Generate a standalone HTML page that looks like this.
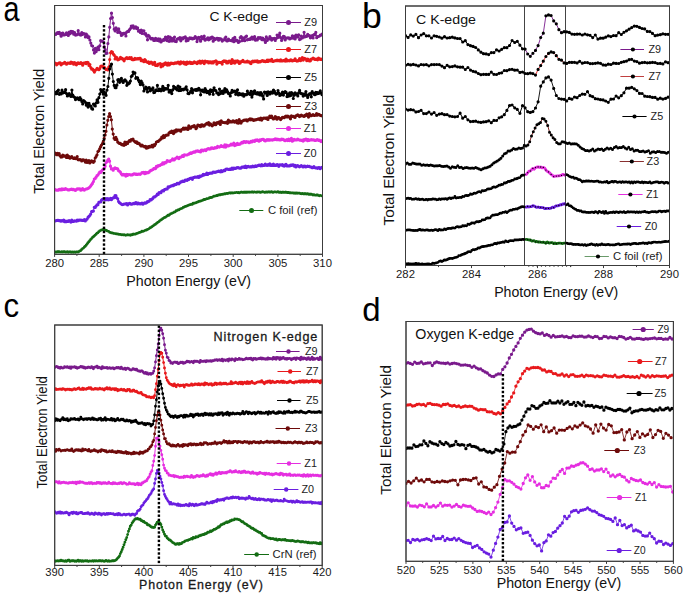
<!DOCTYPE html><html><head><meta charset="utf-8"><style>html,body{margin:0;padding:0;background:#fff;}svg{display:block;font-family:"Liberation Sans",sans-serif;}</style></head><body><svg width="685" height="594" viewBox="0 0 685 594" font-family="Liberation Sans, sans-serif"><rect width="685" height="594" fill="#fff"/><defs><clipPath id="ca"><rect x="54.6" y="5.5" width="267.9" height="248.8"/></clipPath><clipPath id="cb"><rect x="405.5" y="6" width="264" height="259.5"/></clipPath><clipPath id="cc"><rect x="54.7" y="325" width="267.5" height="240.4"/></clipPath><clipPath id="cd"><rect x="406" y="321.5" width="267.4" height="239.8"/></clipPath></defs><rect x="54.6" y="5.5" width="267.9" height="248.8" fill="none" stroke="#3c3c3c" stroke-width="1"/><text x="54.6" y="266.8" font-size="11.3" text-anchor="middle" fill="#1a1a1a">280</text><text x="99.2" y="266.8" font-size="11.3" text-anchor="middle" fill="#1a1a1a">285</text><text x="143.9" y="266.8" font-size="11.3" text-anchor="middle" fill="#1a1a1a">290</text><text x="188.5" y="266.8" font-size="11.3" text-anchor="middle" fill="#1a1a1a">295</text><text x="233.2" y="266.8" font-size="11.3" text-anchor="middle" fill="#1a1a1a">300</text><text x="277.9" y="266.8" font-size="11.3" text-anchor="middle" fill="#1a1a1a">305</text><text x="322.5" y="266.8" font-size="11.3" text-anchor="middle" fill="#1a1a1a">310</text><path d="M54.6 254.3v2.6M99.2 254.3v2.6M143.9 254.3v2.6M188.5 254.3v2.6M233.2 254.3v2.6M277.9 254.3v2.6M322.5 254.3v2.6M76.9 254.3v1.6M121.6 254.3v1.6M166.2 254.3v1.6M210.9 254.3v1.6M255.5 254.3v1.6M300.2 254.3v1.6" stroke="#3c3c3c" stroke-width="1" fill="none"/><g clip-path="url(#ca)"><path d="M54.8 33.9L55.7 34.4L56.6 33.5L57.5 32.5L58.4 33.3L59.3 32.4L60.2 34.1L61.1 36.2L62 33.3L62.9 33.1L63.8 34.9L64.7 34.8L65.6 34.4L66.5 32.8L67.4 34.3L68.3 35.5L69.2 32.2L70.1 33.7L71 31.4L71.9 32.4L72.8 31.6L73.7 34.2L74.6 32.6L75.5 35.1L76.4 34.9L77.3 34.4L78.2 30.7L79.1 33.9L80 34.8L80.9 35.1L81.8 32.5L82.7 34.3L83.6 33.5L84.5 33.9L85.4 37L86.3 34.1L87.2 35.4L88.1 37.6L89 36.9L89.9 40L90.8 43L91.7 45.6L92.6 46L93.5 49.9L94.4 53.1L95.3 48.4L96.2 51.6L97.1 49.3L98 47L98.9 49.7L99.8 45.8L100.7 40.7L101.6 41.2L102.5 41.4L103.4 41.8L104.3 46.9L105.2 49.7L106.1 53.4L107 53.2L107.9 43.5L108.8 36.9L109.7 27.3L110.6 18.5L111.5 13.2L112.4 17.5L113.3 23.3L114.2 29.2L115.1 30.9L116 27.8L116.9 29.5L117.8 32.5L118.7 28.9L119.6 31.9L120.5 32.9L121.4 35.4L122.3 34.8L123.2 33.3L124.1 33.3L125 33.4L125.9 35.9L126.8 32.1L127.7 31.4L128.6 31.5L129.5 29.7L130.4 28.5L131.3 26.1L132.2 27.1L133.1 25.9L134 28.2L134.9 27.5L135.8 26.8L136.7 28.6L137.6 27.9L138.5 31.2L139.4 30.5L140.3 32.4L141.2 30.2L142.1 33.5L143 30.8L143.9 30.8L144.8 34.1L145.7 33.7L146.6 35.9L147.5 39.8L148.4 35.4L149.3 36.3L150.2 38.1L151.1 39L152 38.3L152.9 38.7L153.8 40.5L154.7 40.5L155.6 38.3L156.5 40.1L157.4 40.4L158.3 38.8L159.2 40.9L160.1 39.1L161 42L161.9 40.8L162.8 40.6L163.7 39.4L164.6 40.1L165.5 37.1L166.4 38.4L167.3 40.7L168.2 36.7L169.1 41.3L170 37.1L170.9 41L171.8 38.4L172.7 40.9L173.6 39.8L174.5 37L175.4 41.4L176.3 41.6L177.2 39.1L178.1 38.7L179 38.9L179.9 37.5L180.8 40.8L181.7 38.1L182.6 38.9L183.5 37.6L184.4 37.9L185.3 36.9L186.2 40.9L187.1 38.7L188 40.4L188.9 38.9L189.8 37.8L190.7 38.4L191.6 38L192.5 38.9L193.4 38.3L194.3 38.4L195.2 36.7L196.1 37.6L197 41.6L197.9 37.9L198.8 37.3L199.7 39.5L200.6 41.2L201.5 36.7L202.4 38.7L203.3 38L204.2 36.2L205.1 40.2L206 39L206.9 39.1L207.8 37.8L208.7 39.8L209.6 38.2L210.5 38.8L211.4 37.3L212.3 37.1L213.2 41.2L214.1 38.3L215 39.6L215.9 39.1L216.8 38.4L217.7 38.3L218.6 40.2L219.5 38.7L220.4 38.9L221.3 39.2L222.2 41.1L223.1 40.3L224 39.8L224.9 38.3L225.8 37L226.7 40.8L227.6 40.8L228.5 39L229.4 40.1L230.3 40.5L231.2 40.6L232.1 40.8L233 38.6L233.9 41.7L234.8 37.3L235.7 40.7L236.6 40.1L237.5 40.7L238.4 42.4L239.3 41.7L240.2 37.5L241.1 36.7L242 40.7L242.9 37.8L243.8 39.4L244.7 40.7L245.6 36.8L246.5 36L247.4 39.8L248.3 39.5L249.2 39L250.1 39.5L251 38L251.9 37L252.8 39.1L253.7 37.8L254.6 36.7L255.5 40.2L256.4 39.3L257.3 40L258.2 37.7L259.1 38.3L260 37.7L260.9 37.8L261.8 39.6L262.7 38L263.6 39.8L264.5 39.7L265.4 42.4L266.3 36.9L267.2 40.5L268.1 38.9L269 39L269.9 36.6L270.8 38.2L271.7 40.1L272.6 38.7L273.5 38.9L274.4 38.3L275.3 40.5L276.2 38.6L277.1 35.1L278 37.4L278.9 35.3L279.8 33.2L280.7 37.5L281.6 40.4L282.5 38.3L283.4 36.3L284.3 36.6L285.2 39.9L286.1 38.2L287 38L287.9 37.8L288.8 37.8L289.7 39L290.6 38.5L291.5 37.9L292.4 35.8L293.3 38.2L294.2 36.3L295.1 39L296 35.2L296.9 36.9L297.8 37L298.7 34.8L299.6 39.6L300.5 39.1L301.4 36L302.3 37.9L303.2 37.2L304.1 32.3L305 36.8L305.9 36.2L306.8 36.3L307.7 34.4L308.6 35.6L309.5 35.7L310.4 37.8L311.3 36.3L312.2 35.7L313.1 38L314 34.6L314.9 34.8L315.8 32.4L316.7 37.7L317.6 36.7L318.5 36.5L319.4 36L320.3 35L321.2 35.1L322.1 34.2" fill="none" stroke="#7a1a8c" stroke-width="1.0" stroke-linejoin="round"/><path d="M54.8 33.9h0M55.7 34.4h0M56.6 33.5h0M57.5 32.5h0M58.4 33.3h0M59.3 32.4h0M60.2 34.1h0M61.1 36.2h0M62 33.3h0M62.9 33.1h0M63.8 34.9h0M64.7 34.8h0M65.6 34.4h0M66.5 32.8h0M67.4 34.3h0M68.3 35.5h0M69.2 32.2h0M70.1 33.7h0M71 31.4h0M71.9 32.4h0M72.8 31.6h0M73.7 34.2h0M74.6 32.6h0M75.5 35.1h0M76.4 34.9h0M77.3 34.4h0M78.2 30.7h0M79.1 33.9h0M80 34.8h0M80.9 35.1h0M81.8 32.5h0M82.7 34.3h0M83.6 33.5h0M84.5 33.9h0M85.4 37h0M86.3 34.1h0M87.2 35.4h0M88.1 37.6h0M89 36.9h0M89.9 40h0M90.8 43h0M91.7 45.6h0M92.6 46h0M93.5 49.9h0M94.4 53.1h0M95.3 48.4h0M96.2 51.6h0M97.1 49.3h0M98 47h0M98.9 49.7h0M99.8 45.8h0M100.7 40.7h0M101.6 41.2h0M102.5 41.4h0M103.4 41.8h0M104.3 46.9h0M105.2 49.7h0M106.1 53.4h0M107 53.2h0M107.9 43.5h0M108.8 36.9h0M109.7 27.3h0M110.6 18.5h0M111.5 13.2h0M112.4 17.5h0M113.3 23.3h0M114.2 29.2h0M115.1 30.9h0M116 27.8h0M116.9 29.5h0M117.8 32.5h0M118.7 28.9h0M119.6 31.9h0M120.5 32.9h0M121.4 35.4h0M122.3 34.8h0M123.2 33.3h0M124.1 33.3h0M125 33.4h0M125.9 35.9h0M126.8 32.1h0M127.7 31.4h0M128.6 31.5h0M129.5 29.7h0M130.4 28.5h0M131.3 26.1h0M132.2 27.1h0M133.1 25.9h0M134 28.2h0M134.9 27.5h0M135.8 26.8h0M136.7 28.6h0M137.6 27.9h0M138.5 31.2h0M139.4 30.5h0M140.3 32.4h0M141.2 30.2h0M142.1 33.5h0M143 30.8h0M143.9 30.8h0M144.8 34.1h0M145.7 33.7h0M146.6 35.9h0M147.5 39.8h0M148.4 35.4h0M149.3 36.3h0M150.2 38.1h0M151.1 39h0M152 38.3h0M152.9 38.7h0M153.8 40.5h0M154.7 40.5h0M155.6 38.3h0M156.5 40.1h0M157.4 40.4h0M158.3 38.8h0M159.2 40.9h0M160.1 39.1h0M161 42h0M161.9 40.8h0M162.8 40.6h0M163.7 39.4h0M164.6 40.1h0M165.5 37.1h0M166.4 38.4h0M167.3 40.7h0M168.2 36.7h0M169.1 41.3h0M170 37.1h0M170.9 41h0M171.8 38.4h0M172.7 40.9h0M173.6 39.8h0M174.5 37h0M175.4 41.4h0M176.3 41.6h0M177.2 39.1h0M178.1 38.7h0M179 38.9h0M179.9 37.5h0M180.8 40.8h0M181.7 38.1h0M182.6 38.9h0M183.5 37.6h0M184.4 37.9h0M185.3 36.9h0M186.2 40.9h0M187.1 38.7h0M188 40.4h0M188.9 38.9h0M189.8 37.8h0M190.7 38.4h0M191.6 38h0M192.5 38.9h0M193.4 38.3h0M194.3 38.4h0M195.2 36.7h0M196.1 37.6h0M197 41.6h0M197.9 37.9h0M198.8 37.3h0M199.7 39.5h0M200.6 41.2h0M201.5 36.7h0M202.4 38.7h0M203.3 38h0M204.2 36.2h0M205.1 40.2h0M206 39h0M206.9 39.1h0M207.8 37.8h0M208.7 39.8h0M209.6 38.2h0M210.5 38.8h0M211.4 37.3h0M212.3 37.1h0M213.2 41.2h0M214.1 38.3h0M215 39.6h0M215.9 39.1h0M216.8 38.4h0M217.7 38.3h0M218.6 40.2h0M219.5 38.7h0M220.4 38.9h0M221.3 39.2h0M222.2 41.1h0M223.1 40.3h0M224 39.8h0M224.9 38.3h0M225.8 37h0M226.7 40.8h0M227.6 40.8h0M228.5 39h0M229.4 40.1h0M230.3 40.5h0M231.2 40.6h0M232.1 40.8h0M233 38.6h0M233.9 41.7h0M234.8 37.3h0M235.7 40.7h0M236.6 40.1h0M237.5 40.7h0M238.4 42.4h0M239.3 41.7h0M240.2 37.5h0M241.1 36.7h0M242 40.7h0M242.9 37.8h0M243.8 39.4h0M244.7 40.7h0M245.6 36.8h0M246.5 36h0M247.4 39.8h0M248.3 39.5h0M249.2 39h0M250.1 39.5h0M251 38h0M251.9 37h0M252.8 39.1h0M253.7 37.8h0M254.6 36.7h0M255.5 40.2h0M256.4 39.3h0M257.3 40h0M258.2 37.7h0M259.1 38.3h0M260 37.7h0M260.9 37.8h0M261.8 39.6h0M262.7 38h0M263.6 39.8h0M264.5 39.7h0M265.4 42.4h0M266.3 36.9h0M267.2 40.5h0M268.1 38.9h0M269 39h0M269.9 36.6h0M270.8 38.2h0M271.7 40.1h0M272.6 38.7h0M273.5 38.9h0M274.4 38.3h0M275.3 40.5h0M276.2 38.6h0M277.1 35.1h0M278 37.4h0M278.9 35.3h0M279.8 33.2h0M280.7 37.5h0M281.6 40.4h0M282.5 38.3h0M283.4 36.3h0M284.3 36.6h0M285.2 39.9h0M286.1 38.2h0M287 38h0M287.9 37.8h0M288.8 37.8h0M289.7 39h0M290.6 38.5h0M291.5 37.9h0M292.4 35.8h0M293.3 38.2h0M294.2 36.3h0M295.1 39h0M296 35.2h0M296.9 36.9h0M297.8 37h0M298.7 34.8h0M299.6 39.6h0M300.5 39.1h0M301.4 36h0M302.3 37.9h0M303.2 37.2h0M304.1 32.3h0M305 36.8h0M305.9 36.2h0M306.8 36.3h0M307.7 34.4h0M308.6 35.6h0M309.5 35.7h0M310.4 37.8h0M311.3 36.3h0M312.2 35.7h0M313.1 38h0M314 34.6h0M314.9 34.8h0M315.8 32.4h0M316.7 37.7h0M317.6 36.7h0M318.5 36.5h0M319.4 36h0M320.3 35h0M321.2 35.1h0M322.1 34.2h0" fill="none" stroke="#7a1a8c" stroke-width="3.2" stroke-linecap="round"/><path d="M54.8 63.2L55.7 63.4L56.6 64.8L57.5 63.9L58.4 63.3L59.3 62.9L60.2 62.8L61.1 64.8L62 63.9L62.9 63.5L63.8 63.1L64.7 62.4L65.6 63.3L66.5 64.2L67.4 63L68.3 63.2L69.2 63.2L70.1 63.5L71 62L71.9 63.2L72.8 62.6L73.7 64.2L74.6 62.7L75.5 63.9L76.4 64.8L77.3 63.1L78.2 62.9L79.1 63.6L80 63.4L80.9 62.5L81.8 63.8L82.7 65.2L83.6 63.2L84.5 63.2L85.4 62.5L86.3 63.7L87.2 62.3L88.1 62.7L89 65.5L89.9 64.6L90.8 67.6L91.7 69.2L92.6 69.2L93.5 70.4L94.4 72.1L95.3 70.2L96.2 69.5L97.1 68.4L98 69.1L98.9 69.7L99.8 68.6L100.7 66.4L101.6 66.1L102.5 66.2L103.4 67.2L104.3 67.3L105.2 68.5L106.1 69.4L107 69.4L107.9 70L108.8 67.2L109.7 59.5L110.6 52.8L111.5 51.7L112.4 52L113.3 54.1L114.2 55.2L115.1 59L116 57.2L116.9 57.7L117.8 59.8L118.7 59.6L119.6 58.8L120.5 57.4L121.4 58.6L122.3 58.3L123.2 59.4L124.1 60.8L125 59L125.9 58L126.8 57.7L127.7 58.6L128.6 58.5L129.5 57.6L130.4 58.7L131.3 57.6L132.2 59.6L133.1 59.6L134 59.6L134.9 58.3L135.8 59.2L136.7 58.8L137.6 58.7L138.5 59L139.4 58.3L140.3 58.4L141.2 60.7L142.1 60L143 60.7L143.9 61.7L144.8 59.5L145.7 60.7L146.6 61.8L147.5 62.3L148.4 61.9L149.3 63.5L150.2 63L151.1 62L152 62.5L152.9 64.3L153.8 64.2L154.7 62.3L155.6 65.4L156.5 64.8L157.4 65.6L158.3 64.1L159.2 64.2L160.1 63.5L161 66.8L161.9 64.3L162.8 65.9L163.7 63.8L164.6 64.5L165.5 62.8L166.4 63.9L167.3 65.1L168.2 63L169.1 65L170 64.3L170.9 63L171.8 63.4L172.7 63.4L173.6 63.7L174.5 63.2L175.4 62.8L176.3 63.2L177.2 62.5L178.1 62.2L179 63.3L179.9 64L180.8 61.8L181.7 63.1L182.6 62.5L183.5 62.2L184.4 63.8L185.3 62.5L186.2 64.3L187.1 62.2L188 63.3L188.9 62.7L189.8 62.2L190.7 63.4L191.6 62.7L192.5 63.4L193.4 62.7L194.3 61.8L195.2 62.7L196.1 62.8L197 63.6L197.9 61.9L198.8 62.7L199.7 61.1L200.6 63.2L201.5 61.7L202.4 61L203.3 62.6L204.2 63.6L205.1 61.2L206 61.6L206.9 61.9L207.8 61.5L208.7 62.9L209.6 61.8L210.5 61.9L211.4 63L212.3 61.8L213.2 62.9L214.1 61.6L215 61.4L215.9 60.8L216.8 64.1L217.7 62.1L218.6 62.6L219.5 62.4L220.4 62.5L221.3 62.4L222.2 64.1L223.1 61.4L224 60.9L224.9 61.4L225.8 61.1L226.7 63L227.6 63L228.5 61.4L229.4 61L230.3 61.9L231.2 63.5L232.1 59.7L233 62.7L233.9 61.2L234.8 63.1L235.7 61.2L236.6 61.9L237.5 60.8L238.4 61.3L239.3 63.4L240.2 62.9L241.1 61.7L242 61.3L242.9 60.4L243.8 61.7L244.7 62L245.6 61.9L246.5 61.9L247.4 61L248.3 61.9L249.2 61.9L250.1 63.1L251 63.6L251.9 61.7L252.8 61.2L253.7 61.8L254.6 61.2L255.5 61.1L256.4 61.7L257.3 60.8L258.2 62.2L259.1 61.6L260 61.9L260.9 61.4L261.8 60.9L262.7 60.7L263.6 61.3L264.5 61L265.4 61.7L266.3 61.4L267.2 60.2L268.1 61.4L269 60.1L269.9 60.7L270.8 61L271.7 59.4L272.6 61.3L273.5 61.3L274.4 61L275.3 60.7L276.2 60.7L277.1 60.1L278 60.7L278.9 60.4L279.8 61L280.7 59.8L281.6 61L282.5 60.9L283.4 60.6L284.3 60.3L285.2 61.1L286.1 59.1L287 61L287.9 60.7L288.8 60.7L289.7 60.8L290.6 59.8L291.5 60.1L292.4 60.9L293.3 60.6L294.2 60.4L295.1 58.8L296 60.6L296.9 61.1L297.8 60.9L298.7 60.2L299.6 58.5L300.5 60.7L301.4 59.7L302.3 57.5L303.2 60.1L304.1 58.3L305 58.5L305.9 59L306.8 60.7L307.7 59.1L308.6 59.7L309.5 60.9L310.4 60.8L311.3 59.2L312.2 59L313.1 58L314 58.5L314.9 59.4L315.8 59.4L316.7 59.1L317.6 59.8L318.5 58.2L319.4 58.7L320.3 59.4L321.2 59.2L322.1 59.6" fill="none" stroke="#e8191c" stroke-width="1.0" stroke-linejoin="round"/><path d="M54.8 63.2h0M55.7 63.4h0M56.6 64.8h0M57.5 63.9h0M58.4 63.3h0M59.3 62.9h0M60.2 62.8h0M61.1 64.8h0M62 63.9h0M62.9 63.5h0M63.8 63.1h0M64.7 62.4h0M65.6 63.3h0M66.5 64.2h0M67.4 63h0M68.3 63.2h0M69.2 63.2h0M70.1 63.5h0M71 62h0M71.9 63.2h0M72.8 62.6h0M73.7 64.2h0M74.6 62.7h0M75.5 63.9h0M76.4 64.8h0M77.3 63.1h0M78.2 62.9h0M79.1 63.6h0M80 63.4h0M80.9 62.5h0M81.8 63.8h0M82.7 65.2h0M83.6 63.2h0M84.5 63.2h0M85.4 62.5h0M86.3 63.7h0M87.2 62.3h0M88.1 62.7h0M89 65.5h0M89.9 64.6h0M90.8 67.6h0M91.7 69.2h0M92.6 69.2h0M93.5 70.4h0M94.4 72.1h0M95.3 70.2h0M96.2 69.5h0M97.1 68.4h0M98 69.1h0M98.9 69.7h0M99.8 68.6h0M100.7 66.4h0M101.6 66.1h0M102.5 66.2h0M103.4 67.2h0M104.3 67.3h0M105.2 68.5h0M106.1 69.4h0M107 69.4h0M107.9 70h0M108.8 67.2h0M109.7 59.5h0M110.6 52.8h0M111.5 51.7h0M112.4 52h0M113.3 54.1h0M114.2 55.2h0M115.1 59h0M116 57.2h0M116.9 57.7h0M117.8 59.8h0M118.7 59.6h0M119.6 58.8h0M120.5 57.4h0M121.4 58.6h0M122.3 58.3h0M123.2 59.4h0M124.1 60.8h0M125 59h0M125.9 58h0M126.8 57.7h0M127.7 58.6h0M128.6 58.5h0M129.5 57.6h0M130.4 58.7h0M131.3 57.6h0M132.2 59.6h0M133.1 59.6h0M134 59.6h0M134.9 58.3h0M135.8 59.2h0M136.7 58.8h0M137.6 58.7h0M138.5 59h0M139.4 58.3h0M140.3 58.4h0M141.2 60.7h0M142.1 60h0M143 60.7h0M143.9 61.7h0M144.8 59.5h0M145.7 60.7h0M146.6 61.8h0M147.5 62.3h0M148.4 61.9h0M149.3 63.5h0M150.2 63h0M151.1 62h0M152 62.5h0M152.9 64.3h0M153.8 64.2h0M154.7 62.3h0M155.6 65.4h0M156.5 64.8h0M157.4 65.6h0M158.3 64.1h0M159.2 64.2h0M160.1 63.5h0M161 66.8h0M161.9 64.3h0M162.8 65.9h0M163.7 63.8h0M164.6 64.5h0M165.5 62.8h0M166.4 63.9h0M167.3 65.1h0M168.2 63h0M169.1 65h0M170 64.3h0M170.9 63h0M171.8 63.4h0M172.7 63.4h0M173.6 63.7h0M174.5 63.2h0M175.4 62.8h0M176.3 63.2h0M177.2 62.5h0M178.1 62.2h0M179 63.3h0M179.9 64h0M180.8 61.8h0M181.7 63.1h0M182.6 62.5h0M183.5 62.2h0M184.4 63.8h0M185.3 62.5h0M186.2 64.3h0M187.1 62.2h0M188 63.3h0M188.9 62.7h0M189.8 62.2h0M190.7 63.4h0M191.6 62.7h0M192.5 63.4h0M193.4 62.7h0M194.3 61.8h0M195.2 62.7h0M196.1 62.8h0M197 63.6h0M197.9 61.9h0M198.8 62.7h0M199.7 61.1h0M200.6 63.2h0M201.5 61.7h0M202.4 61h0M203.3 62.6h0M204.2 63.6h0M205.1 61.2h0M206 61.6h0M206.9 61.9h0M207.8 61.5h0M208.7 62.9h0M209.6 61.8h0M210.5 61.9h0M211.4 63h0M212.3 61.8h0M213.2 62.9h0M214.1 61.6h0M215 61.4h0M215.9 60.8h0M216.8 64.1h0M217.7 62.1h0M218.6 62.6h0M219.5 62.4h0M220.4 62.5h0M221.3 62.4h0M222.2 64.1h0M223.1 61.4h0M224 60.9h0M224.9 61.4h0M225.8 61.1h0M226.7 63h0M227.6 63h0M228.5 61.4h0M229.4 61h0M230.3 61.9h0M231.2 63.5h0M232.1 59.7h0M233 62.7h0M233.9 61.2h0M234.8 63.1h0M235.7 61.2h0M236.6 61.9h0M237.5 60.8h0M238.4 61.3h0M239.3 63.4h0M240.2 62.9h0M241.1 61.7h0M242 61.3h0M242.9 60.4h0M243.8 61.7h0M244.7 62h0M245.6 61.9h0M246.5 61.9h0M247.4 61h0M248.3 61.9h0M249.2 61.9h0M250.1 63.1h0M251 63.6h0M251.9 61.7h0M252.8 61.2h0M253.7 61.8h0M254.6 61.2h0M255.5 61.1h0M256.4 61.7h0M257.3 60.8h0M258.2 62.2h0M259.1 61.6h0M260 61.9h0M260.9 61.4h0M261.8 60.9h0M262.7 60.7h0M263.6 61.3h0M264.5 61h0M265.4 61.7h0M266.3 61.4h0M267.2 60.2h0M268.1 61.4h0M269 60.1h0M269.9 60.7h0M270.8 61h0M271.7 59.4h0M272.6 61.3h0M273.5 61.3h0M274.4 61h0M275.3 60.7h0M276.2 60.7h0M277.1 60.1h0M278 60.7h0M278.9 60.4h0M279.8 61h0M280.7 59.8h0M281.6 61h0M282.5 60.9h0M283.4 60.6h0M284.3 60.3h0M285.2 61.1h0M286.1 59.1h0M287 61h0M287.9 60.7h0M288.8 60.7h0M289.7 60.8h0M290.6 59.8h0M291.5 60.1h0M292.4 60.9h0M293.3 60.6h0M294.2 60.4h0M295.1 58.8h0M296 60.6h0M296.9 61.1h0M297.8 60.9h0M298.7 60.2h0M299.6 58.5h0M300.5 60.7h0M301.4 59.7h0M302.3 57.5h0M303.2 60.1h0M304.1 58.3h0M305 58.5h0M305.9 59h0M306.8 60.7h0M307.7 59.1h0M308.6 59.7h0M309.5 60.9h0M310.4 60.8h0M311.3 59.2h0M312.2 59h0M313.1 58h0M314 58.5h0M314.9 59.4h0M315.8 59.4h0M316.7 59.1h0M317.6 59.8h0M318.5 58.2h0M319.4 58.7h0M320.3 59.4h0M321.2 59.2h0M322.1 59.6h0" fill="none" stroke="#e8191c" stroke-width="3.2" stroke-linecap="round"/><path d="M54.8 93.8L55.7 92.4L56.6 93.7L57.5 91.2L58.4 90L59.3 94.3L60.2 93.2L61.1 94L62 90.2L62.9 92.9L63.8 92.6L64.7 92.2L65.6 89.7L66.5 93.5L67.4 96L68.3 95.2L69.2 93.5L70.1 94.8L71 96.5L71.9 90L72.8 95.2L73.7 96.7L74.6 97.3L75.5 99.6L76.4 98.9L77.3 97.8L78.2 98.3L79.1 99.7L80 97.7L80.9 99.1L81.8 101.5L82.7 104L83.6 100.6L84.5 101.3L85.4 102.3L86.3 105.2L87.2 103.4L88.1 107.1L89 103.3L89.9 105.6L90.8 106.2L91.7 108.5L92.6 109.2L93.5 104.1L94.4 104.6L95.3 106L96.2 102.9L97.1 99.9L98 102.3L98.9 97.7L99.8 94.1L100.7 89.6L101.6 91.7L102.5 90.1L103.4 94.2L104.3 92L105.2 93.3L106.1 95.3L107 90.1L107.9 86.5L108.8 78.3L109.7 69L110.6 66L111.5 64.2L112.4 74.1L113.3 81.5L114.2 85.4L115.1 87.6L116 87.7L116.9 85.2L117.8 79.9L118.7 79.6L119.6 82.3L120.5 79.5L121.4 78.4L122.3 81.1L123.2 82.4L124.1 80.7L125 79.8L125.9 80.8L126.8 85.3L127.7 82.8L128.6 83.8L129.5 82.9L130.4 81.1L131.3 76.5L132.2 75.7L133.1 72L134 73.3L134.9 72.9L135.8 78.3L136.7 77.6L137.6 77.9L138.5 80.2L139.4 81.9L140.3 84.6L141.2 81L142.1 82.8L143 84.8L143.9 91L144.8 88.6L145.7 87.1L146.6 89.1L147.5 92L148.4 87.9L149.3 87.7L150.2 90.8L151.1 89.6L152 90L152.9 87.9L153.8 92.6L154.7 92.3L155.6 90.2L156.5 90.5L157.4 85.4L158.3 90.6L159.2 89L160.1 90.3L161 90.8L161.9 88.9L162.8 86.4L163.7 90.3L164.6 88.3L165.5 89.1L166.4 88.6L167.3 89.1L168.2 85.4L169.1 92.1L170 90.3L170.9 91.9L171.8 93.6L172.7 89.9L173.6 86.4L174.5 88.2L175.4 87.6L176.3 88.9L177.2 90L178.1 86.1L179 90.6L179.9 87L180.8 90.5L181.7 89.7L182.6 89.3L183.5 89.8L184.4 88.9L185.3 88.8L186.2 86.8L187.1 89.9L188 93.5L188.9 93.7L189.8 92.5L190.7 91.4L191.6 88.7L192.5 92.8L193.4 90L194.3 90L195.2 89.6L196.1 90.4L197 89.4L197.9 90.1L198.8 88.3L199.7 89.7L200.6 94.8L201.5 90.4L202.4 90.1L203.3 91.6L204.2 92L205.1 88.6L206 90.4L206.9 92.6L207.8 91.5L208.7 91.3L209.6 94.1L210.5 89.9L211.4 91.4L212.3 90.4L213.2 94.3L214.1 87.8L215 90.3L215.9 90.7L216.8 93L217.7 93L218.6 94.6L219.5 89L220.4 93.6L221.3 91.7L222.2 91L223.1 93.4L224 90.7L224.9 88.6L225.8 91.9L226.7 89.9L227.6 91.6L228.5 93.6L229.4 93.5L230.3 96L231.2 92.7L232.1 90.3L233 91.8L233.9 91.6L234.8 91.1L235.7 94.3L236.6 92.3L237.5 89.8L238.4 94.9L239.3 93.4L240.2 94.4L241.1 94L242 95L242.9 93.9L243.8 96.2L244.7 94.7L245.6 94.7L246.5 94.7L247.4 91.2L248.3 93.7L249.2 93.5L250.1 94.4L251 91.4L251.9 97.1L252.8 94.2L253.7 91.7L254.6 90.8L255.5 93.5L256.4 93.8L257.3 92.6L258.2 94.2L259.1 92.8L260 95L260.9 92.6L261.8 93.9L262.7 95.9L263.6 98.9L264.5 92.1L265.4 93.1L266.3 92.4L267.2 95.5L268.1 91.8L269 93.1L269.9 93.9L270.8 92.1L271.7 92.2L272.6 93.1L273.5 90L274.4 91.2L275.3 93.2L276.2 94.2L277.1 93.6L278 90.6L278.9 93.1L279.8 95.5L280.7 95L281.6 93.8L282.5 92.2L283.4 95.1L284.3 92.8L285.2 91.7L286.1 92.4L287 96.6L287.9 94.3L288.8 96.1L289.7 92.9L290.6 95.6L291.5 92.7L292.4 93.5L293.3 98.5L294.2 95.2L295.1 92.8L296 93.6L296.9 94.4L297.8 96L298.7 92.8L299.6 90.4L300.5 93.1L301.4 93.7L302.3 93.8L303.2 96.1L304.1 94.2L305 95.1L305.9 91.5L306.8 95.2L307.7 97.5L308.6 94.9L309.5 93.9L310.4 93.7L311.3 96.8L312.2 91.6L313.1 93.1L314 94.2L314.9 94.7L315.8 92.4L316.7 93.8L317.6 92.7L318.5 93.4L319.4 92.9L320.3 90.9L321.2 93L322.1 94.7" fill="none" stroke="#000000" stroke-width="1.0" stroke-linejoin="round"/><path d="M54.8 93.8h0M55.7 92.4h0M56.6 93.7h0M57.5 91.2h0M58.4 90h0M59.3 94.3h0M60.2 93.2h0M61.1 94h0M62 90.2h0M62.9 92.9h0M63.8 92.6h0M64.7 92.2h0M65.6 89.7h0M66.5 93.5h0M67.4 96h0M68.3 95.2h0M69.2 93.5h0M70.1 94.8h0M71 96.5h0M71.9 90h0M72.8 95.2h0M73.7 96.7h0M74.6 97.3h0M75.5 99.6h0M76.4 98.9h0M77.3 97.8h0M78.2 98.3h0M79.1 99.7h0M80 97.7h0M80.9 99.1h0M81.8 101.5h0M82.7 104h0M83.6 100.6h0M84.5 101.3h0M85.4 102.3h0M86.3 105.2h0M87.2 103.4h0M88.1 107.1h0M89 103.3h0M89.9 105.6h0M90.8 106.2h0M91.7 108.5h0M92.6 109.2h0M93.5 104.1h0M94.4 104.6h0M95.3 106h0M96.2 102.9h0M97.1 99.9h0M98 102.3h0M98.9 97.7h0M99.8 94.1h0M100.7 89.6h0M101.6 91.7h0M102.5 90.1h0M103.4 94.2h0M104.3 92h0M105.2 93.3h0M106.1 95.3h0M107 90.1h0M107.9 86.5h0M108.8 78.3h0M109.7 69h0M110.6 66h0M111.5 64.2h0M112.4 74.1h0M113.3 81.5h0M114.2 85.4h0M115.1 87.6h0M116 87.7h0M116.9 85.2h0M117.8 79.9h0M118.7 79.6h0M119.6 82.3h0M120.5 79.5h0M121.4 78.4h0M122.3 81.1h0M123.2 82.4h0M124.1 80.7h0M125 79.8h0M125.9 80.8h0M126.8 85.3h0M127.7 82.8h0M128.6 83.8h0M129.5 82.9h0M130.4 81.1h0M131.3 76.5h0M132.2 75.7h0M133.1 72h0M134 73.3h0M134.9 72.9h0M135.8 78.3h0M136.7 77.6h0M137.6 77.9h0M138.5 80.2h0M139.4 81.9h0M140.3 84.6h0M141.2 81h0M142.1 82.8h0M143 84.8h0M143.9 91h0M144.8 88.6h0M145.7 87.1h0M146.6 89.1h0M147.5 92h0M148.4 87.9h0M149.3 87.7h0M150.2 90.8h0M151.1 89.6h0M152 90h0M152.9 87.9h0M153.8 92.6h0M154.7 92.3h0M155.6 90.2h0M156.5 90.5h0M157.4 85.4h0M158.3 90.6h0M159.2 89h0M160.1 90.3h0M161 90.8h0M161.9 88.9h0M162.8 86.4h0M163.7 90.3h0M164.6 88.3h0M165.5 89.1h0M166.4 88.6h0M167.3 89.1h0M168.2 85.4h0M169.1 92.1h0M170 90.3h0M170.9 91.9h0M171.8 93.6h0M172.7 89.9h0M173.6 86.4h0M174.5 88.2h0M175.4 87.6h0M176.3 88.9h0M177.2 90h0M178.1 86.1h0M179 90.6h0M179.9 87h0M180.8 90.5h0M181.7 89.7h0M182.6 89.3h0M183.5 89.8h0M184.4 88.9h0M185.3 88.8h0M186.2 86.8h0M187.1 89.9h0M188 93.5h0M188.9 93.7h0M189.8 92.5h0M190.7 91.4h0M191.6 88.7h0M192.5 92.8h0M193.4 90h0M194.3 90h0M195.2 89.6h0M196.1 90.4h0M197 89.4h0M197.9 90.1h0M198.8 88.3h0M199.7 89.7h0M200.6 94.8h0M201.5 90.4h0M202.4 90.1h0M203.3 91.6h0M204.2 92h0M205.1 88.6h0M206 90.4h0M206.9 92.6h0M207.8 91.5h0M208.7 91.3h0M209.6 94.1h0M210.5 89.9h0M211.4 91.4h0M212.3 90.4h0M213.2 94.3h0M214.1 87.8h0M215 90.3h0M215.9 90.7h0M216.8 93h0M217.7 93h0M218.6 94.6h0M219.5 89h0M220.4 93.6h0M221.3 91.7h0M222.2 91h0M223.1 93.4h0M224 90.7h0M224.9 88.6h0M225.8 91.9h0M226.7 89.9h0M227.6 91.6h0M228.5 93.6h0M229.4 93.5h0M230.3 96h0M231.2 92.7h0M232.1 90.3h0M233 91.8h0M233.9 91.6h0M234.8 91.1h0M235.7 94.3h0M236.6 92.3h0M237.5 89.8h0M238.4 94.9h0M239.3 93.4h0M240.2 94.4h0M241.1 94h0M242 95h0M242.9 93.9h0M243.8 96.2h0M244.7 94.7h0M245.6 94.7h0M246.5 94.7h0M247.4 91.2h0M248.3 93.7h0M249.2 93.5h0M250.1 94.4h0M251 91.4h0M251.9 97.1h0M252.8 94.2h0M253.7 91.7h0M254.6 90.8h0M255.5 93.5h0M256.4 93.8h0M257.3 92.6h0M258.2 94.2h0M259.1 92.8h0M260 95h0M260.9 92.6h0M261.8 93.9h0M262.7 95.9h0M263.6 98.9h0M264.5 92.1h0M265.4 93.1h0M266.3 92.4h0M267.2 95.5h0M268.1 91.8h0M269 93.1h0M269.9 93.9h0M270.8 92.1h0M271.7 92.2h0M272.6 93.1h0M273.5 90h0M274.4 91.2h0M275.3 93.2h0M276.2 94.2h0M277.1 93.6h0M278 90.6h0M278.9 93.1h0M279.8 95.5h0M280.7 95h0M281.6 93.8h0M282.5 92.2h0M283.4 95.1h0M284.3 92.8h0M285.2 91.7h0M286.1 92.4h0M287 96.6h0M287.9 94.3h0M288.8 96.1h0M289.7 92.9h0M290.6 95.6h0M291.5 92.7h0M292.4 93.5h0M293.3 98.5h0M294.2 95.2h0M295.1 92.8h0M296 93.6h0M296.9 94.4h0M297.8 96h0M298.7 92.8h0M299.6 90.4h0M300.5 93.1h0M301.4 93.7h0M302.3 93.8h0M303.2 96.1h0M304.1 94.2h0M305 95.1h0M305.9 91.5h0M306.8 95.2h0M307.7 97.5h0M308.6 94.9h0M309.5 93.9h0M310.4 93.7h0M311.3 96.8h0M312.2 91.6h0M313.1 93.1h0M314 94.2h0M314.9 94.7h0M315.8 92.4h0M316.7 93.8h0M317.6 92.7h0M318.5 93.4h0M319.4 92.9h0M320.3 90.9h0M321.2 93h0M322.1 94.7h0" fill="none" stroke="#000000" stroke-width="3.2" stroke-linecap="round"/><path d="M54.7 152.8L55.6 153.7L56.5 154.7L57.4 153.3L58.3 154.6L59.2 153.7L60.1 155.8L61 157.1L61.9 157L62.8 155.2L63.7 156.2L64.6 155.9L65.5 156L66.4 157.5L67.3 155.1L68.2 157.5L69.1 156.7L70 158.2L70.9 157.3L71.8 156.7L72.7 157.8L73.6 158.4L74.5 157.9L75.4 158.6L76.3 157.9L77.2 156.7L78.1 159.7L79 159.8L79.9 159.6L80.8 159.8L81.7 160.9L82.6 159.8L83.5 159.9L84.4 160.6L85.3 162.1L86.2 160L87.1 162.5L88 161L88.9 160.7L89.8 163L90.7 161.8L91.6 160.8L92.5 161.7L93.4 162.3L94.3 161.2L95.2 158L96.1 156.6L97 154.8L97.9 151.6L98.8 150.8L99.7 148.8L100.6 146.7L101.5 145L102.4 143.5L103.3 141.4L104.2 138.4L105.1 134.9L106 131.3L106.9 125L107.8 120.3L108.7 116.5L109.6 113.7L110.5 116.5L111.4 119.8L112.3 129.1L113.2 134.1L114.1 138.2L115 139.4L115.9 137.4L116.8 139.4L117.7 141.9L118.6 142.8L119.5 143.5L120.4 143.4L121.3 144.3L122.2 144.8L123.1 144.3L124 145.3L124.9 142.2L125.8 144.4L126.7 142.3L127.6 143.5L128.5 141.7L129.4 140.5L130.3 141.2L131.2 139.7L132.1 139.7L133 139.2L133.9 140.8L134.8 141.6L135.7 142.5L136.6 141.9L137.5 143.5L138.4 143.2L139.3 143.7L140.2 144.9L141.1 145.9L142 145.2L142.9 145.8L143.8 146.3L144.7 146.9L145.6 146.3L146.5 148.2L147.4 146.9L148.3 147.6L149.2 146.3L150.1 147L151 146.6L151.9 145.4L152.8 147L153.7 144.9L154.6 145.6L155.5 144.1L156.4 142L157.3 141.5L158.2 141.5L159.1 140.5L160 139.8L160.9 138.9L161.8 137L162.7 137.9L163.6 135.5L164.5 137.3L165.4 135.7L166.3 135.2L167.2 135.1L168.1 135L169 133L169.9 132.2L170.8 132.4L171.7 131.1L172.6 131.7L173.5 133.6L174.4 130.8L175.3 132L176.2 129.8L177.1 131L178 130.1L178.9 130.1L179.8 130.4L180.7 131.2L181.6 129.5L182.5 129.2L183.4 128L184.3 129.2L185.2 128.2L186.1 129L187 128L187.9 129.5L188.8 125.9L189.7 127.3L190.6 128.2L191.5 126.9L192.4 126.4L193.3 126.7L194.2 125.5L195.1 126.7L196 128.7L196.9 127.4L197.8 125.2L198.7 125.3L199.6 125.5L200.5 126.7L201.4 124.9L202.3 124.9L203.2 126.1L204.1 126L205 124.8L205.9 124L206.8 123.4L207.7 124.1L208.6 122.6L209.5 125.1L210.4 123.8L211.3 124.7L212.2 125.8L213.1 125L214 122.8L214.9 124.5L215.8 124.7L216.7 122.9L217.6 122.6L218.5 123.2L219.4 121.8L220.3 124.4L221.2 120.8L222.1 121.9L223 122.5L223.9 122.5L224.8 122.7L225.7 122.7L226.6 122.2L227.5 123.3L228.4 120.2L229.3 122.1L230.2 121.3L231.1 122L232 122L232.9 120.9L233.8 121L234.7 122.2L235.6 121.7L236.5 120.7L237.4 123L238.3 123.2L239.2 119.7L240.1 121.2L241 123.1L241.9 121.4L242.8 120.8L243.7 120.4L244.6 120L245.5 120.2L246.4 119.8L247.3 120.9L248.2 119.8L249.1 119.6L250 118.9L250.9 119.8L251.8 119L252.7 119.5L253.6 120.5L254.5 119.8L255.4 119.9L256.3 119.7L257.2 119.3L258.1 119.1L259 118.8L259.9 119.7L260.8 118L261.7 120.1L262.6 118.8L263.5 118L264.4 118.2L265.3 118L266.2 118.6L267.1 117.8L268 119.4L268.9 117.6L269.8 116.1L270.7 117.5L271.6 116.2L272.5 117.9L273.4 118.9L274.3 118.4L275.2 116.6L276.1 117L277 119.2L277.9 117.9L278.8 117.5L279.7 118.4L280.6 119.6L281.5 118.5L282.4 117.4L283.3 117.5L284.2 117.7L285.1 116.5L286 116L286.9 117L287.8 116L288.7 116.8L289.6 116.9L290.5 118.8L291.4 115.9L292.3 116.5L293.2 116.4L294.1 116.9L295 117.4L295.9 115.9L296.8 115.6L297.7 114.8L298.6 115.4L299.5 116.6L300.4 116.1L301.3 115.1L302.2 115.7L303.1 116L304 116.4L304.9 115.3L305.8 115.6L306.7 114.1L307.6 114.7L308.5 117.1L309.4 113.6L310.3 115.3L311.2 115.7L312.1 115.1L313 114.7L313.9 115.3L314.8 115.3L315.7 115.2L316.6 113.6L317.5 115.1L318.4 114.4L319.3 114.6L320.2 115.3L321.1 115.6L322 115.8" fill="none" stroke="#6e0a0a" stroke-width="1.0" stroke-linejoin="round"/><path d="M54.7 152.8h0M55.6 153.7h0M56.5 154.7h0M57.4 153.3h0M58.3 154.6h0M59.2 153.7h0M60.1 155.8h0M61 157.1h0M61.9 157h0M62.8 155.2h0M63.7 156.2h0M64.6 155.9h0M65.5 156h0M66.4 157.5h0M67.3 155.1h0M68.2 157.5h0M69.1 156.7h0M70 158.2h0M70.9 157.3h0M71.8 156.7h0M72.7 157.8h0M73.6 158.4h0M74.5 157.9h0M75.4 158.6h0M76.3 157.9h0M77.2 156.7h0M78.1 159.7h0M79 159.8h0M79.9 159.6h0M80.8 159.8h0M81.7 160.9h0M82.6 159.8h0M83.5 159.9h0M84.4 160.6h0M85.3 162.1h0M86.2 160h0M87.1 162.5h0M88 161h0M88.9 160.7h0M89.8 163h0M90.7 161.8h0M91.6 160.8h0M92.5 161.7h0M93.4 162.3h0M94.3 161.2h0M95.2 158h0M96.1 156.6h0M97 154.8h0M97.9 151.6h0M98.8 150.8h0M99.7 148.8h0M100.6 146.7h0M101.5 145h0M102.4 143.5h0M103.3 141.4h0M104.2 138.4h0M105.1 134.9h0M106 131.3h0M106.9 125h0M107.8 120.3h0M108.7 116.5h0M109.6 113.7h0M110.5 116.5h0M111.4 119.8h0M112.3 129.1h0M113.2 134.1h0M114.1 138.2h0M115 139.4h0M115.9 137.4h0M116.8 139.4h0M117.7 141.9h0M118.6 142.8h0M119.5 143.5h0M120.4 143.4h0M121.3 144.3h0M122.2 144.8h0M123.1 144.3h0M124 145.3h0M124.9 142.2h0M125.8 144.4h0M126.7 142.3h0M127.6 143.5h0M128.5 141.7h0M129.4 140.5h0M130.3 141.2h0M131.2 139.7h0M132.1 139.7h0M133 139.2h0M133.9 140.8h0M134.8 141.6h0M135.7 142.5h0M136.6 141.9h0M137.5 143.5h0M138.4 143.2h0M139.3 143.7h0M140.2 144.9h0M141.1 145.9h0M142 145.2h0M142.9 145.8h0M143.8 146.3h0M144.7 146.9h0M145.6 146.3h0M146.5 148.2h0M147.4 146.9h0M148.3 147.6h0M149.2 146.3h0M150.1 147h0M151 146.6h0M151.9 145.4h0M152.8 147h0M153.7 144.9h0M154.6 145.6h0M155.5 144.1h0M156.4 142h0M157.3 141.5h0M158.2 141.5h0M159.1 140.5h0M160 139.8h0M160.9 138.9h0M161.8 137h0M162.7 137.9h0M163.6 135.5h0M164.5 137.3h0M165.4 135.7h0M166.3 135.2h0M167.2 135.1h0M168.1 135h0M169 133h0M169.9 132.2h0M170.8 132.4h0M171.7 131.1h0M172.6 131.7h0M173.5 133.6h0M174.4 130.8h0M175.3 132h0M176.2 129.8h0M177.1 131h0M178 130.1h0M178.9 130.1h0M179.8 130.4h0M180.7 131.2h0M181.6 129.5h0M182.5 129.2h0M183.4 128h0M184.3 129.2h0M185.2 128.2h0M186.1 129h0M187 128h0M187.9 129.5h0M188.8 125.9h0M189.7 127.3h0M190.6 128.2h0M191.5 126.9h0M192.4 126.4h0M193.3 126.7h0M194.2 125.5h0M195.1 126.7h0M196 128.7h0M196.9 127.4h0M197.8 125.2h0M198.7 125.3h0M199.6 125.5h0M200.5 126.7h0M201.4 124.9h0M202.3 124.9h0M203.2 126.1h0M204.1 126h0M205 124.8h0M205.9 124h0M206.8 123.4h0M207.7 124.1h0M208.6 122.6h0M209.5 125.1h0M210.4 123.8h0M211.3 124.7h0M212.2 125.8h0M213.1 125h0M214 122.8h0M214.9 124.5h0M215.8 124.7h0M216.7 122.9h0M217.6 122.6h0M218.5 123.2h0M219.4 121.8h0M220.3 124.4h0M221.2 120.8h0M222.1 121.9h0M223 122.5h0M223.9 122.5h0M224.8 122.7h0M225.7 122.7h0M226.6 122.2h0M227.5 123.3h0M228.4 120.2h0M229.3 122.1h0M230.2 121.3h0M231.1 122h0M232 122h0M232.9 120.9h0M233.8 121h0M234.7 122.2h0M235.6 121.7h0M236.5 120.7h0M237.4 123h0M238.3 123.2h0M239.2 119.7h0M240.1 121.2h0M241 123.1h0M241.9 121.4h0M242.8 120.8h0M243.7 120.4h0M244.6 120h0M245.5 120.2h0M246.4 119.8h0M247.3 120.9h0M248.2 119.8h0M249.1 119.6h0M250 118.9h0M250.9 119.8h0M251.8 119h0M252.7 119.5h0M253.6 120.5h0M254.5 119.8h0M255.4 119.9h0M256.3 119.7h0M257.2 119.3h0M258.1 119.1h0M259 118.8h0M259.9 119.7h0M260.8 118h0M261.7 120.1h0M262.6 118.8h0M263.5 118h0M264.4 118.2h0M265.3 118h0M266.2 118.6h0M267.1 117.8h0M268 119.4h0M268.9 117.6h0M269.8 116.1h0M270.7 117.5h0M271.6 116.2h0M272.5 117.9h0M273.4 118.9h0M274.3 118.4h0M275.2 116.6h0M276.1 117h0M277 119.2h0M277.9 117.9h0M278.8 117.5h0M279.7 118.4h0M280.6 119.6h0M281.5 118.5h0M282.4 117.4h0M283.3 117.5h0M284.2 117.7h0M285.1 116.5h0M286 116h0M286.9 117h0M287.8 116h0M288.7 116.8h0M289.6 116.9h0M290.5 118.8h0M291.4 115.9h0M292.3 116.5h0M293.2 116.4h0M294.1 116.9h0M295 117.4h0M295.9 115.9h0M296.8 115.6h0M297.7 114.8h0M298.6 115.4h0M299.5 116.6h0M300.4 116.1h0M301.3 115.1h0M302.2 115.7h0M303.1 116h0M304 116.4h0M304.9 115.3h0M305.8 115.6h0M306.7 114.1h0M307.6 114.7h0M308.5 117.1h0M309.4 113.6h0M310.3 115.3h0M311.2 115.7h0M312.1 115.1h0M313 114.7h0M313.9 115.3h0M314.8 115.3h0M315.7 115.2h0M316.6 113.6h0M317.5 115.1h0M318.4 114.4h0M319.3 114.6h0M320.2 115.3h0M321.1 115.6h0M322 115.8h0" fill="none" stroke="#6e0a0a" stroke-width="3.2" stroke-linecap="round"/><path d="M54.7 189.3L55.6 190L56.5 190.1L57.4 190.1L58.3 190.2L59.2 189.4L60.1 189.4L61 189.9L61.9 188.8L62.8 189.6L63.7 189.2L64.6 189.3L65.5 188.6L66.4 189.1L67.3 189.5L68.2 189.9L69.1 190L70 189.5L70.9 189.4L71.8 189.1L72.7 189.7L73.6 189.4L74.5 189.8L75.4 190.4L76.3 189.5L77.2 188.8L78.1 189.1L79 188.8L79.9 188.9L80.8 190.2L81.7 189.6L82.6 188.7L83.5 189.8L84.4 190.1L85.3 189.3L86.2 189L87.1 188.8L88 188.5L88.9 187.8L89.8 187.1L90.7 185.9L91.6 184.6L92.5 183.4L93.4 181.6L94.3 179.1L95.2 178.4L96.1 177.2L97 175.6L97.9 175.1L98.8 173.5L99.7 172.2L100.6 172.5L101.5 171.2L102.4 170L103.3 169.4L104.2 168.2L105.1 166.2L106 162.8L106.9 161.7L107.8 160.2L108.7 159.1L109.6 161.2L110.5 166.2L111.4 168.9L112.3 168.9L113.2 170.2L114.1 168.6L115 167.8L115.9 168.4L116.8 168.7L117.7 168.9L118.6 170.7L119.5 171.3L120.4 172.2L121.3 173.8L122.2 174.9L123.1 174.4L124 174.9L124.9 174.6L125.8 176.1L126.7 174.3L127.6 175.3L128.5 174.5L129.4 174.5L130.3 174.8L131.2 174.9L132.1 175L133 174.4L133.9 173.9L134.8 173.9L135.7 174.3L136.6 174.2L137.5 174.5L138.4 174L139.3 174.2L140.2 174.3L141.1 173.5L142 172.6L142.9 172.6L143.8 172.4L144.7 173.7L145.6 172.3L146.5 173.1L147.4 172.5L148.3 172.7L149.2 171.9L150.1 170.9L151 170.4L151.9 170.1L152.8 169.6L153.7 168.7L154.6 168.4L155.5 168.6L156.4 166.4L157.3 166.8L158.2 165.7L159.1 165.7L160 165.5L160.9 164.6L161.8 164.5L162.7 162.9L163.6 163.9L164.5 162.7L165.4 162.9L166.3 162.3L167.2 160.5L168.1 161.1L169 161.2L169.9 161.5L170.8 160.5L171.7 160.1L172.6 158.9L173.5 160L174.4 159.8L175.3 158.6L176.2 158.1L177.1 157.1L178 158L178.9 158.6L179.8 157.3L180.7 157.2L181.6 156.6L182.5 155.5L183.4 156.4L184.3 154.8L185.2 155L186.1 155L187 155L187.9 154.5L188.8 154.2L189.7 153.4L190.6 152.9L191.5 153.3L192.4 152.7L193.3 152.2L194.2 151.9L195.1 152.1L196 151.2L196.9 151.2L197.8 150.8L198.7 151.5L199.6 151.4L200.5 152L201.4 150L202.3 150.2L203.2 150.8L204.1 150L205 149.8L205.9 150.6L206.8 149.4L207.7 148.8L208.6 148.5L209.5 149.1L210.4 148.9L211.3 147.9L212.2 147.9L213.1 148.4L214 148.3L214.9 147.5L215.8 147.9L216.7 147.7L217.6 146.4L218.5 146.9L219.4 147.1L220.3 146.5L221.2 145.5L222.1 146.3L223 146.6L223.9 146.9L224.8 144.8L225.7 147.1L226.6 145L227.5 145.9L228.4 145.9L229.3 145.6L230.2 145L231.1 144.2L232 145L232.9 144.2L233.8 143.1L234.7 145.6L235.6 144.4L236.5 144.8L237.4 143.3L238.3 144.4L239.2 144.3L240.1 144.1L241 143.2L241.9 142.4L242.8 142.8L243.7 141.6L244.6 141.7L245.5 142.4L246.4 141.7L247.3 142L248.2 141.9L249.1 142.7L250 142.3L250.9 141.4L251.8 141.9L252.7 140.8L253.6 140.9L254.5 141.4L255.4 140.2L256.3 140.5L257.2 139.9L258.1 140.5L259 141.2L259.9 139.9L260.8 140.3L261.7 139.6L262.6 139.4L263.5 139.3L264.4 140.6L265.3 141L266.2 140.1L267.1 139.5L268 140.2L268.9 139.6L269.8 140.2L270.7 139.9L271.6 139.9L272.5 140.1L273.4 139.5L274.3 139.6L275.2 138.9L276.1 139.6L277 139.1L277.9 139.7L278.8 139.3L279.7 139.9L280.6 140L281.5 139.1L282.4 139.4L283.3 139.3L284.2 140.2L285.1 140.7L286 140.2L286.9 139.6L287.8 140.6L288.7 139.1L289.6 140.6L290.5 139.5L291.4 138.4L292.3 141.2L293.2 140.6L294.1 139.3L295 139.9L295.9 139.8L296.8 139.9L297.7 139.1L298.6 139.5L299.5 140.1L300.4 140L301.3 140.5L302.2 140L303.1 141.1L304 139.6L304.9 140.1L305.8 139L306.7 139.3L307.6 140.7L308.5 139.5L309.4 140.3L310.3 140L311.2 139.5L312.1 139.9L313 139.8L313.9 139.9L314.8 140.5L315.7 140.5L316.6 139.9L317.5 139.7L318.4 140.3L319.3 140.2L320.2 140.8L321.1 141.6L322 140.7" fill="none" stroke="#e52ee0" stroke-width="1.0" stroke-linejoin="round"/><path d="M54.7 189.3h0M55.6 190h0M56.5 190.1h0M57.4 190.1h0M58.3 190.2h0M59.2 189.4h0M60.1 189.4h0M61 189.9h0M61.9 188.8h0M62.8 189.6h0M63.7 189.2h0M64.6 189.3h0M65.5 188.6h0M66.4 189.1h0M67.3 189.5h0M68.2 189.9h0M69.1 190h0M70 189.5h0M70.9 189.4h0M71.8 189.1h0M72.7 189.7h0M73.6 189.4h0M74.5 189.8h0M75.4 190.4h0M76.3 189.5h0M77.2 188.8h0M78.1 189.1h0M79 188.8h0M79.9 188.9h0M80.8 190.2h0M81.7 189.6h0M82.6 188.7h0M83.5 189.8h0M84.4 190.1h0M85.3 189.3h0M86.2 189h0M87.1 188.8h0M88 188.5h0M88.9 187.8h0M89.8 187.1h0M90.7 185.9h0M91.6 184.6h0M92.5 183.4h0M93.4 181.6h0M94.3 179.1h0M95.2 178.4h0M96.1 177.2h0M97 175.6h0M97.9 175.1h0M98.8 173.5h0M99.7 172.2h0M100.6 172.5h0M101.5 171.2h0M102.4 170h0M103.3 169.4h0M104.2 168.2h0M105.1 166.2h0M106 162.8h0M106.9 161.7h0M107.8 160.2h0M108.7 159.1h0M109.6 161.2h0M110.5 166.2h0M111.4 168.9h0M112.3 168.9h0M113.2 170.2h0M114.1 168.6h0M115 167.8h0M115.9 168.4h0M116.8 168.7h0M117.7 168.9h0M118.6 170.7h0M119.5 171.3h0M120.4 172.2h0M121.3 173.8h0M122.2 174.9h0M123.1 174.4h0M124 174.9h0M124.9 174.6h0M125.8 176.1h0M126.7 174.3h0M127.6 175.3h0M128.5 174.5h0M129.4 174.5h0M130.3 174.8h0M131.2 174.9h0M132.1 175h0M133 174.4h0M133.9 173.9h0M134.8 173.9h0M135.7 174.3h0M136.6 174.2h0M137.5 174.5h0M138.4 174h0M139.3 174.2h0M140.2 174.3h0M141.1 173.5h0M142 172.6h0M142.9 172.6h0M143.8 172.4h0M144.7 173.7h0M145.6 172.3h0M146.5 173.1h0M147.4 172.5h0M148.3 172.7h0M149.2 171.9h0M150.1 170.9h0M151 170.4h0M151.9 170.1h0M152.8 169.6h0M153.7 168.7h0M154.6 168.4h0M155.5 168.6h0M156.4 166.4h0M157.3 166.8h0M158.2 165.7h0M159.1 165.7h0M160 165.5h0M160.9 164.6h0M161.8 164.5h0M162.7 162.9h0M163.6 163.9h0M164.5 162.7h0M165.4 162.9h0M166.3 162.3h0M167.2 160.5h0M168.1 161.1h0M169 161.2h0M169.9 161.5h0M170.8 160.5h0M171.7 160.1h0M172.6 158.9h0M173.5 160h0M174.4 159.8h0M175.3 158.6h0M176.2 158.1h0M177.1 157.1h0M178 158h0M178.9 158.6h0M179.8 157.3h0M180.7 157.2h0M181.6 156.6h0M182.5 155.5h0M183.4 156.4h0M184.3 154.8h0M185.2 155h0M186.1 155h0M187 155h0M187.9 154.5h0M188.8 154.2h0M189.7 153.4h0M190.6 152.9h0M191.5 153.3h0M192.4 152.7h0M193.3 152.2h0M194.2 151.9h0M195.1 152.1h0M196 151.2h0M196.9 151.2h0M197.8 150.8h0M198.7 151.5h0M199.6 151.4h0M200.5 152h0M201.4 150h0M202.3 150.2h0M203.2 150.8h0M204.1 150h0M205 149.8h0M205.9 150.6h0M206.8 149.4h0M207.7 148.8h0M208.6 148.5h0M209.5 149.1h0M210.4 148.9h0M211.3 147.9h0M212.2 147.9h0M213.1 148.4h0M214 148.3h0M214.9 147.5h0M215.8 147.9h0M216.7 147.7h0M217.6 146.4h0M218.5 146.9h0M219.4 147.1h0M220.3 146.5h0M221.2 145.5h0M222.1 146.3h0M223 146.6h0M223.9 146.9h0M224.8 144.8h0M225.7 147.1h0M226.6 145h0M227.5 145.9h0M228.4 145.9h0M229.3 145.6h0M230.2 145h0M231.1 144.2h0M232 145h0M232.9 144.2h0M233.8 143.1h0M234.7 145.6h0M235.6 144.4h0M236.5 144.8h0M237.4 143.3h0M238.3 144.4h0M239.2 144.3h0M240.1 144.1h0M241 143.2h0M241.9 142.4h0M242.8 142.8h0M243.7 141.6h0M244.6 141.7h0M245.5 142.4h0M246.4 141.7h0M247.3 142h0M248.2 141.9h0M249.1 142.7h0M250 142.3h0M250.9 141.4h0M251.8 141.9h0M252.7 140.8h0M253.6 140.9h0M254.5 141.4h0M255.4 140.2h0M256.3 140.5h0M257.2 139.9h0M258.1 140.5h0M259 141.2h0M259.9 139.9h0M260.8 140.3h0M261.7 139.6h0M262.6 139.4h0M263.5 139.3h0M264.4 140.6h0M265.3 141h0M266.2 140.1h0M267.1 139.5h0M268 140.2h0M268.9 139.6h0M269.8 140.2h0M270.7 139.9h0M271.6 139.9h0M272.5 140.1h0M273.4 139.5h0M274.3 139.6h0M275.2 138.9h0M276.1 139.6h0M277 139.1h0M277.9 139.7h0M278.8 139.3h0M279.7 139.9h0M280.6 140h0M281.5 139.1h0M282.4 139.4h0M283.3 139.3h0M284.2 140.2h0M285.1 140.7h0M286 140.2h0M286.9 139.6h0M287.8 140.6h0M288.7 139.1h0M289.6 140.6h0M290.5 139.5h0M291.4 138.4h0M292.3 141.2h0M293.2 140.6h0M294.1 139.3h0M295 139.9h0M295.9 139.8h0M296.8 139.9h0M297.7 139.1h0M298.6 139.5h0M299.5 140.1h0M300.4 140h0M301.3 140.5h0M302.2 140h0M303.1 141.1h0M304 139.6h0M304.9 140.1h0M305.8 139h0M306.7 139.3h0M307.6 140.7h0M308.5 139.5h0M309.4 140.3h0M310.3 140h0M311.2 139.5h0M312.1 139.9h0M313 139.8h0M313.9 139.9h0M314.8 140.5h0M315.7 140.5h0M316.6 139.9h0M317.5 139.7h0M318.4 140.3h0M319.3 140.2h0M320.2 140.8h0M321.1 141.6h0M322 140.7h0" fill="none" stroke="#e52ee0" stroke-width="3.2" stroke-linecap="round"/><path d="M54.7 220.9L55.6 220.8L56.5 220.5L57.4 220.4L58.3 220.4L59.2 220.7L60.1 220.7L61 221.2L61.9 220.7L62.8 220.8L63.7 220.2L64.6 221.7L65.5 221.1L66.4 221.7L67.3 221.2L68.2 221.5L69.1 220.6L70 221.1L70.9 222.1L71.8 220.1L72.7 221.3L73.6 221.5L74.5 220.8L75.4 221L76.3 221.2L77.2 220.2L78.1 220.7L79 220L79.9 220.1L80.8 220.1L81.7 220.3L82.6 220.4L83.5 220.5L84.4 219.5L85.3 220.9L86.2 220L87.1 219L88 217.4L88.9 216.4L89.8 215.5L90.7 214.1L91.6 211.6L92.5 211.4L93.4 211.1L94.3 207.3L95.2 207.5L96.1 206.1L97 204.8L97.9 204.7L98.8 202.4L99.7 202.1L100.6 201.9L101.5 200.2L102.4 199.4L103.3 199.2L104.2 198.8L105.1 199.8L106 198.6L106.9 199.7L107.8 198.7L108.7 199.8L109.6 199.5L110.5 198.3L111.4 199.7L112.3 198.6L113.2 197.8L114.1 197.7L115 195.5L115.9 195.5L116.8 197.8L117.7 198.8L118.6 201.5L119.5 202.7L120.4 203.3L121.3 204L122.2 204.6L123.1 204.5L124 204L124.9 204L125.8 203.9L126.7 203.6L127.6 204.9L128.5 203.9L129.4 203.3L130.3 203.6L131.2 204.2L132.1 204.1L133 203.7L133.9 203.3L134.8 203.7L135.7 202.7L136.6 202.9L137.5 203.9L138.4 203.2L139.3 203.6L140.2 203.9L141.1 203.6L142 203.2L142.9 204.2L143.8 203.4L144.7 202.8L145.6 203.2L146.5 202.7L147.4 201.7L148.3 201.7L149.2 201.1L150.1 199.6L151 199.9L151.9 199.2L152.8 198.4L153.7 197L154.6 196.9L155.5 196.3L156.4 195.6L157.3 194.2L158.2 194.4L159.1 192.7L160 192.5L160.9 192.7L161.8 191L162.7 190.6L163.6 190.9L164.5 189.7L165.4 189.3L166.3 189.1L167.2 189L168.1 186.9L169 187.2L169.9 186.6L170.8 186.2L171.7 185.8L172.6 185.4L173.5 185.6L174.4 184.5L175.3 184.6L176.2 184.4L177.1 183.4L178 183.4L178.9 183.8L179.8 182.8L180.7 181.9L181.6 181.8L182.5 181.1L183.4 181.3L184.3 181.3L185.2 180.1L186.1 180.1L187 180.4L187.9 179.3L188.8 179.4L189.7 178.5L190.6 178.3L191.5 178.2L192.4 179.3L193.3 177.7L194.2 177.4L195.1 177.1L196 177L196.9 177.2L197.8 176.7L198.7 177.4L199.6 176.2L200.5 176.6L201.4 175.8L202.3 175.7L203.2 174.4L204.1 174.9L205 174.6L205.9 174.3L206.8 173.2L207.7 174.4L208.6 173.6L209.5 173.4L210.4 173.2L211.3 173L212.2 173.1L213.1 172.1L214 172.1L214.9 172.5L215.8 172.2L216.7 171.8L217.6 171.5L218.5 171.1L219.4 171.4L220.3 171.8L221.2 170.5L222.1 171.6L223 171.1L223.9 170.3L224.8 170.7L225.7 169.4L226.6 169.2L227.5 169.2L228.4 169.5L229.3 169.4L230.2 169.1L231.1 169.3L232 168.1L232.9 169.2L233.8 168.1L234.7 168.4L235.6 168.4L236.5 167.9L237.4 167.6L238.3 167.7L239.2 168.1L240.1 168.2L241 168.1L241.9 167.2L242.8 167.1L243.7 166.9L244.6 167.5L245.5 166.1L246.4 167.6L247.3 166.6L248.2 166.4L249.1 166.8L250 167L250.9 166.6L251.8 166.8L252.7 166.2L253.6 166.7L254.5 166.6L255.4 165.8L256.3 166.5L257.2 165.8L258.1 165.6L259 165.1L259.9 165.3L260.8 165.8L261.7 164.7L262.6 165.6L263.5 165.4L264.4 165.3L265.3 164L266.2 165.1L267.1 165.4L268 164.7L268.9 165.1L269.8 163.9L270.7 165.4L271.6 164.8L272.5 165.5L273.4 164.2L274.3 165.5L275.2 165L276.1 165.5L277 164.7L277.9 164.8L278.8 166.3L279.7 164.8L280.6 164.8L281.5 165.1L282.4 164.7L283.3 165.8L284.2 166.1L285.1 164.9L286 164.4L286.9 165.9L287.8 165.9L288.7 165.8L289.6 166L290.5 165L291.4 165.4L292.3 164.8L293.2 164.9L294.1 166.1L295 165.3L295.9 166.9L296.8 165.8L297.7 165.5L298.6 166.3L299.5 166.8L300.4 166.2L301.3 165.5L302.2 166.3L303.1 166.9L304 166L304.9 166L305.8 166.9L306.7 166.6L307.6 166.1L308.5 166.5L309.4 166.4L310.3 167L311.2 167L312.1 167.7L313 167.6L313.9 166.5L314.8 167.6L315.7 168L316.6 167.9L317.5 168.3L318.4 167.7L319.3 167.6L320.2 168.7L321.1 167.8L322 167.4" fill="none" stroke="#6a1ee0" stroke-width="1.0" stroke-linejoin="round"/><path d="M54.7 220.9h0M55.6 220.8h0M56.5 220.5h0M57.4 220.4h0M58.3 220.4h0M59.2 220.7h0M60.1 220.7h0M61 221.2h0M61.9 220.7h0M62.8 220.8h0M63.7 220.2h0M64.6 221.7h0M65.5 221.1h0M66.4 221.7h0M67.3 221.2h0M68.2 221.5h0M69.1 220.6h0M70 221.1h0M70.9 222.1h0M71.8 220.1h0M72.7 221.3h0M73.6 221.5h0M74.5 220.8h0M75.4 221h0M76.3 221.2h0M77.2 220.2h0M78.1 220.7h0M79 220h0M79.9 220.1h0M80.8 220.1h0M81.7 220.3h0M82.6 220.4h0M83.5 220.5h0M84.4 219.5h0M85.3 220.9h0M86.2 220h0M87.1 219h0M88 217.4h0M88.9 216.4h0M89.8 215.5h0M90.7 214.1h0M91.6 211.6h0M92.5 211.4h0M93.4 211.1h0M94.3 207.3h0M95.2 207.5h0M96.1 206.1h0M97 204.8h0M97.9 204.7h0M98.8 202.4h0M99.7 202.1h0M100.6 201.9h0M101.5 200.2h0M102.4 199.4h0M103.3 199.2h0M104.2 198.8h0M105.1 199.8h0M106 198.6h0M106.9 199.7h0M107.8 198.7h0M108.7 199.8h0M109.6 199.5h0M110.5 198.3h0M111.4 199.7h0M112.3 198.6h0M113.2 197.8h0M114.1 197.7h0M115 195.5h0M115.9 195.5h0M116.8 197.8h0M117.7 198.8h0M118.6 201.5h0M119.5 202.7h0M120.4 203.3h0M121.3 204h0M122.2 204.6h0M123.1 204.5h0M124 204h0M124.9 204h0M125.8 203.9h0M126.7 203.6h0M127.6 204.9h0M128.5 203.9h0M129.4 203.3h0M130.3 203.6h0M131.2 204.2h0M132.1 204.1h0M133 203.7h0M133.9 203.3h0M134.8 203.7h0M135.7 202.7h0M136.6 202.9h0M137.5 203.9h0M138.4 203.2h0M139.3 203.6h0M140.2 203.9h0M141.1 203.6h0M142 203.2h0M142.9 204.2h0M143.8 203.4h0M144.7 202.8h0M145.6 203.2h0M146.5 202.7h0M147.4 201.7h0M148.3 201.7h0M149.2 201.1h0M150.1 199.6h0M151 199.9h0M151.9 199.2h0M152.8 198.4h0M153.7 197h0M154.6 196.9h0M155.5 196.3h0M156.4 195.6h0M157.3 194.2h0M158.2 194.4h0M159.1 192.7h0M160 192.5h0M160.9 192.7h0M161.8 191h0M162.7 190.6h0M163.6 190.9h0M164.5 189.7h0M165.4 189.3h0M166.3 189.1h0M167.2 189h0M168.1 186.9h0M169 187.2h0M169.9 186.6h0M170.8 186.2h0M171.7 185.8h0M172.6 185.4h0M173.5 185.6h0M174.4 184.5h0M175.3 184.6h0M176.2 184.4h0M177.1 183.4h0M178 183.4h0M178.9 183.8h0M179.8 182.8h0M180.7 181.9h0M181.6 181.8h0M182.5 181.1h0M183.4 181.3h0M184.3 181.3h0M185.2 180.1h0M186.1 180.1h0M187 180.4h0M187.9 179.3h0M188.8 179.4h0M189.7 178.5h0M190.6 178.3h0M191.5 178.2h0M192.4 179.3h0M193.3 177.7h0M194.2 177.4h0M195.1 177.1h0M196 177h0M196.9 177.2h0M197.8 176.7h0M198.7 177.4h0M199.6 176.2h0M200.5 176.6h0M201.4 175.8h0M202.3 175.7h0M203.2 174.4h0M204.1 174.9h0M205 174.6h0M205.9 174.3h0M206.8 173.2h0M207.7 174.4h0M208.6 173.6h0M209.5 173.4h0M210.4 173.2h0M211.3 173h0M212.2 173.1h0M213.1 172.1h0M214 172.1h0M214.9 172.5h0M215.8 172.2h0M216.7 171.8h0M217.6 171.5h0M218.5 171.1h0M219.4 171.4h0M220.3 171.8h0M221.2 170.5h0M222.1 171.6h0M223 171.1h0M223.9 170.3h0M224.8 170.7h0M225.7 169.4h0M226.6 169.2h0M227.5 169.2h0M228.4 169.5h0M229.3 169.4h0M230.2 169.1h0M231.1 169.3h0M232 168.1h0M232.9 169.2h0M233.8 168.1h0M234.7 168.4h0M235.6 168.4h0M236.5 167.9h0M237.4 167.6h0M238.3 167.7h0M239.2 168.1h0M240.1 168.2h0M241 168.1h0M241.9 167.2h0M242.8 167.1h0M243.7 166.9h0M244.6 167.5h0M245.5 166.1h0M246.4 167.6h0M247.3 166.6h0M248.2 166.4h0M249.1 166.8h0M250 167h0M250.9 166.6h0M251.8 166.8h0M252.7 166.2h0M253.6 166.7h0M254.5 166.6h0M255.4 165.8h0M256.3 166.5h0M257.2 165.8h0M258.1 165.6h0M259 165.1h0M259.9 165.3h0M260.8 165.8h0M261.7 164.7h0M262.6 165.6h0M263.5 165.4h0M264.4 165.3h0M265.3 164h0M266.2 165.1h0M267.1 165.4h0M268 164.7h0M268.9 165.1h0M269.8 163.9h0M270.7 165.4h0M271.6 164.8h0M272.5 165.5h0M273.4 164.2h0M274.3 165.5h0M275.2 165h0M276.1 165.5h0M277 164.7h0M277.9 164.8h0M278.8 166.3h0M279.7 164.8h0M280.6 164.8h0M281.5 165.1h0M282.4 164.7h0M283.3 165.8h0M284.2 166.1h0M285.1 164.9h0M286 164.4h0M286.9 165.9h0M287.8 165.9h0M288.7 165.8h0M289.6 166h0M290.5 165h0M291.4 165.4h0M292.3 164.8h0M293.2 164.9h0M294.1 166.1h0M295 165.3h0M295.9 166.9h0M296.8 165.8h0M297.7 165.5h0M298.6 166.3h0M299.5 166.8h0M300.4 166.2h0M301.3 165.5h0M302.2 166.3h0M303.1 166.9h0M304 166h0M304.9 166h0M305.8 166.9h0M306.7 166.6h0M307.6 166.1h0M308.5 166.5h0M309.4 166.4h0M310.3 167h0M311.2 167h0M312.1 167.7h0M313 167.6h0M313.9 166.5h0M314.8 167.6h0M315.7 168h0M316.6 167.9h0M317.5 168.3h0M318.4 167.7h0M319.3 167.6h0M320.2 168.7h0M321.1 167.8h0M322 167.4h0" fill="none" stroke="#6a1ee0" stroke-width="3.2" stroke-linecap="round"/><path d="M54.7 252.2L55.6 251.9L56.5 252L57.4 251.8L58.3 251.8L59.2 251.8L60.1 251.9L61 252.1L61.9 251.7L62.8 252.1L63.7 251.8L64.6 251.8L65.5 252.1L66.4 252L67.3 251.8L68.2 252.3L69.1 251.9L70 252L70.9 252L71.8 252.2L72.7 251.9L73.6 252.2L74.5 251.9L75.4 252.2L76.3 251.9L77.2 251.9L78.1 252.1L79 251.5L79.9 250.9L80.8 250.5L81.7 249.5L82.6 248.6L83.5 248.1L84.4 247L85.3 246.3L86.2 245.3L87.1 243.9L88 242.8L88.9 241.7L89.8 240.6L90.7 239.4L91.6 238.6L92.5 237.4L93.4 236.8L94.3 236L95.2 235.1L96.1 234.3L97 233.2L97.9 232.7L98.8 231.8L99.7 231L100.6 230.4L101.5 229.9L102.4 229.8L103.3 229.5L104.2 229.6L105.1 230L106 230.3L106.9 230.8L107.8 231.1L108.7 231.4L109.6 232.2L110.5 232.5L111.4 232.9L112.3 232.9L113.2 233.3L114.1 233.4L115 233.6L115.9 233.7L116.8 233.9L117.7 234L118.6 234.2L119.5 234.4L120.4 234.4L121.3 234.8L122.2 234.6L123.1 234.9L124 234.8L124.9 234.9L125.8 235.3L126.7 234.9L127.6 234.8L128.5 234.9L129.4 234.9L130.3 235.2L131.2 234.8L132.1 234.7L133 234.3L133.9 234.3L134.8 234.1L135.7 234L136.6 233.4L137.5 233.3L138.4 232.9L139.3 232.4L140.2 232.3L141.1 231.9L142 231.3L142.9 231.4L143.8 231.1L144.7 230.6L145.6 230.1L146.5 230.1L147.4 229.5L148.3 229.1L149.2 228.6L150.1 227.8L151 227.4L151.9 226.7L152.8 226.1L153.7 225.4L154.6 224.8L155.5 224.3L156.4 223.5L157.3 222.8L158.2 222.1L159.1 221.5L160 220.6L160.9 220L161.8 219.4L162.7 218.7L163.6 218.1L164.5 217.4L165.4 217.2L166.3 216.6L167.2 215.9L168.1 215.3L169 215.2L169.9 214.4L170.8 213.8L171.7 213.4L172.6 212.9L173.5 212.6L174.4 211.9L175.3 211.8L176.2 210.8L177.1 210.6L178 209.9L178.9 209.9L179.8 209.1L180.7 208.7L181.6 208.4L182.5 208.1L183.4 207.3L184.3 207L185.2 206.5L186.1 206.3L187 205.9L187.9 205.5L188.8 205.1L189.7 204.8L190.6 204.5L191.5 204.3L192.4 204.2L193.3 203.3L194.2 203.3L195.1 202.9L196 202.7L196.9 202.2L197.8 202L198.7 201.5L199.6 201.4L200.5 201L201.4 200.7L202.3 200.4L203.2 200L204.1 199.5L205 199.5L205.9 199.1L206.8 198.8L207.7 198.6L208.6 198.4L209.5 197.7L210.4 197.5L211.3 197.5L212.2 197.2L213.1 196.6L214 196.3L214.9 196.1L215.8 195.9L216.7 195.5L217.6 195.5L218.5 195L219.4 194.8L220.3 194.9L221.2 194.5L222.1 194.4L223 194.3L223.9 194.1L224.8 193.8L225.7 193.7L226.6 193.4L227.5 193.6L228.4 193.3L229.3 192.9L230.2 193L231.1 193L232 192.9L232.9 193L233.8 192.9L234.7 192.6L235.6 192.6L236.5 192.4L237.4 192.6L238.3 192.5L239.2 192.9L240.1 192.5L241 192.1L241.9 192.3L242.8 192.4L243.7 192.2L244.6 192.2L245.5 192.3L246.4 192.3L247.3 192.2L248.2 192.1L249.1 192.3L250 192.1L250.9 192.1L251.8 192L252.7 192L253.6 192.2L254.5 191.9L255.4 192.1L256.3 192.2L257.2 192L258.1 192.1L259 191.9L259.9 192.2L260.8 192.2L261.7 192.1L262.6 191.8L263.5 191.9L264.4 192.2L265.3 192.3L266.2 192L267.1 192.2L268 191.9L268.9 192L269.8 192L270.7 192.1L271.6 191.8L272.5 192.2L273.4 192.2L274.3 191.9L275.2 191.9L276.1 192.1L277 192L277.9 191.8L278.8 192.3L279.7 192.2L280.6 192.2L281.5 192.6L282.4 192.3L283.3 192.2L284.2 192.4L285.1 192.3L286 192.3L286.9 192.6L287.8 192.5L288.7 192.5L289.6 192.9L290.5 192.8L291.4 192.9L292.3 192.9L293.2 193L294.1 193.2L295 193L295.9 193.4L296.8 193L297.7 193.2L298.6 193.1L299.5 193.3L300.4 193.5L301.3 193.7L302.2 193.5L303.1 193.7L304 193.7L304.9 193.7L305.8 193.8L306.7 194L307.6 193.8L308.5 194.2L309.4 194.3L310.3 194.3L311.2 194.3L312.1 194.4L313 195L313.9 194.6L314.8 195.1L315.7 195.1L316.6 195L317.5 195L318.4 195.4L319.3 195.7L320.2 195.4L321.1 195.6L322 195.9" fill="none" stroke="#136c13" stroke-width="1.0" stroke-linejoin="round"/><path d="M54.7 252.2h0M55.6 251.9h0M56.5 252h0M57.4 251.8h0M58.3 251.8h0M59.2 251.8h0M60.1 251.9h0M61 252.1h0M61.9 251.7h0M62.8 252.1h0M63.7 251.8h0M64.6 251.8h0M65.5 252.1h0M66.4 252h0M67.3 251.8h0M68.2 252.3h0M69.1 251.9h0M70 252h0M70.9 252h0M71.8 252.2h0M72.7 251.9h0M73.6 252.2h0M74.5 251.9h0M75.4 252.2h0M76.3 251.9h0M77.2 251.9h0M78.1 252.1h0M79 251.5h0M79.9 250.9h0M80.8 250.5h0M81.7 249.5h0M82.6 248.6h0M83.5 248.1h0M84.4 247h0M85.3 246.3h0M86.2 245.3h0M87.1 243.9h0M88 242.8h0M88.9 241.7h0M89.8 240.6h0M90.7 239.4h0M91.6 238.6h0M92.5 237.4h0M93.4 236.8h0M94.3 236h0M95.2 235.1h0M96.1 234.3h0M97 233.2h0M97.9 232.7h0M98.8 231.8h0M99.7 231h0M100.6 230.4h0M101.5 229.9h0M102.4 229.8h0M103.3 229.5h0M104.2 229.6h0M105.1 230h0M106 230.3h0M106.9 230.8h0M107.8 231.1h0M108.7 231.4h0M109.6 232.2h0M110.5 232.5h0M111.4 232.9h0M112.3 232.9h0M113.2 233.3h0M114.1 233.4h0M115 233.6h0M115.9 233.7h0M116.8 233.9h0M117.7 234h0M118.6 234.2h0M119.5 234.4h0M120.4 234.4h0M121.3 234.8h0M122.2 234.6h0M123.1 234.9h0M124 234.8h0M124.9 234.9h0M125.8 235.3h0M126.7 234.9h0M127.6 234.8h0M128.5 234.9h0M129.4 234.9h0M130.3 235.2h0M131.2 234.8h0M132.1 234.7h0M133 234.3h0M133.9 234.3h0M134.8 234.1h0M135.7 234h0M136.6 233.4h0M137.5 233.3h0M138.4 232.9h0M139.3 232.4h0M140.2 232.3h0M141.1 231.9h0M142 231.3h0M142.9 231.4h0M143.8 231.1h0M144.7 230.6h0M145.6 230.1h0M146.5 230.1h0M147.4 229.5h0M148.3 229.1h0M149.2 228.6h0M150.1 227.8h0M151 227.4h0M151.9 226.7h0M152.8 226.1h0M153.7 225.4h0M154.6 224.8h0M155.5 224.3h0M156.4 223.5h0M157.3 222.8h0M158.2 222.1h0M159.1 221.5h0M160 220.6h0M160.9 220h0M161.8 219.4h0M162.7 218.7h0M163.6 218.1h0M164.5 217.4h0M165.4 217.2h0M166.3 216.6h0M167.2 215.9h0M168.1 215.3h0M169 215.2h0M169.9 214.4h0M170.8 213.8h0M171.7 213.4h0M172.6 212.9h0M173.5 212.6h0M174.4 211.9h0M175.3 211.8h0M176.2 210.8h0M177.1 210.6h0M178 209.9h0M178.9 209.9h0M179.8 209.1h0M180.7 208.7h0M181.6 208.4h0M182.5 208.1h0M183.4 207.3h0M184.3 207h0M185.2 206.5h0M186.1 206.3h0M187 205.9h0M187.9 205.5h0M188.8 205.1h0M189.7 204.8h0M190.6 204.5h0M191.5 204.3h0M192.4 204.2h0M193.3 203.3h0M194.2 203.3h0M195.1 202.9h0M196 202.7h0M196.9 202.2h0M197.8 202h0M198.7 201.5h0M199.6 201.4h0M200.5 201h0M201.4 200.7h0M202.3 200.4h0M203.2 200h0M204.1 199.5h0M205 199.5h0M205.9 199.1h0M206.8 198.8h0M207.7 198.6h0M208.6 198.4h0M209.5 197.7h0M210.4 197.5h0M211.3 197.5h0M212.2 197.2h0M213.1 196.6h0M214 196.3h0M214.9 196.1h0M215.8 195.9h0M216.7 195.5h0M217.6 195.5h0M218.5 195h0M219.4 194.8h0M220.3 194.9h0M221.2 194.5h0M222.1 194.4h0M223 194.3h0M223.9 194.1h0M224.8 193.8h0M225.7 193.7h0M226.6 193.4h0M227.5 193.6h0M228.4 193.3h0M229.3 192.9h0M230.2 193h0M231.1 193h0M232 192.9h0M232.9 193h0M233.8 192.9h0M234.7 192.6h0M235.6 192.6h0M236.5 192.4h0M237.4 192.6h0M238.3 192.5h0M239.2 192.9h0M240.1 192.5h0M241 192.1h0M241.9 192.3h0M242.8 192.4h0M243.7 192.2h0M244.6 192.2h0M245.5 192.3h0M246.4 192.3h0M247.3 192.2h0M248.2 192.1h0M249.1 192.3h0M250 192.1h0M250.9 192.1h0M251.8 192h0M252.7 192h0M253.6 192.2h0M254.5 191.9h0M255.4 192.1h0M256.3 192.2h0M257.2 192h0M258.1 192.1h0M259 191.9h0M259.9 192.2h0M260.8 192.2h0M261.7 192.1h0M262.6 191.8h0M263.5 191.9h0M264.4 192.2h0M265.3 192.3h0M266.2 192h0M267.1 192.2h0M268 191.9h0M268.9 192h0M269.8 192h0M270.7 192.1h0M271.6 191.8h0M272.5 192.2h0M273.4 192.2h0M274.3 191.9h0M275.2 191.9h0M276.1 192.1h0M277 192h0M277.9 191.8h0M278.8 192.3h0M279.7 192.2h0M280.6 192.2h0M281.5 192.6h0M282.4 192.3h0M283.3 192.2h0M284.2 192.4h0M285.1 192.3h0M286 192.3h0M286.9 192.6h0M287.8 192.5h0M288.7 192.5h0M289.6 192.9h0M290.5 192.8h0M291.4 192.9h0M292.3 192.9h0M293.2 193h0M294.1 193.2h0M295 193h0M295.9 193.4h0M296.8 193h0M297.7 193.2h0M298.6 193.1h0M299.5 193.3h0M300.4 193.5h0M301.3 193.7h0M302.2 193.5h0M303.1 193.7h0M304 193.7h0M304.9 193.7h0M305.8 193.8h0M306.7 194h0M307.6 193.8h0M308.5 194.2h0M309.4 194.3h0M310.3 194.3h0M311.2 194.3h0M312.1 194.4h0M313 195h0M313.9 194.6h0M314.8 195.1h0M315.7 195.1h0M316.6 195h0M317.5 195h0M318.4 195.4h0M319.3 195.7h0M320.2 195.4h0M321.1 195.6h0M322 195.9h0" fill="none" stroke="#136c13" stroke-width="2.9" stroke-linecap="round"/></g><g fill="#000"><rect x="102.8" y="25" width="2.4" height="2.4"/><rect x="102.8" y="29.2" width="2.4" height="2.4"/><rect x="102.8" y="33.4" width="2.4" height="2.4"/><rect x="102.8" y="37.6" width="2.4" height="2.4"/><rect x="102.8" y="41.8" width="2.4" height="2.4"/><rect x="102.8" y="46" width="2.4" height="2.4"/><rect x="102.8" y="50.2" width="2.4" height="2.4"/><rect x="102.8" y="54.4" width="2.4" height="2.4"/><rect x="102.8" y="58.6" width="2.4" height="2.4"/><rect x="102.8" y="62.8" width="2.4" height="2.4"/><rect x="102.8" y="67" width="2.4" height="2.4"/><rect x="102.8" y="71.2" width="2.4" height="2.4"/><rect x="102.8" y="75.4" width="2.4" height="2.4"/><rect x="102.8" y="79.6" width="2.4" height="2.4"/><rect x="102.8" y="83.8" width="2.4" height="2.4"/><rect x="102.8" y="88" width="2.4" height="2.4"/><rect x="102.8" y="92.2" width="2.4" height="2.4"/><rect x="102.8" y="96.4" width="2.4" height="2.4"/><rect x="102.8" y="100.6" width="2.4" height="2.4"/><rect x="102.8" y="104.8" width="2.4" height="2.4"/><rect x="102.8" y="109" width="2.4" height="2.4"/><rect x="102.8" y="113.2" width="2.4" height="2.4"/><rect x="102.8" y="117.4" width="2.4" height="2.4"/><rect x="102.8" y="121.6" width="2.4" height="2.4"/><rect x="102.8" y="125.8" width="2.4" height="2.4"/><rect x="102.8" y="130" width="2.4" height="2.4"/><rect x="102.8" y="134.2" width="2.4" height="2.4"/><rect x="102.8" y="138.4" width="2.4" height="2.4"/><rect x="102.8" y="142.6" width="2.4" height="2.4"/><rect x="102.8" y="146.8" width="2.4" height="2.4"/><rect x="102.8" y="151" width="2.4" height="2.4"/><rect x="102.8" y="155.2" width="2.4" height="2.4"/><rect x="102.8" y="159.4" width="2.4" height="2.4"/><rect x="102.8" y="163.6" width="2.4" height="2.4"/><rect x="102.8" y="167.8" width="2.4" height="2.4"/><rect x="102.8" y="172" width="2.4" height="2.4"/><rect x="102.8" y="176.2" width="2.4" height="2.4"/><rect x="102.8" y="180.4" width="2.4" height="2.4"/><rect x="102.8" y="184.6" width="2.4" height="2.4"/><rect x="102.8" y="188.8" width="2.4" height="2.4"/><rect x="102.8" y="193" width="2.4" height="2.4"/><rect x="102.8" y="197.2" width="2.4" height="2.4"/><rect x="102.8" y="201.4" width="2.4" height="2.4"/><rect x="102.8" y="205.6" width="2.4" height="2.4"/><rect x="102.8" y="209.8" width="2.4" height="2.4"/><rect x="102.8" y="214" width="2.4" height="2.4"/><rect x="102.8" y="218.2" width="2.4" height="2.4"/><rect x="102.8" y="222.4" width="2.4" height="2.4"/><rect x="102.8" y="226.6" width="2.4" height="2.4"/><rect x="102.8" y="230.8" width="2.4" height="2.4"/><rect x="102.8" y="235" width="2.4" height="2.4"/><rect x="102.8" y="239.2" width="2.4" height="2.4"/><rect x="102.8" y="243.4" width="2.4" height="2.4"/><rect x="102.8" y="247.6" width="2.4" height="2.4"/><rect x="102.8" y="251.8" width="2.4" height="2.4"/></g><path d="M276 22.5H301" stroke="#7a1a8c" stroke-width="1.0"/><circle cx="288.5" cy="22.5" r="2.5" fill="#7a1a8c"/><text x="304.2" y="26.4" font-size="11.3" fill="#222" textLength="12.8" lengthAdjust="spacingAndGlyphs">Z9</text><path d="M276 49.5H301" stroke="#e8191c" stroke-width="1.0"/><circle cx="288.5" cy="49.5" r="2.5" fill="#e8191c"/><text x="304.2" y="53.4" font-size="11.3" fill="#222" textLength="12.8" lengthAdjust="spacingAndGlyphs">Z7</text><path d="M276 77.5H301" stroke="#000000" stroke-width="1.0"/><circle cx="288.5" cy="77.5" r="2.5" fill="#000000"/><text x="304.2" y="81.4" font-size="11.3" fill="#222" textLength="12.8" lengthAdjust="spacingAndGlyphs">Z5</text><path d="M276 106.5H301" stroke="#6e0a0a" stroke-width="1.0"/><circle cx="288.5" cy="106.5" r="2.5" fill="#6e0a0a"/><text x="304.2" y="110.4" font-size="11.3" fill="#222" textLength="12.8" lengthAdjust="spacingAndGlyphs">Z3</text><path d="M276 128.5H301" stroke="#e52ee0" stroke-width="1.0"/><circle cx="288.5" cy="128.5" r="2.5" fill="#e52ee0"/><text x="303.8" y="132.4" font-size="11.3" fill="#222" textLength="12.8" lengthAdjust="spacingAndGlyphs">Z1</text><path d="M276 153.5H301" stroke="#6a1ee0" stroke-width="1.0"/><circle cx="288.5" cy="153.5" r="2.5" fill="#6a1ee0"/><text x="303.8" y="157.4" font-size="11.3" fill="#222" textLength="12.8" lengthAdjust="spacingAndGlyphs">Z0</text><path d="M239.3 210.5H263.3" stroke="#136c13" stroke-width="1.0"/><circle cx="251.5" cy="210.5" r="2.5" fill="#136c13"/><text x="267.9" y="214.4" font-size="11.3" fill="#222">C foil (ref)</text><text x="209.4" y="20.8" font-size="13" text-anchor="start" font-weight="normal" fill="#111" textLength="59" lengthAdjust="spacingAndGlyphs">C K-edge</text><text x="126.3" y="286" font-size="14.2" text-anchor="start" font-weight="normal" fill="#111" textLength="124.8" lengthAdjust="spacingAndGlyphs">Photon Energy (eV)</text><text transform="translate(43.5 131.4) rotate(-90)" x="0" y="0" font-size="13.8" text-anchor="middle" font-weight="normal" fill="#111" textLength="124.9" lengthAdjust="spacingAndGlyphs">Total Electron Yield</text><text x="0" y="0" font-size="36" text-anchor="start" font-weight="normal" fill="#000" transform="translate(3.6 21) scale(0.8 1)">a</text><rect x="405.5" y="6" width="264" height="259.5" fill="none" stroke="#3c3c3c" stroke-width="1"/><text x="405.5" y="277.8" font-size="11.3" text-anchor="middle" fill="#1a1a1a">282</text><text x="471.5" y="277.8" font-size="11.3" text-anchor="middle" fill="#1a1a1a">284</text><text x="537.5" y="277.8" font-size="11.3" text-anchor="middle" fill="#1a1a1a">286</text><text x="603.5" y="277.8" font-size="11.3" text-anchor="middle" fill="#1a1a1a">288</text><text x="669.5" y="277.8" font-size="11.3" text-anchor="middle" fill="#1a1a1a">290</text><path d="M405.5 265.5v2.6M471.5 265.5v2.6M537.5 265.5v2.6M603.5 265.5v2.6M669.5 265.5v2.6M438.5 265.5v1.6M504.5 265.5v1.6M570.5 265.5v1.6M636.5 265.5v1.6" stroke="#3c3c3c" stroke-width="1" fill="none"/><path d="M528.8 265.5v1.4M533 265.5v1.4M537.2 265.5v1.4M541.4 265.5v1.4M545.6 265.5v1.4M549.8 265.5v1.4M554 265.5v1.4M558.2 265.5v1.4M562.4 265.5v1.4M566.6 265.5v1.4M570.8 265.5v1.4" stroke="#3c3c3c" stroke-width="0.9"/><rect x="524.5" y="6" width="41" height="259.5" fill="none" stroke="#444" stroke-width="1"/><g clip-path="url(#cb)"><path d="M405.5 35.7L408.1 37.4L410.7 34.9L413.3 36.1L415.9 34.3L418.5 37.7L421.1 35L423.7 33.6L426.3 35.8L428.9 35.8L431.5 38L434.1 35.8L436.7 36.3L439.3 37L441.9 38.2L444.5 36.7L447.1 38L449.7 37.7L452.3 37.2L454.9 37.9L457.5 38.5L460.1 38.6L462.7 42L465.3 40.7L467.9 44.6L470.5 45.7L473.1 46.4L475.7 47.5L478.3 49.9L480.9 52.2L483.5 53.7L486.1 53.9L488.7 54.6L491.3 52.6L493.9 52.6L496.5 49.8L499.1 51L501.7 49.3L504.3 47.6L506.9 47.7L509.5 45.5L512.1 40.5L514.7 42.5L517.3 41.3L519.9 45.2L522.5 48.8L525.1 49.1" fill="none" stroke="#000" stroke-width="1.0" stroke-linejoin="round"/><path d="M564.1 31.7L566.7 31.8L569.3 32.4L571.9 34.1L574.5 34.3L577.1 34.2L579.7 34L582.3 35L584.9 34L587.5 34.8L590.1 35.3L592.7 37.6L595.3 35L597.9 39.1L600.5 38.2L603.1 38.2L605.7 37.2L608.3 35.8L610.9 36.6L613.5 35.5L616.1 35.7L618.7 32.7L621.3 34.5L623.9 32.3L626.5 30.8L629.1 29.2L631.7 27.6L634.3 26.1L636.9 26.3L639.5 27.4L642.1 28.5L644.7 28.9L647.3 31.4L649.9 31.6L652.5 33.4L655.1 35.7L657.7 35.1L660.3 34.7L662.9 33.8L665.5 34.3L668.1 34.3" fill="none" stroke="#000" stroke-width="1.0" stroke-linejoin="round"/><path d="M525.1 49.1L527.7 54L530.3 56.3L532.9 53.3L535.5 50.4L538.1 45.6L540.7 37.5L543.3 33.2L545.9 15.8L548.5 14.8L551.1 15.5L553.7 20.9L556.3 23.8L558.9 29.7L561.5 32.7L564.1 31.7" fill="none" stroke="#7a1a8c" stroke-width="0.9" stroke-linejoin="round"/><path d="M405.5 35.7h0M408.1 37.4h0M410.7 34.9h0M413.3 36.1h0M415.9 34.3h0M418.5 37.7h0M421.1 35h0M423.7 33.6h0M426.3 35.8h0M428.9 35.8h0M431.5 38h0M434.1 35.8h0M436.7 36.3h0M439.3 37h0M441.9 38.2h0M444.5 36.7h0M447.1 38h0M449.7 37.7h0M452.3 37.2h0M454.9 37.9h0M457.5 38.5h0M460.1 38.6h0M462.7 42h0M465.3 40.7h0M467.9 44.6h0M470.5 45.7h0M473.1 46.4h0M475.7 47.5h0M478.3 49.9h0M480.9 52.2h0M483.5 53.7h0M486.1 53.9h0M488.7 54.6h0M491.3 52.6h0M493.9 52.6h0M496.5 49.8h0M499.1 51h0M501.7 49.3h0M504.3 47.6h0M506.9 47.7h0M509.5 45.5h0M512.1 40.5h0M514.7 42.5h0M517.3 41.3h0M519.9 45.2h0M522.5 48.8h0M525.1 49.1h0M527.7 54h0M530.3 56.3h0M532.9 53.3h0M535.5 50.4h0M538.1 45.6h0M540.7 37.5h0M543.3 33.2h0M545.9 15.8h0M548.5 14.8h0M551.1 15.5h0M553.7 20.9h0M556.3 23.8h0M558.9 29.7h0M561.5 32.7h0M564.1 31.7h0M566.7 31.8h0M569.3 32.4h0M571.9 34.1h0M574.5 34.3h0M577.1 34.2h0M579.7 34h0M582.3 35h0M584.9 34h0M587.5 34.8h0M590.1 35.3h0M592.7 37.6h0M595.3 35h0M597.9 39.1h0M600.5 38.2h0M603.1 38.2h0M605.7 37.2h0M608.3 35.8h0M610.9 36.6h0M613.5 35.5h0M616.1 35.7h0M618.7 32.7h0M621.3 34.5h0M623.9 32.3h0M626.5 30.8h0M629.1 29.2h0M631.7 27.6h0M634.3 26.1h0M636.9 26.3h0M639.5 27.4h0M642.1 28.5h0M644.7 28.9h0M647.3 31.4h0M649.9 31.6h0M652.5 33.4h0M655.1 35.7h0M657.7 35.1h0M660.3 34.7h0M662.9 33.8h0M665.5 34.3h0M668.1 34.3h0" fill="none" stroke="#000" stroke-width="3.2" stroke-linecap="round"/><path d="M405.5 65.3L408.1 64.3L410.7 64.9L413.3 64.4L415.9 65L418.5 65.9L421.1 64.5L423.7 64.8L426.3 64.6L428.9 65.8L431.5 64.6L434.1 64.6L436.7 64.5L439.3 64.6L441.9 66.1L444.5 67.7L447.1 65.3L449.7 66.8L452.3 66.6L454.9 65.9L457.5 66.8L460.1 67.2L462.7 67.2L465.3 69.5L467.9 67.5L470.5 70.1L473.1 71.3L475.7 71.9L478.3 73.5L480.9 74.7L483.5 74.3L486.1 74.4L488.7 74.4L491.3 72.2L493.9 74.3L496.5 74.5L499.1 73.3L501.7 72.8L504.3 70.5L506.9 70.7L509.5 69.6L512.1 69.3L514.7 70.2L517.3 70.1L519.9 72.4L522.5 72L525.1 73.5" fill="none" stroke="#000" stroke-width="1.0" stroke-linejoin="round"/><path d="M564.1 62.9L566.7 63.4L569.3 62.3L571.9 62.4L574.5 62.3L577.1 62.9L579.7 61.3L582.3 63.2L584.9 62.5L587.5 62.6L590.1 63.6L592.7 63.6L595.3 63.3L597.9 62.9L600.5 63.3L603.1 64.9L605.7 65.2L608.3 64.2L610.9 64.5L613.5 63.2L616.1 63.4L618.7 63.5L621.3 62.3L623.9 61.7L626.5 61.1L629.1 59.7L631.7 59.3L634.3 61.1L636.9 61.6L639.5 63.2L642.1 62.6L644.7 62.4L647.3 62.8L649.9 62.7L652.5 62.4L655.1 62.6L657.7 63.5L660.3 63.4L662.9 63.9L665.5 61.8L668.1 62.7" fill="none" stroke="#000" stroke-width="1.0" stroke-linejoin="round"/><path d="M525.1 73.5L527.7 73.7L530.3 73.2L532.9 73.6L535.5 75.1L538.1 69.4L540.7 65.6L543.3 61.2L545.9 56.5L548.5 53.4L551.1 51.8L553.7 52.6L556.3 55.7L558.9 59.3L561.5 60.2L564.1 62.9" fill="none" stroke="#e8191c" stroke-width="0.9" stroke-linejoin="round"/><path d="M405.5 65.3h0M408.1 64.3h0M410.7 64.9h0M413.3 64.4h0M415.9 65h0M418.5 65.9h0M421.1 64.5h0M423.7 64.8h0M426.3 64.6h0M428.9 65.8h0M431.5 64.6h0M434.1 64.6h0M436.7 64.5h0M439.3 64.6h0M441.9 66.1h0M444.5 67.7h0M447.1 65.3h0M449.7 66.8h0M452.3 66.6h0M454.9 65.9h0M457.5 66.8h0M460.1 67.2h0M462.7 67.2h0M465.3 69.5h0M467.9 67.5h0M470.5 70.1h0M473.1 71.3h0M475.7 71.9h0M478.3 73.5h0M480.9 74.7h0M483.5 74.3h0M486.1 74.4h0M488.7 74.4h0M491.3 72.2h0M493.9 74.3h0M496.5 74.5h0M499.1 73.3h0M501.7 72.8h0M504.3 70.5h0M506.9 70.7h0M509.5 69.6h0M512.1 69.3h0M514.7 70.2h0M517.3 70.1h0M519.9 72.4h0M522.5 72h0M525.1 73.5h0M527.7 73.7h0M530.3 73.2h0M532.9 73.6h0M535.5 75.1h0M538.1 69.4h0M540.7 65.6h0M543.3 61.2h0M545.9 56.5h0M548.5 53.4h0M551.1 51.8h0M553.7 52.6h0M556.3 55.7h0M558.9 59.3h0M561.5 60.2h0M564.1 62.9h0M566.7 63.4h0M569.3 62.3h0M571.9 62.4h0M574.5 62.3h0M577.1 62.9h0M579.7 61.3h0M582.3 63.2h0M584.9 62.5h0M587.5 62.6h0M590.1 63.6h0M592.7 63.6h0M595.3 63.3h0M597.9 62.9h0M600.5 63.3h0M603.1 64.9h0M605.7 65.2h0M608.3 64.2h0M610.9 64.5h0M613.5 63.2h0M616.1 63.4h0M618.7 63.5h0M621.3 62.3h0M623.9 61.7h0M626.5 61.1h0M629.1 59.7h0M631.7 59.3h0M634.3 61.1h0M636.9 61.6h0M639.5 63.2h0M642.1 62.6h0M644.7 62.4h0M647.3 62.8h0M649.9 62.7h0M652.5 62.4h0M655.1 62.6h0M657.7 63.5h0M660.3 63.4h0M662.9 63.9h0M665.5 61.8h0M668.1 62.7h0" fill="none" stroke="#000" stroke-width="3.2" stroke-linecap="round"/><path d="M405.5 109.1L408.1 110.1L410.7 109.7L413.3 110L415.9 111.9L418.5 111.5L421.1 110.3L423.7 113.6L426.3 113.6L428.9 112.1L431.5 114.1L434.1 112.6L436.7 115.3L439.3 114.1L441.9 113.7L444.5 114.7L447.1 114.6L449.7 116.1L452.3 116.5L454.9 116.8L457.5 116.5L460.1 113.2L462.7 118.2L465.3 116.5L467.9 119.8L470.5 121.6L473.1 121.4L475.7 121.2L478.3 122L480.9 122.4L483.5 121.9L486.1 121.7L488.7 120.8L491.3 122.7L493.9 120.4L496.5 120.5L499.1 117.8L501.7 116.8L504.3 114.7L506.9 110.4L509.5 105.6L512.1 105L514.7 107.8L517.3 109.4L519.9 113.3L522.5 105.7L525.1 107.8" fill="none" stroke="#000" stroke-width="1.0" stroke-linejoin="round"/><path d="M564.1 99.3L566.7 100.9L569.3 98.4L571.9 99.2L574.5 97L577.1 97.7L579.7 95.5L582.3 94.1L584.9 94.3L587.5 91.7L590.1 95.7L592.7 96.7L595.3 98.7L597.9 99L600.5 99.7L603.1 99.9L605.7 101L608.3 102.3L610.9 99.2L613.5 99L616.1 96.1L618.7 97.8L621.3 95.7L623.9 92.8L626.5 88.2L629.1 88.2L631.7 87.3L634.3 88.8L636.9 90.6L639.5 93.4L642.1 93.5L644.7 96.2L647.3 96.5L649.9 96.7L652.5 97.4L655.1 97.4L657.7 99.2L660.3 98.2L662.9 99.1L665.5 98.4L668.1 97.2" fill="none" stroke="#000" stroke-width="1.0" stroke-linejoin="round"/><path d="M525.1 107.8L527.7 111.7L530.3 112.4L532.9 111.6L535.5 108L538.1 101.8L540.7 86.2L543.3 81.9L545.9 77.9L548.5 76.9L551.1 80.1L553.7 88.4L556.3 95.5L558.9 98.5L561.5 99.1L564.1 99.3" fill="none" stroke="#000" stroke-width="0.9" stroke-linejoin="round"/><path d="M405.5 109.1h0M408.1 110.1h0M410.7 109.7h0M413.3 110h0M415.9 111.9h0M418.5 111.5h0M421.1 110.3h0M423.7 113.6h0M426.3 113.6h0M428.9 112.1h0M431.5 114.1h0M434.1 112.6h0M436.7 115.3h0M439.3 114.1h0M441.9 113.7h0M444.5 114.7h0M447.1 114.6h0M449.7 116.1h0M452.3 116.5h0M454.9 116.8h0M457.5 116.5h0M460.1 113.2h0M462.7 118.2h0M465.3 116.5h0M467.9 119.8h0M470.5 121.6h0M473.1 121.4h0M475.7 121.2h0M478.3 122h0M480.9 122.4h0M483.5 121.9h0M486.1 121.7h0M488.7 120.8h0M491.3 122.7h0M493.9 120.4h0M496.5 120.5h0M499.1 117.8h0M501.7 116.8h0M504.3 114.7h0M506.9 110.4h0M509.5 105.6h0M512.1 105h0M514.7 107.8h0M517.3 109.4h0M519.9 113.3h0M522.5 105.7h0M525.1 107.8h0M527.7 111.7h0M530.3 112.4h0M532.9 111.6h0M535.5 108h0M538.1 101.8h0M540.7 86.2h0M543.3 81.9h0M545.9 77.9h0M548.5 76.9h0M551.1 80.1h0M553.7 88.4h0M556.3 95.5h0M558.9 98.5h0M561.5 99.1h0M564.1 99.3h0M566.7 100.9h0M569.3 98.4h0M571.9 99.2h0M574.5 97h0M577.1 97.7h0M579.7 95.5h0M582.3 94.1h0M584.9 94.3h0M587.5 91.7h0M590.1 95.7h0M592.7 96.7h0M595.3 98.7h0M597.9 99h0M600.5 99.7h0M603.1 99.9h0M605.7 101h0M608.3 102.3h0M610.9 99.2h0M613.5 99h0M616.1 96.1h0M618.7 97.8h0M621.3 95.7h0M623.9 92.8h0M626.5 88.2h0M629.1 88.2h0M631.7 87.3h0M634.3 88.8h0M636.9 90.6h0M639.5 93.4h0M642.1 93.5h0M644.7 96.2h0M647.3 96.5h0M649.9 96.7h0M652.5 97.4h0M655.1 97.4h0M657.7 99.2h0M660.3 98.2h0M662.9 99.1h0M665.5 98.4h0M668.1 97.2h0" fill="none" stroke="#000" stroke-width="3.2" stroke-linecap="round"/><path d="M405.5 164L407.3 163L409.1 164.2L410.9 164.2L412.7 163.1L414.5 163.6L416.3 164L418.1 164L419.9 163.9L421.7 165.2L423.5 164.7L425.3 165.2L427.1 164.9L428.9 165.4L430.7 165L432.5 165.5L434.3 166L436.1 165.8L437.9 165.7L439.7 165.4L441.5 166.3L443.3 166.5L445.1 166.3L446.9 166.1L448.7 167L450.5 168.3L452.3 166.7L454.1 167.2L455.9 167.4L457.7 165.8L459.5 167.5L461.3 167.2L463.1 168.5L464.9 167.7L466.7 167.5L468.5 167.9L470.3 168.3L472.1 167.9L473.9 168.3L475.7 167.6L477.5 168.3L479.3 169L481.1 169.7L482.9 168.7L484.7 168L486.5 167.8L488.3 166.9L490.1 166.2L491.9 164.8L493.7 163L495.5 162.1L497.3 161L499.1 159.8L500.9 158.3L502.7 156.1L504.5 153.8L506.3 153.1L508.1 150.9L509.9 151L511.7 150.1L513.5 148.4L515.3 149.2L517.1 148.9L518.9 148L520.7 148.4L522.5 147.9L524.3 145.3L526.1 146.1" fill="none" stroke="#000" stroke-width="1.0" stroke-linejoin="round"/><path d="M563.9 142.1L565.7 142.7L567.5 143.5L569.3 142.9L571.1 144L572.9 143.7L574.7 143.7L576.5 144L578.3 145.3L580.1 147L581.9 148.4L583.7 149.3L585.5 150.6L587.3 150.5L589.1 151.1L590.9 150.3L592.7 149L594.5 150.9L596.3 150L598.1 149.1L599.9 149.5L601.7 148.9L603.5 150.5L605.3 149.3L607.1 147.9L608.9 148.9L610.7 148.2L612.5 149.4L614.3 147.4L616.1 146.6L617.9 147.9L619.7 147.5L621.5 147.5L623.3 146.4L625.1 148.1L626.9 149L628.7 147.2L630.5 149.4L632.3 148.7L634.1 150.9L635.9 150.2L637.7 150.2L639.5 151.4L641.3 151.4L643.1 151.1L644.9 152.1L646.7 151.5L648.5 150.8L650.3 153.2L652.1 151.9L653.9 151.8L655.7 152.5L657.5 151.4L659.3 151.6L661.1 152.2L662.9 152.2L664.7 152.6L666.5 153.3L668.3 152.3" fill="none" stroke="#000" stroke-width="1.0" stroke-linejoin="round"/><path d="M526.1 146.1L527.9 144.9L529.7 141.8L531.5 135.9L533.3 131.8L535.1 128.1L536.9 124.7L538.7 123.8L540.5 122.6L542.3 118.5L544.1 118.9L545.9 121.3L547.7 125.5L549.5 132.2L551.3 135.1L553.1 137.8L554.9 139.6L556.7 142.4L558.5 143.8L560.3 143.7L562.1 141.8L563.9 142.1" fill="none" stroke="#6e0a0a" stroke-width="0.9" stroke-linejoin="round"/><path d="M405.5 164h0M407.3 163h0M409.1 164.2h0M410.9 164.2h0M412.7 163.1h0M414.5 163.6h0M416.3 164h0M418.1 164h0M419.9 163.9h0M421.7 165.2h0M423.5 164.7h0M425.3 165.2h0M427.1 164.9h0M428.9 165.4h0M430.7 165h0M432.5 165.5h0M434.3 166h0M436.1 165.8h0M437.9 165.7h0M439.7 165.4h0M441.5 166.3h0M443.3 166.5h0M445.1 166.3h0M446.9 166.1h0M448.7 167h0M450.5 168.3h0M452.3 166.7h0M454.1 167.2h0M455.9 167.4h0M457.7 165.8h0M459.5 167.5h0M461.3 167.2h0M463.1 168.5h0M464.9 167.7h0M466.7 167.5h0M468.5 167.9h0M470.3 168.3h0M472.1 167.9h0M473.9 168.3h0M475.7 167.6h0M477.5 168.3h0M479.3 169h0M481.1 169.7h0M482.9 168.7h0M484.7 168h0M486.5 167.8h0M488.3 166.9h0M490.1 166.2h0M491.9 164.8h0M493.7 163h0M495.5 162.1h0M497.3 161h0M499.1 159.8h0M500.9 158.3h0M502.7 156.1h0M504.5 153.8h0M506.3 153.1h0M508.1 150.9h0M509.9 151h0M511.7 150.1h0M513.5 148.4h0M515.3 149.2h0M517.1 148.9h0M518.9 148h0M520.7 148.4h0M522.5 147.9h0M524.3 145.3h0M526.1 146.1h0M527.9 144.9h0M529.7 141.8h0M531.5 135.9h0M533.3 131.8h0M535.1 128.1h0M536.9 124.7h0M538.7 123.8h0M540.5 122.6h0M542.3 118.5h0M544.1 118.9h0M545.9 121.3h0M547.7 125.5h0M549.5 132.2h0M551.3 135.1h0M553.1 137.8h0M554.9 139.6h0M556.7 142.4h0M558.5 143.8h0M560.3 143.7h0M562.1 141.8h0M563.9 142.1h0M565.7 142.7h0M567.5 143.5h0M569.3 142.9h0M571.1 144h0M572.9 143.7h0M574.7 143.7h0M576.5 144h0M578.3 145.3h0M580.1 147h0M581.9 148.4h0M583.7 149.3h0M585.5 150.6h0M587.3 150.5h0M589.1 151.1h0M590.9 150.3h0M592.7 149h0M594.5 150.9h0M596.3 150h0M598.1 149.1h0M599.9 149.5h0M601.7 148.9h0M603.5 150.5h0M605.3 149.3h0M607.1 147.9h0M608.9 148.9h0M610.7 148.2h0M612.5 149.4h0M614.3 147.4h0M616.1 146.6h0M617.9 147.9h0M619.7 147.5h0M621.5 147.5h0M623.3 146.4h0M625.1 148.1h0M626.9 149h0M628.7 147.2h0M630.5 149.4h0M632.3 148.7h0M634.1 150.9h0M635.9 150.2h0M637.7 150.2h0M639.5 151.4h0M641.3 151.4h0M643.1 151.1h0M644.9 152.1h0M646.7 151.5h0M648.5 150.8h0M650.3 153.2h0M652.1 151.9h0M653.9 151.8h0M655.7 152.5h0M657.5 151.4h0M659.3 151.6h0M661.1 152.2h0M662.9 152.2h0M664.7 152.6h0M666.5 153.3h0M668.3 152.3h0" fill="none" stroke="#000" stroke-width="3.0" stroke-linecap="round"/><path d="M405.5 198.4L406.8 198.6L408.1 198.1L409.4 198.7L410.7 198.4L412 199.3L413.3 199.2L414.6 199.1L415.9 198.6L417.2 199.3L418.5 199L419.8 199.7L421.1 199.4L422.4 199.1L423.7 199.8L425 199.8L426.3 199.3L427.6 200L428.9 199.4L430.2 199.3L431.5 199.4L432.8 199L434.1 199.1L435.4 199.2L436.7 199.8L438 199.7L439.3 198.9L440.6 199.5L441.9 198.8L443.2 198.9L444.5 199L445.8 198.7L447.1 199.4L448.4 198.5L449.7 197.8L451 198.7L452.3 197.9L453.6 197.8L454.9 196.5L456.2 198L457.5 197.7L458.8 197.6L460.1 197.4L461.4 197.5L462.7 196.5L464 196.6L465.3 195.6L466.6 195.5L467.9 195.7L469.2 195.1L470.5 194L471.8 194.4L473.1 193.8L474.4 193.2L475.7 193.3L477 192.6L478.3 191.8L479.6 191.6L480.9 192.3L482.2 190.6L483.5 190.9L484.8 190.7L486.1 190.2L487.4 189.1L488.7 189L490 188.8L491.3 188.6L492.6 187.5L493.9 186.9L495.2 187.3L496.5 186.8L497.8 186.1L499.1 185.2L500.4 185.1L501.7 184.5L503 184.3L504.3 182.9L505.6 183L506.9 182.4L508.2 181.5L509.5 181.5L510.8 181L512.1 180.3L513.4 180.1L514.7 178.9L516 178.9L517.3 178.5L518.6 177.8L519.9 177.6L521.2 176L522.5 175.2L523.8 175.2L525.1 174.6" fill="none" stroke="#000" stroke-width="1.0" stroke-linejoin="round"/><path d="M565.4 175.5L566.7 174.7L568 175.3L569.3 176.3L570.6 176.9L571.9 177.4L573.2 177.1L574.5 178.4L575.8 178.2L577.1 178.7L578.4 179.7L579.7 179.7L581 180.6L582.3 181.9L583.6 181.2L584.9 181.4L586.2 181L587.5 181.2L588.8 181L590.1 181.3L591.4 181.1L592.7 181.3L594 181.6L595.3 181.3L596.6 181.2L597.9 181.2L599.2 182L600.5 181.8L601.8 182.3L603.1 182.3L604.4 181.8L605.7 182.2L607 181.4L608.3 182.9L609.6 182.5L610.9 181.9L612.2 181.5L613.5 182.2L614.8 181.3L616.1 181.7L617.4 182.4L618.7 182.1L620 181.9L621.3 182.5L622.6 181.7L623.9 182.3L625.2 182L626.5 181.8L627.8 182.4L629.1 181.8L630.4 183L631.7 182L633 183.1L634.3 181.9L635.6 182.6L636.9 181.9L638.2 181.8L639.5 182.4L640.8 182.7L642.1 181.9L643.4 182.9L644.7 182.1L646 182.5L647.3 182.6L648.6 182.7L649.9 181.8L651.2 183.2L652.5 182.8L653.8 182.4L655.1 182.2L656.4 181.9L657.7 182L659 182.8L660.3 182.5L661.6 182.2L662.9 182.4L664.2 183.3L665.5 182.5L666.8 182.4L668.1 183.2L669.4 182.9" fill="none" stroke="#000" stroke-width="1.0" stroke-linejoin="round"/><path d="M525.1 174.6L526.4 174.3L527.7 172.7L529 171.2L530.3 171L531.6 169.6L532.9 168.4L534.2 169.2L535.5 167.6L536.8 167.2L538.1 166.9L539.4 167.4L540.7 167L542 167.8L543.3 167.4L544.6 168L545.9 170.1L547.2 171.2L548.5 171.9L549.8 173.1L551.1 174.4L552.4 175.2L553.7 176.6L555 176.2L556.3 176.1L557.6 175.8L558.9 175.9L560.2 175.5L561.5 175.4L562.8 174.3L564.1 174.8L565.4 175.5" fill="none" stroke="#e52ee0" stroke-width="2.8" stroke-linejoin="round"/><path d="M405.5 198.4h0M406.8 198.6h0M408.1 198.1h0M409.4 198.7h0M410.7 198.4h0M412 199.3h0M413.3 199.2h0M414.6 199.1h0M415.9 198.6h0M417.2 199.3h0M418.5 199h0M419.8 199.7h0M421.1 199.4h0M422.4 199.1h0M423.7 199.8h0M425 199.8h0M426.3 199.3h0M427.6 200h0M428.9 199.4h0M430.2 199.3h0M431.5 199.4h0M432.8 199h0M434.1 199.1h0M435.4 199.2h0M436.7 199.8h0M438 199.7h0M439.3 198.9h0M440.6 199.5h0M441.9 198.8h0M443.2 198.9h0M444.5 199h0M445.8 198.7h0M447.1 199.4h0M448.4 198.5h0M449.7 197.8h0M451 198.7h0M452.3 197.9h0M453.6 197.8h0M454.9 196.5h0M456.2 198h0M457.5 197.7h0M458.8 197.6h0M460.1 197.4h0M461.4 197.5h0M462.7 196.5h0M464 196.6h0M465.3 195.6h0M466.6 195.5h0M467.9 195.7h0M469.2 195.1h0M470.5 194h0M471.8 194.4h0M473.1 193.8h0M474.4 193.2h0M475.7 193.3h0M477 192.6h0M478.3 191.8h0M479.6 191.6h0M480.9 192.3h0M482.2 190.6h0M483.5 190.9h0M484.8 190.7h0M486.1 190.2h0M487.4 189.1h0M488.7 189h0M490 188.8h0M491.3 188.6h0M492.6 187.5h0M493.9 186.9h0M495.2 187.3h0M496.5 186.8h0M497.8 186.1h0M499.1 185.2h0M500.4 185.1h0M501.7 184.5h0M503 184.3h0M504.3 182.9h0M505.6 183h0M506.9 182.4h0M508.2 181.5h0M509.5 181.5h0M510.8 181h0M512.1 180.3h0M513.4 180.1h0M514.7 178.9h0M516 178.9h0M517.3 178.5h0M518.6 177.8h0M519.9 177.6h0M521.2 176h0M522.5 175.2h0M523.8 175.2h0M566.7 174.7h0M568 175.3h0M569.3 176.3h0M570.6 176.9h0M571.9 177.4h0M573.2 177.1h0M574.5 178.4h0M575.8 178.2h0M577.1 178.7h0M578.4 179.7h0M579.7 179.7h0M581 180.6h0M582.3 181.9h0M583.6 181.2h0M584.9 181.4h0M586.2 181h0M587.5 181.2h0M588.8 181h0M590.1 181.3h0M591.4 181.1h0M592.7 181.3h0M594 181.6h0M595.3 181.3h0M596.6 181.2h0M597.9 181.2h0M599.2 182h0M600.5 181.8h0M601.8 182.3h0M603.1 182.3h0M604.4 181.8h0M605.7 182.2h0M607 181.4h0M608.3 182.9h0M609.6 182.5h0M610.9 181.9h0M612.2 181.5h0M613.5 182.2h0M614.8 181.3h0M616.1 181.7h0M617.4 182.4h0M618.7 182.1h0M620 181.9h0M621.3 182.5h0M622.6 181.7h0M623.9 182.3h0M625.2 182h0M626.5 181.8h0M627.8 182.4h0M629.1 181.8h0M630.4 183h0M631.7 182h0M633 183.1h0M634.3 181.9h0M635.6 182.6h0M636.9 181.9h0M638.2 181.8h0M639.5 182.4h0M640.8 182.7h0M642.1 181.9h0M643.4 182.9h0M644.7 182.1h0M646 182.5h0M647.3 182.6h0M648.6 182.7h0M649.9 181.8h0M651.2 183.2h0M652.5 182.8h0M653.8 182.4h0M655.1 182.2h0M656.4 181.9h0M657.7 182h0M659 182.8h0M660.3 182.5h0M661.6 182.2h0M662.9 182.4h0M664.2 183.3h0M665.5 182.5h0M666.8 182.4h0M668.1 183.2h0M669.4 182.9h0" fill="none" stroke="#000" stroke-width="2.8" stroke-linecap="round"/><path d="M525.1 174.6h0M527.7 172.7h0M530.3 171h0M532.9 168.4h0M535.5 167.6h0M538.1 166.9h0M540.7 167h0M543.3 167.4h0M545.9 170.1h0M548.5 171.9h0M551.1 174.4h0M553.7 176.6h0M556.3 176.1h0M558.9 175.9h0M561.5 175.4h0M564.1 174.8h0" fill="none" stroke="#000" stroke-width="1.3" stroke-linecap="round"/><path d="M405.5 230.4L406.8 230.2L408.1 229.8L409.4 229.9L410.7 230.2L412 230.3L413.3 230.5L414.6 230.6L415.9 230.5L417.2 230.5L418.5 230L419.8 229.5L421.1 230.2L422.4 230L423.7 230.1L425 230.3L426.3 229.9L427.6 230L428.9 230.4L430.2 230.4L431.5 230.1L432.8 230.5L434.1 230.1L435.4 229.7L436.7 230L438 230.7L439.3 229.5L440.6 230.1L441.9 230L443.2 229.9L444.5 228.8L445.8 229.7L447.1 228.8L448.4 228.5L449.7 228.3L451 228.5L452.3 228L453.6 227.8L454.9 228.1L456.2 227.1L457.5 226.7L458.8 227.2L460.1 226.9L461.4 226.7L462.7 225.6L464 226.1L465.3 225.6L466.6 225.8L467.9 224.2L469.2 224.5L470.5 223.9L471.8 223L473.1 222.9L474.4 223.3L475.7 222.2L477 221.7L478.3 221.9L479.6 221.5L480.9 221.1L482.2 219.9L483.5 219.8L484.8 219.7L486.1 218.5L487.4 218L488.7 218.1L490 217.9L491.3 216.3L492.6 215.2L493.9 215.2L495.2 214.8L496.5 214.7L497.8 214.6L499.1 213.8L500.4 213.2L501.7 213.1L503 212.3L504.3 212.3L505.6 211.7L506.9 212.7L508.2 211.6L509.5 210.6L510.8 210.2L512.1 210.1L513.4 209.3L514.7 209.3L516 208.9L517.3 209.1L518.6 208.2L519.9 207.6L521.2 207L522.5 206.7L523.8 206.9L525.1 206.8" fill="none" stroke="#000" stroke-width="1.0" stroke-linejoin="round"/><path d="M565.4 203.3L566.7 204.8L568 204L569.3 205.7L570.6 206L571.9 206.8L573.2 207.9L574.5 208.8L575.8 209.4L577.1 210.4L578.4 210.4L579.7 211.1L581 210.9L582.3 211.9L583.6 212L584.9 212L586.2 212.3L587.5 212.4L588.8 212.5L590.1 212.6L591.4 212.2L592.7 212.1L594 212.7L595.3 211.7L596.6 212.2L597.9 213L599.2 211.3L600.5 212.1L601.8 212.7L603.1 211.7L604.4 213.4L605.7 211.3L607 213L608.3 213L609.6 212.7L610.9 212.3L612.2 212.5L613.5 212L614.8 212.7L616.1 211.9L617.4 212.2L618.7 212.7L620 211.9L621.3 212.2L622.6 212.4L623.9 211.7L625.2 212.7L626.5 212.4L627.8 211.6L629.1 212.2L630.4 211.9L631.7 211.9L633 212.2L634.3 211.9L635.6 212.5L636.9 211.8L638.2 212.5L639.5 212L640.8 212.4L642.1 211.8L643.4 211.8L644.7 211.5L646 212.1L647.3 212.2L648.6 212.7L649.9 212.3L651.2 211.8L652.5 211.6L653.8 211.8L655.1 211.6L656.4 212.2L657.7 211.9L659 211.1L660.3 211.1L661.6 211.9L662.9 211.4L664.2 211.2L665.5 211.7L666.8 211L668.1 211L669.4 210.8" fill="none" stroke="#000" stroke-width="1.0" stroke-linejoin="round"/><path d="M525.1 206.8L526.4 207.2L527.7 206.4L529 207L530.3 206.7L531.6 206.5L532.9 205.7L534.2 206L535.5 206.9L536.8 207.3L538.1 207L539.4 207.5L540.7 207.3L542 207.6L543.3 207.7L544.6 208.6L545.9 208.5L547.2 208.4L548.5 208.4L549.8 208.5L551.1 208.1L552.4 207.2L553.7 207.6L555 206.5L556.3 205.8L557.6 205.9L558.9 205.4L560.2 204.7L561.5 204.8L562.8 204L564.1 204L565.4 203.3" fill="none" stroke="#6a1ee0" stroke-width="2.8" stroke-linejoin="round"/><path d="M405.5 230.4h0M406.8 230.2h0M408.1 229.8h0M409.4 229.9h0M410.7 230.2h0M412 230.3h0M413.3 230.5h0M414.6 230.6h0M415.9 230.5h0M417.2 230.5h0M418.5 230h0M419.8 229.5h0M421.1 230.2h0M422.4 230h0M423.7 230.1h0M425 230.3h0M426.3 229.9h0M427.6 230h0M428.9 230.4h0M430.2 230.4h0M431.5 230.1h0M432.8 230.5h0M434.1 230.1h0M435.4 229.7h0M436.7 230h0M438 230.7h0M439.3 229.5h0M440.6 230.1h0M441.9 230h0M443.2 229.9h0M444.5 228.8h0M445.8 229.7h0M447.1 228.8h0M448.4 228.5h0M449.7 228.3h0M451 228.5h0M452.3 228h0M453.6 227.8h0M454.9 228.1h0M456.2 227.1h0M457.5 226.7h0M458.8 227.2h0M460.1 226.9h0M461.4 226.7h0M462.7 225.6h0M464 226.1h0M465.3 225.6h0M466.6 225.8h0M467.9 224.2h0M469.2 224.5h0M470.5 223.9h0M471.8 223h0M473.1 222.9h0M474.4 223.3h0M475.7 222.2h0M477 221.7h0M478.3 221.9h0M479.6 221.5h0M480.9 221.1h0M482.2 219.9h0M483.5 219.8h0M484.8 219.7h0M486.1 218.5h0M487.4 218h0M488.7 218.1h0M490 217.9h0M491.3 216.3h0M492.6 215.2h0M493.9 215.2h0M495.2 214.8h0M496.5 214.7h0M497.8 214.6h0M499.1 213.8h0M500.4 213.2h0M501.7 213.1h0M503 212.3h0M504.3 212.3h0M505.6 211.7h0M506.9 212.7h0M508.2 211.6h0M509.5 210.6h0M510.8 210.2h0M512.1 210.1h0M513.4 209.3h0M514.7 209.3h0M516 208.9h0M517.3 209.1h0M518.6 208.2h0M519.9 207.6h0M521.2 207h0M522.5 206.7h0M523.8 206.9h0M566.7 204.8h0M568 204h0M569.3 205.7h0M570.6 206h0M571.9 206.8h0M573.2 207.9h0M574.5 208.8h0M575.8 209.4h0M577.1 210.4h0M578.4 210.4h0M579.7 211.1h0M581 210.9h0M582.3 211.9h0M583.6 212h0M584.9 212h0M586.2 212.3h0M587.5 212.4h0M588.8 212.5h0M590.1 212.6h0M591.4 212.2h0M592.7 212.1h0M594 212.7h0M595.3 211.7h0M596.6 212.2h0M597.9 213h0M599.2 211.3h0M600.5 212.1h0M601.8 212.7h0M603.1 211.7h0M604.4 213.4h0M605.7 211.3h0M607 213h0M608.3 213h0M609.6 212.7h0M610.9 212.3h0M612.2 212.5h0M613.5 212h0M614.8 212.7h0M616.1 211.9h0M617.4 212.2h0M618.7 212.7h0M620 211.9h0M621.3 212.2h0M622.6 212.4h0M623.9 211.7h0M625.2 212.7h0M626.5 212.4h0M627.8 211.6h0M629.1 212.2h0M630.4 211.9h0M631.7 211.9h0M633 212.2h0M634.3 211.9h0M635.6 212.5h0M636.9 211.8h0M638.2 212.5h0M639.5 212h0M640.8 212.4h0M642.1 211.8h0M643.4 211.8h0M644.7 211.5h0M646 212.1h0M647.3 212.2h0M648.6 212.7h0M649.9 212.3h0M651.2 211.8h0M652.5 211.6h0M653.8 211.8h0M655.1 211.6h0M656.4 212.2h0M657.7 211.9h0M659 211.1h0M660.3 211.1h0M661.6 211.9h0M662.9 211.4h0M664.2 211.2h0M665.5 211.7h0M666.8 211h0M668.1 211h0M669.4 210.8h0" fill="none" stroke="#000" stroke-width="2.8" stroke-linecap="round"/><path d="M525.1 206.8h0M527.7 206.4h0M530.3 206.7h0M532.9 205.7h0M535.5 206.9h0M538.1 207h0M540.7 207.3h0M543.3 207.7h0M545.9 208.5h0M548.5 208.4h0M551.1 208.1h0M553.7 207.6h0M556.3 205.8h0M558.9 205.4h0M561.5 204.8h0M564.1 204h0" fill="none" stroke="#000" stroke-width="1.3" stroke-linecap="round"/><path d="M405.5 263.4L406.8 264.3L408.1 263.6L409.4 263.8L410.7 263.8L412 264.2L413.3 264L414.6 264L415.9 263.5L417.2 264L418.5 263.6L419.8 264.1L421.1 264.1L422.4 264L423.7 264.6L425 264.2L426.3 264.2L427.6 264L428.9 263.9L430.2 264.3L431.5 264.2L432.8 263.2L434.1 263.6L435.4 263.1L436.7 262.8L438 262.3L439.3 261.3L440.6 261L441.9 261.6L443.2 260.8L444.5 260L445.8 260.2L447.1 259.7L448.4 259L449.7 258.5L451 258.4L452.3 258.6L453.6 258.1L454.9 257.6L456.2 257.3L457.5 256.9L458.8 255.6L460.1 255.6L461.4 255L462.7 254.3L464 254L465.3 253.5L466.6 252.9L467.9 252L469.2 251.7L470.5 251.9L471.8 250.4L473.1 249.7L474.4 249.8L475.7 249.4L477 248.9L478.3 247.9L479.6 248.1L480.9 247.2L482.2 246.7L483.5 246.5L484.8 246.3L486.1 246.2L487.4 245.9L488.7 245.4L490 245.4L491.3 244.8L492.6 244.8L493.9 243.8L495.2 243.5L496.5 243.9L497.8 243L499.1 243L500.4 242.7L501.7 242.3L503 242L504.3 242.3L505.6 240.8L506.9 241.6L508.2 241.8L509.5 240.9L510.8 240.6L512.1 240.7L513.4 240.8L514.7 239.8L516 240L517.3 239.8L518.6 239.9L519.9 239.7L521.2 239.8L522.5 239.4L523.8 239.5L525.1 239.3" fill="none" stroke="#000" stroke-width="1.0" stroke-linejoin="round"/><path d="M565.4 243.1L566.7 243.2L568 243.7L569.3 243.8L570.6 243.6L571.9 244L573.2 244.5L574.5 244.4L575.8 244.5L577.1 244.3L578.4 244.5L579.7 244.8L581 244.9L582.3 244.7L583.6 245.3L584.9 244.6L586.2 245.6L587.5 245L588.8 244.8L590.1 244.5L591.4 243.8L592.7 244.6L594 244.7L595.3 245.3L596.6 244.3L597.9 245.3L599.2 244.6L600.5 244.9L601.8 243.9L603.1 244.7L604.4 244.6L605.7 244.9L607 244.7L608.3 244.3L609.6 244.9L610.9 244.8L612.2 244.8L613.5 244.9L614.8 244.9L616.1 244.5L617.4 244.1L618.7 244L620 244.8L621.3 244.6L622.6 244.3L623.9 244.1L625.2 244.2L626.5 244.2L627.8 244L629.1 243.8L630.4 244.6L631.7 244L633 243.7L634.3 243.4L635.6 243.5L636.9 243.8L638.2 243.8L639.5 243.4L640.8 243.4L642.1 243.2L643.4 242.9L644.7 243.5L646 243.2L647.3 243.7L648.6 242.7L649.9 242.8L651.2 243L652.5 242.5L653.8 242.1L655.1 242.1L656.4 242.3L657.7 242.3L659 242.1L660.3 242.3L661.6 242.2L662.9 241.9L664.2 241.7L665.5 241.5L666.8 241.6L668.1 241.6L669.4 241.2" fill="none" stroke="#000" stroke-width="1.0" stroke-linejoin="round"/><path d="M525.1 239.3L526.4 239.4L527.7 239.7L529 240L530.3 239.9L531.6 241L532.9 240.8L534.2 240.7L535.5 241.8L536.8 241.4L538.1 242L539.4 242L540.7 242.2L542 242.3L543.3 242.2L544.6 242.5L545.9 243.2L547.2 242L548.5 242.8L549.8 243L551.1 242.6L552.4 242.6L553.7 243.7L555 243L556.3 243.7L557.6 243.3L558.9 243.1L560.2 243.2L561.5 243.3L562.8 243.5L564.1 243.2L565.4 243.1" fill="none" stroke="#136c13" stroke-width="2.8" stroke-linejoin="round"/><path d="M405.5 263.4h0M406.8 264.3h0M408.1 263.6h0M409.4 263.8h0M410.7 263.8h0M412 264.2h0M413.3 264h0M414.6 264h0M415.9 263.5h0M417.2 264h0M418.5 263.6h0M419.8 264.1h0M421.1 264.1h0M422.4 264h0M423.7 264.6h0M425 264.2h0M426.3 264.2h0M427.6 264h0M428.9 263.9h0M430.2 264.3h0M431.5 264.2h0M432.8 263.2h0M434.1 263.6h0M435.4 263.1h0M436.7 262.8h0M438 262.3h0M439.3 261.3h0M440.6 261h0M441.9 261.6h0M443.2 260.8h0M444.5 260h0M445.8 260.2h0M447.1 259.7h0M448.4 259h0M449.7 258.5h0M451 258.4h0M452.3 258.6h0M453.6 258.1h0M454.9 257.6h0M456.2 257.3h0M457.5 256.9h0M458.8 255.6h0M460.1 255.6h0M461.4 255h0M462.7 254.3h0M464 254h0M465.3 253.5h0M466.6 252.9h0M467.9 252h0M469.2 251.7h0M470.5 251.9h0M471.8 250.4h0M473.1 249.7h0M474.4 249.8h0M475.7 249.4h0M477 248.9h0M478.3 247.9h0M479.6 248.1h0M480.9 247.2h0M482.2 246.7h0M483.5 246.5h0M484.8 246.3h0M486.1 246.2h0M487.4 245.9h0M488.7 245.4h0M490 245.4h0M491.3 244.8h0M492.6 244.8h0M493.9 243.8h0M495.2 243.5h0M496.5 243.9h0M497.8 243h0M499.1 243h0M500.4 242.7h0M501.7 242.3h0M503 242h0M504.3 242.3h0M505.6 240.8h0M506.9 241.6h0M508.2 241.8h0M509.5 240.9h0M510.8 240.6h0M512.1 240.7h0M513.4 240.8h0M514.7 239.8h0M516 240h0M517.3 239.8h0M518.6 239.9h0M519.9 239.7h0M521.2 239.8h0M522.5 239.4h0M523.8 239.5h0M566.7 243.2h0M568 243.7h0M569.3 243.8h0M570.6 243.6h0M571.9 244h0M573.2 244.5h0M574.5 244.4h0M575.8 244.5h0M577.1 244.3h0M578.4 244.5h0M579.7 244.8h0M581 244.9h0M582.3 244.7h0M583.6 245.3h0M584.9 244.6h0M586.2 245.6h0M587.5 245h0M588.8 244.8h0M590.1 244.5h0M591.4 243.8h0M592.7 244.6h0M594 244.7h0M595.3 245.3h0M596.6 244.3h0M597.9 245.3h0M599.2 244.6h0M600.5 244.9h0M601.8 243.9h0M603.1 244.7h0M604.4 244.6h0M605.7 244.9h0M607 244.7h0M608.3 244.3h0M609.6 244.9h0M610.9 244.8h0M612.2 244.8h0M613.5 244.9h0M614.8 244.9h0M616.1 244.5h0M617.4 244.1h0M618.7 244h0M620 244.8h0M621.3 244.6h0M622.6 244.3h0M623.9 244.1h0M625.2 244.2h0M626.5 244.2h0M627.8 244h0M629.1 243.8h0M630.4 244.6h0M631.7 244h0M633 243.7h0M634.3 243.4h0M635.6 243.5h0M636.9 243.8h0M638.2 243.8h0M639.5 243.4h0M640.8 243.4h0M642.1 243.2h0M643.4 242.9h0M644.7 243.5h0M646 243.2h0M647.3 243.7h0M648.6 242.7h0M649.9 242.8h0M651.2 243h0M652.5 242.5h0M653.8 242.1h0M655.1 242.1h0M656.4 242.3h0M657.7 242.3h0M659 242.1h0M660.3 242.3h0M661.6 242.2h0M662.9 241.9h0M664.2 241.7h0M665.5 241.5h0M666.8 241.6h0M668.1 241.6h0M669.4 241.2h0" fill="none" stroke="#000" stroke-width="2.8" stroke-linecap="round"/><path d="M525.1 239.3h0M527.7 239.7h0M530.3 239.9h0M532.9 240.8h0M535.5 241.8h0M538.1 242h0M540.7 242.2h0M543.3 242.2h0M545.9 243.2h0M548.5 242.8h0M551.1 242.6h0M553.7 243.7h0M556.3 243.7h0M558.9 243.1h0M561.5 243.3h0M564.1 243.2h0" fill="none" stroke="#000" stroke-width="1.3" stroke-linecap="round"/></g><path d="M620.4 49.5H644" stroke="#7a1a8c" stroke-width="1.0"/><circle cx="632.9" cy="49.5" r="2.1" fill="#000"/><text x="648.5" y="53.4" font-size="11.3" fill="#222" textLength="12.6" lengthAdjust="spacingAndGlyphs">Z9</text><path d="M620.4 76.5H644" stroke="#c04040" stroke-width="1.0"/><circle cx="632.9" cy="76.5" r="2.1" fill="#000"/><text x="648.5" y="80.4" font-size="11.3" fill="#222" textLength="12.6" lengthAdjust="spacingAndGlyphs">Z7</text><path d="M622.4 116.5H646.6" stroke="#000000" stroke-width="1.0"/><circle cx="634.5" cy="116.5" r="2.1" fill="#000"/><text x="650.6" y="120.4" font-size="11.3" fill="#222" textLength="12.6" lengthAdjust="spacingAndGlyphs">Z5</text><path d="M619.7 161.5H643.9" stroke="#8a3030" stroke-width="1.0"/><circle cx="631.8" cy="161.5" r="2.1" fill="#000"/><text x="646.6" y="165.4" font-size="11.3" fill="#222" textLength="12.6" lengthAdjust="spacingAndGlyphs">Z3</text><path d="M618.3 194.5H642.6" stroke="#e52ee0" stroke-width="1.0"/><circle cx="630.4" cy="194.5" r="2.1" fill="#000"/><text x="646" y="198.4" font-size="11.3" fill="#222" textLength="12.6" lengthAdjust="spacingAndGlyphs">Z1</text><path d="M616.7 226.5H641.2" stroke="#6a1ee0" stroke-width="1.0"/><circle cx="629" cy="226.5" r="2.1" fill="#000"/><text x="644.7" y="230.4" font-size="11.3" fill="#222" textLength="12.6" lengthAdjust="spacingAndGlyphs">Z0</text><path d="M584.6 256.5H608.9" stroke="#6a9a6a" stroke-width="1.0"/><circle cx="598" cy="256.5" r="2.1" fill="#000"/><text x="612.9" y="260.4" font-size="11.3" fill="#222">C foil (ref)</text><text x="416" y="24" font-size="13" text-anchor="start" font-weight="normal" fill="#111" textLength="59.9" lengthAdjust="spacingAndGlyphs">C K-edge</text><text x="494.2" y="297.4" font-size="14.2" text-anchor="start" font-weight="normal" fill="#111" textLength="124.1" lengthAdjust="spacingAndGlyphs">Photon Energy (eV)</text><text transform="translate(394.2 160.1) rotate(-90)" x="0" y="0" font-size="14.2" text-anchor="middle" font-weight="normal" fill="#111" textLength="130.6" lengthAdjust="spacingAndGlyphs">Total Electron Yield</text><text x="362" y="28" font-size="35.5" text-anchor="start" font-weight="normal" fill="#000">b</text><rect x="54.7" y="325" width="267.5" height="240.4" fill="none" stroke="#3c3c3c" stroke-width="1"/><text x="54.7" y="576.4" font-size="11.2" text-anchor="middle" fill="#1a1a1a">390</text><text x="99.3" y="576.4" font-size="11.2" text-anchor="middle" fill="#1a1a1a">395</text><text x="143.9" y="576.4" font-size="11.2" text-anchor="middle" fill="#1a1a1a">400</text><text x="188.4" y="576.4" font-size="11.2" text-anchor="middle" fill="#1a1a1a">405</text><text x="233" y="576.4" font-size="11.2" text-anchor="middle" fill="#1a1a1a">410</text><text x="277.6" y="576.4" font-size="11.2" text-anchor="middle" fill="#1a1a1a">415</text><text x="322.2" y="576.4" font-size="11.2" text-anchor="middle" fill="#1a1a1a">420</text><path d="M54.7 565.4v2.6M99.3 565.4v2.6M143.9 565.4v2.6M188.4 565.4v2.6M233 565.4v2.6M277.6 565.4v2.6M322.2 565.4v2.6M77 565.4v1.6M121.6 565.4v1.6M166.2 565.4v1.6M210.7 565.4v1.6M255.3 565.4v1.6M299.9 565.4v1.6" stroke="#3c3c3c" stroke-width="1" fill="none"/><g clip-path="url(#cc)"><path d="M54.7 367.5L55.6 367L56.5 366.4L57.4 366.6L58.3 367.7L59.2 367.5L60.1 368.2L61 367.2L61.9 367.7L62.8 368L63.7 367.8L64.6 366.8L65.5 367.1L66.4 367.3L67.3 366.6L68.2 367.5L69.1 367.8L70 366.9L70.9 368.4L71.8 367L72.7 367.1L73.6 367.1L74.5 366.8L75.4 367.5L76.3 367.2L77.2 368.2L78.1 367.6L79 367.5L79.9 367.1L80.8 366.4L81.7 367.1L82.6 366.7L83.5 367.8L84.4 367.2L85.3 368.2L86.2 367.6L87.1 367.7L88 367.3L88.9 367.3L89.8 367.6L90.7 367.8L91.6 366.8L92.5 367.5L93.4 368.8L94.3 367.1L95.2 367L96.1 366.8L97 366.3L97.9 367.9L98.8 367.2L99.7 367.4L100.6 368.3L101.5 368.8L102.4 366.7L103.3 367.9L104.2 367.7L105.1 367.6L106 367.7L106.9 367.4L107.8 368.4L108.7 367.9L109.6 367.8L110.5 368.4L111.4 368.2L112.3 368L113.2 368L114.1 368.9L115 368.2L115.9 367.9L116.8 367.5L117.7 367.9L118.6 367.5L119.5 368.3L120.4 368.5L121.3 367.2L122.2 368.5L123.1 369L124 368.7L124.9 368.2L125.8 369.6L126.7 368.5L127.6 368.3L128.5 368.4L129.4 369.2L130.3 369.9L131.2 370.1L132.1 369.6L133 368.8L133.9 369.3L134.8 369.3L135.7 369.9L136.6 369.2L137.5 370.5L138.4 371.1L139.3 370.9L140.2 371.5L141.1 370.9L142 370.9L142.9 371.7L143.8 373L144.7 373.2L145.6 372.5L146.5 373.8L147.4 373L148.3 374.3L149.2 373.9L150.1 373.4L151 374.3L151.9 373.4L152.8 373.3L153.7 371.3L154.6 367.9L155.5 361.9L156.4 355.7L157.3 349.9L158.2 344.1L159.1 335.6L160 329.6L160.9 328.3L161.8 330.2L162.7 333.8L163.6 338.2L164.5 344.7L165.4 350.3L166.3 353.3L167.2 357.3L168.1 357.8L169 360.5L169.9 360.9L170.8 363.1L171.7 362.8L172.6 363.6L173.5 362.6L174.4 362.1L175.3 362.3L176.2 362.6L177.1 362.3L178 363.6L178.9 363.6L179.8 362.9L180.7 362.1L181.6 362.6L182.5 362.2L183.4 363.4L184.3 362.6L185.2 362.7L186.1 362.1L187 361.1L187.9 361.8L188.8 361.5L189.7 362.3L190.6 362.1L191.5 361.5L192.4 361.7L193.3 362.8L194.2 361.3L195.1 361.3L196 361.6L196.9 361.3L197.8 361.4L198.7 361.9L199.6 362.6L200.5 360.4L201.4 361.4L202.3 361.4L203.2 361.3L204.1 361.2L205 361L205.9 361.8L206.8 360.8L207.7 361L208.6 361L209.5 361L210.4 360.8L211.3 361.4L212.2 360.7L213.1 360.8L214 360.6L214.9 360L215.8 360L216.7 359.8L217.6 360.5L218.5 359.9L219.4 359.6L220.3 360.4L221.2 360.5L222.1 359.1L223 361.1L223.9 360L224.8 359.9L225.7 360.5L226.6 359.9L227.5 359.4L228.4 361L229.3 359L230.2 359.6L231.1 360.1L232 358.9L232.9 359.4L233.8 359.6L234.7 360.8L235.6 358.8L236.5 359.2L237.4 359.6L238.3 359.2L239.2 358.4L240.1 359.4L241 359.1L241.9 359.3L242.8 359.7L243.7 359.6L244.6 359.2L245.5 359.1L246.4 358.2L247.3 358.7L248.2 358.9L249.1 358.5L250 358.8L250.9 358.2L251.8 359.6L252.7 360L253.6 358.4L254.5 358.9L255.4 358.5L256.3 359.4L257.2 358.9L258.1 358.7L259 358.5L259.9 358.7L260.8 358L261.7 359L262.6 358.2L263.5 358.9L264.4 358.7L265.3 359.3L266.2 358.6L267.1 359.2L268 358L268.9 359L269.8 358.5L270.7 358.7L271.6 358.6L272.5 359.2L273.4 357.4L274.3 358.8L275.2 357.7L276.1 359.3L277 357.4L277.9 358L278.8 357.6L279.7 359.6L280.6 357.8L281.5 358.7L282.4 358.3L283.3 357.5L284.2 358.4L285.1 359L286 358.5L286.9 359.2L287.8 358.4L288.7 358.6L289.6 358.4L290.5 358.8L291.4 359.7L292.3 358.8L293.2 358.7L294.1 358.2L295 358.1L295.9 359.5L296.8 357.9L297.7 358.1L298.6 358.5L299.5 358.3L300.4 359.8L301.3 357.2L302.2 358.8L303.1 359L304 357.9L304.9 358.2L305.8 358.9L306.7 359.6L307.6 358L308.5 357.7L309.4 359.2L310.3 359.5L311.2 358.4L312.1 357.3L313 359.5L313.9 358.5L314.8 359.3L315.7 358.6L316.6 358.4L317.5 358.3L318.4 359.5L319.3 359.5L320.2 357.3L321.1 358L322 359.7" fill="none" stroke="#7a1a8c" stroke-width="1.0" stroke-linejoin="round"/><path d="M54.7 367.5h0M55.6 367h0M56.5 366.4h0M57.4 366.6h0M58.3 367.7h0M59.2 367.5h0M60.1 368.2h0M61 367.2h0M61.9 367.7h0M62.8 368h0M63.7 367.8h0M64.6 366.8h0M65.5 367.1h0M66.4 367.3h0M67.3 366.6h0M68.2 367.5h0M69.1 367.8h0M70 366.9h0M70.9 368.4h0M71.8 367h0M72.7 367.1h0M73.6 367.1h0M74.5 366.8h0M75.4 367.5h0M76.3 367.2h0M77.2 368.2h0M78.1 367.6h0M79 367.5h0M79.9 367.1h0M80.8 366.4h0M81.7 367.1h0M82.6 366.7h0M83.5 367.8h0M84.4 367.2h0M85.3 368.2h0M86.2 367.6h0M87.1 367.7h0M88 367.3h0M88.9 367.3h0M89.8 367.6h0M90.7 367.8h0M91.6 366.8h0M92.5 367.5h0M93.4 368.8h0M94.3 367.1h0M95.2 367h0M96.1 366.8h0M97 366.3h0M97.9 367.9h0M98.8 367.2h0M99.7 367.4h0M100.6 368.3h0M101.5 368.8h0M102.4 366.7h0M103.3 367.9h0M104.2 367.7h0M105.1 367.6h0M106 367.7h0M106.9 367.4h0M107.8 368.4h0M108.7 367.9h0M109.6 367.8h0M110.5 368.4h0M111.4 368.2h0M112.3 368h0M113.2 368h0M114.1 368.9h0M115 368.2h0M115.9 367.9h0M116.8 367.5h0M117.7 367.9h0M118.6 367.5h0M119.5 368.3h0M120.4 368.5h0M121.3 367.2h0M122.2 368.5h0M123.1 369h0M124 368.7h0M124.9 368.2h0M125.8 369.6h0M126.7 368.5h0M127.6 368.3h0M128.5 368.4h0M129.4 369.2h0M130.3 369.9h0M131.2 370.1h0M132.1 369.6h0M133 368.8h0M133.9 369.3h0M134.8 369.3h0M135.7 369.9h0M136.6 369.2h0M137.5 370.5h0M138.4 371.1h0M139.3 370.9h0M140.2 371.5h0M141.1 370.9h0M142 370.9h0M142.9 371.7h0M143.8 373h0M144.7 373.2h0M145.6 372.5h0M146.5 373.8h0M147.4 373h0M148.3 374.3h0M149.2 373.9h0M150.1 373.4h0M151 374.3h0M151.9 373.4h0M152.8 373.3h0M153.7 371.3h0M154.6 367.9h0M155.5 361.9h0M156.4 355.7h0M157.3 349.9h0M158.2 344.1h0M159.1 335.6h0M160 329.6h0M160.9 328.3h0M161.8 330.2h0M162.7 333.8h0M163.6 338.2h0M164.5 344.7h0M165.4 350.3h0M166.3 353.3h0M167.2 357.3h0M168.1 357.8h0M169 360.5h0M169.9 360.9h0M170.8 363.1h0M171.7 362.8h0M172.6 363.6h0M173.5 362.6h0M174.4 362.1h0M175.3 362.3h0M176.2 362.6h0M177.1 362.3h0M178 363.6h0M178.9 363.6h0M179.8 362.9h0M180.7 362.1h0M181.6 362.6h0M182.5 362.2h0M183.4 363.4h0M184.3 362.6h0M185.2 362.7h0M186.1 362.1h0M187 361.1h0M187.9 361.8h0M188.8 361.5h0M189.7 362.3h0M190.6 362.1h0M191.5 361.5h0M192.4 361.7h0M193.3 362.8h0M194.2 361.3h0M195.1 361.3h0M196 361.6h0M196.9 361.3h0M197.8 361.4h0M198.7 361.9h0M199.6 362.6h0M200.5 360.4h0M201.4 361.4h0M202.3 361.4h0M203.2 361.3h0M204.1 361.2h0M205 361h0M205.9 361.8h0M206.8 360.8h0M207.7 361h0M208.6 361h0M209.5 361h0M210.4 360.8h0M211.3 361.4h0M212.2 360.7h0M213.1 360.8h0M214 360.6h0M214.9 360h0M215.8 360h0M216.7 359.8h0M217.6 360.5h0M218.5 359.9h0M219.4 359.6h0M220.3 360.4h0M221.2 360.5h0M222.1 359.1h0M223 361.1h0M223.9 360h0M224.8 359.9h0M225.7 360.5h0M226.6 359.9h0M227.5 359.4h0M228.4 361h0M229.3 359h0M230.2 359.6h0M231.1 360.1h0M232 358.9h0M232.9 359.4h0M233.8 359.6h0M234.7 360.8h0M235.6 358.8h0M236.5 359.2h0M237.4 359.6h0M238.3 359.2h0M239.2 358.4h0M240.1 359.4h0M241 359.1h0M241.9 359.3h0M242.8 359.7h0M243.7 359.6h0M244.6 359.2h0M245.5 359.1h0M246.4 358.2h0M247.3 358.7h0M248.2 358.9h0M249.1 358.5h0M250 358.8h0M250.9 358.2h0M251.8 359.6h0M252.7 360h0M253.6 358.4h0M254.5 358.9h0M255.4 358.5h0M256.3 359.4h0M257.2 358.9h0M258.1 358.7h0M259 358.5h0M259.9 358.7h0M260.8 358h0M261.7 359h0M262.6 358.2h0M263.5 358.9h0M264.4 358.7h0M265.3 359.3h0M266.2 358.6h0M267.1 359.2h0M268 358h0M268.9 359h0M269.8 358.5h0M270.7 358.7h0M271.6 358.6h0M272.5 359.2h0M273.4 357.4h0M274.3 358.8h0M275.2 357.7h0M276.1 359.3h0M277 357.4h0M277.9 358h0M278.8 357.6h0M279.7 359.6h0M280.6 357.8h0M281.5 358.7h0M282.4 358.3h0M283.3 357.5h0M284.2 358.4h0M285.1 359h0M286 358.5h0M286.9 359.2h0M287.8 358.4h0M288.7 358.6h0M289.6 358.4h0M290.5 358.8h0M291.4 359.7h0M292.3 358.8h0M293.2 358.7h0M294.1 358.2h0M295 358.1h0M295.9 359.5h0M296.8 357.9h0M297.7 358.1h0M298.6 358.5h0M299.5 358.3h0M300.4 359.8h0M301.3 357.2h0M302.2 358.8h0M303.1 359h0M304 357.9h0M304.9 358.2h0M305.8 358.9h0M306.7 359.6h0M307.6 358h0M308.5 357.7h0M309.4 359.2h0M310.3 359.5h0M311.2 358.4h0M312.1 357.3h0M313 359.5h0M313.9 358.5h0M314.8 359.3h0M315.7 358.6h0M316.6 358.4h0M317.5 358.3h0M318.4 359.5h0M319.3 359.5h0M320.2 357.3h0M321.1 358h0M322 359.7h0" fill="none" stroke="#7a1a8c" stroke-width="2.9" stroke-linecap="round"/><path d="M54.7 389.4L55.6 388.7L56.5 389.5L57.4 389.4L58.3 389.4L59.2 389.1L60.1 389.2L61 389.1L61.9 389.5L62.8 388.8L63.7 389.1L64.6 389.1L65.5 390L66.4 389.4L67.3 389.1L68.2 389.4L69.1 389.3L70 389.7L70.9 389.4L71.8 390.1L72.7 389.8L73.6 389L74.5 388.8L75.4 389.5L76.3 389.3L77.2 388.9L78.1 388.1L79 387.9L79.9 389.2L80.8 389.4L81.7 389.4L82.6 388.2L83.5 389.5L84.4 388.6L85.3 389.1L86.2 389.2L87.1 388.4L88 388.6L88.9 387.7L89.8 388.4L90.7 387.8L91.6 389.2L92.5 388.9L93.4 389.4L94.3 389.1L95.2 388.5L96.1 389.1L97 388.7L97.9 389.3L98.8 389.1L99.7 388.3L100.6 388.9L101.5 389L102.4 388.8L103.3 389.5L104.2 390L105.1 388.8L106 388.8L106.9 387.7L107.8 389L108.7 388.9L109.6 387.9L110.5 389.4L111.4 389.6L112.3 388.8L113.2 389.1L114.1 388.8L115 389.9L115.9 388.6L116.8 389.3L117.7 390.8L118.6 389.7L119.5 390L120.4 389.7L121.3 389.1L122.2 389.9L123.1 390.2L124 389.4L124.9 390.3L125.8 390.9L126.7 390.9L127.6 389.4L128.5 389.8L129.4 389.5L130.3 391.2L131.2 391L132.1 391.2L133 390.3L133.9 390.3L134.8 391.3L135.7 391.5L136.6 391.3L137.5 392.2L138.4 392.9L139.3 393L140.2 392.7L141.1 392.5L142 394L142.9 394.7L143.8 394.9L144.7 395.2L145.6 395.5L146.5 396.7L147.4 396.6L148.3 397.1L149.2 396.7L150.1 397.2L151 397.8L151.9 397.3L152.8 397.2L153.7 397.7L154.6 395.8L155.5 389.8L156.4 383.8L157.3 376.2L158.2 369.5L159.1 360.6L160 354.1L160.9 352.4L161.8 353.2L162.7 357.3L163.6 362.6L164.5 368L165.4 373.3L166.3 377.7L167.2 380.2L168.1 381.6L169 383L169.9 383.9L170.8 384.2L171.7 385L172.6 384.7L173.5 385.9L174.4 384L175.3 385.2L176.2 386.7L177.1 385.1L178 384.6L178.9 385.2L179.8 386L180.7 385.1L181.6 385.5L182.5 385.2L183.4 384.9L184.3 387L185.2 385.1L186.1 384.7L187 384.7L187.9 385.2L188.8 385.2L189.7 385.4L190.6 385L191.5 384L192.4 385.2L193.3 384.7L194.2 384.7L195.1 383.9L196 384.4L196.9 384.3L197.8 384.7L198.7 383.8L199.6 384.7L200.5 384.7L201.4 383.9L202.3 384.2L203.2 384L204.1 385L205 382.9L205.9 384.2L206.8 383.4L207.7 384.1L208.6 384.8L209.5 383.9L210.4 384.3L211.3 383.7L212.2 385.3L213.1 384.6L214 384.7L214.9 383.2L215.8 383.3L216.7 384.6L217.6 383.8L218.5 383.7L219.4 384L220.3 383L221.2 384.2L222.1 383.7L223 383.9L223.9 383.2L224.8 383.8L225.7 383.1L226.6 384L227.5 384.1L228.4 383.9L229.3 383.6L230.2 383.7L231.1 381.6L232 383.7L232.9 383L233.8 383.2L234.7 382.9L235.6 382.2L236.5 382.7L237.4 383.4L238.3 383.8L239.2 382.5L240.1 382.3L241 383.7L241.9 382.2L242.8 384L243.7 382.7L244.6 382.1L245.5 383.2L246.4 383.6L247.3 381.7L248.2 383.5L249.1 382.3L250 383.4L250.9 382.2L251.8 381.5L252.7 382.7L253.6 382.9L254.5 383.6L255.4 383.3L256.3 382.7L257.2 382.1L258.1 381.9L259 382.1L259.9 381.7L260.8 382L261.7 380.7L262.6 382.3L263.5 382.1L264.4 383.7L265.3 382.6L266.2 381.8L267.1 382.4L268 381.3L268.9 381.7L269.8 380.9L270.7 382.9L271.6 382.4L272.5 381.3L273.4 381.9L274.3 382.5L275.2 382.3L276.1 382.2L277 381.4L277.9 381.5L278.8 382L279.7 382.4L280.6 381.4L281.5 381.2L282.4 382.5L283.3 381.3L284.2 382.5L285.1 381.9L286 382.3L286.9 382.8L287.8 382.2L288.7 382.2L289.6 381.2L290.5 381.3L291.4 382.1L292.3 382.6L293.2 382.5L294.1 383.1L295 381.9L295.9 381.8L296.8 382.3L297.7 381.7L298.6 381.6L299.5 381L300.4 382.2L301.3 381L302.2 381.9L303.1 380.7L304 382.2L304.9 381L305.8 382.1L306.7 380.6L307.6 381.3L308.5 382.3L309.4 381.1L310.3 381.6L311.2 381.2L312.1 380.1L313 381.7L313.9 381.8L314.8 380.8L315.7 381.9L316.6 381L317.5 380.9L318.4 381.5L319.3 381.1L320.2 382.9L321.1 380.6L322 381.9" fill="none" stroke="#e8191c" stroke-width="1.0" stroke-linejoin="round"/><path d="M54.7 389.4h0M55.6 388.7h0M56.5 389.5h0M57.4 389.4h0M58.3 389.4h0M59.2 389.1h0M60.1 389.2h0M61 389.1h0M61.9 389.5h0M62.8 388.8h0M63.7 389.1h0M64.6 389.1h0M65.5 390h0M66.4 389.4h0M67.3 389.1h0M68.2 389.4h0M69.1 389.3h0M70 389.7h0M70.9 389.4h0M71.8 390.1h0M72.7 389.8h0M73.6 389h0M74.5 388.8h0M75.4 389.5h0M76.3 389.3h0M77.2 388.9h0M78.1 388.1h0M79 387.9h0M79.9 389.2h0M80.8 389.4h0M81.7 389.4h0M82.6 388.2h0M83.5 389.5h0M84.4 388.6h0M85.3 389.1h0M86.2 389.2h0M87.1 388.4h0M88 388.6h0M88.9 387.7h0M89.8 388.4h0M90.7 387.8h0M91.6 389.2h0M92.5 388.9h0M93.4 389.4h0M94.3 389.1h0M95.2 388.5h0M96.1 389.1h0M97 388.7h0M97.9 389.3h0M98.8 389.1h0M99.7 388.3h0M100.6 388.9h0M101.5 389h0M102.4 388.8h0M103.3 389.5h0M104.2 390h0M105.1 388.8h0M106 388.8h0M106.9 387.7h0M107.8 389h0M108.7 388.9h0M109.6 387.9h0M110.5 389.4h0M111.4 389.6h0M112.3 388.8h0M113.2 389.1h0M114.1 388.8h0M115 389.9h0M115.9 388.6h0M116.8 389.3h0M117.7 390.8h0M118.6 389.7h0M119.5 390h0M120.4 389.7h0M121.3 389.1h0M122.2 389.9h0M123.1 390.2h0M124 389.4h0M124.9 390.3h0M125.8 390.9h0M126.7 390.9h0M127.6 389.4h0M128.5 389.8h0M129.4 389.5h0M130.3 391.2h0M131.2 391h0M132.1 391.2h0M133 390.3h0M133.9 390.3h0M134.8 391.3h0M135.7 391.5h0M136.6 391.3h0M137.5 392.2h0M138.4 392.9h0M139.3 393h0M140.2 392.7h0M141.1 392.5h0M142 394h0M142.9 394.7h0M143.8 394.9h0M144.7 395.2h0M145.6 395.5h0M146.5 396.7h0M147.4 396.6h0M148.3 397.1h0M149.2 396.7h0M150.1 397.2h0M151 397.8h0M151.9 397.3h0M152.8 397.2h0M153.7 397.7h0M154.6 395.8h0M155.5 389.8h0M156.4 383.8h0M157.3 376.2h0M158.2 369.5h0M159.1 360.6h0M160 354.1h0M160.9 352.4h0M161.8 353.2h0M162.7 357.3h0M163.6 362.6h0M164.5 368h0M165.4 373.3h0M166.3 377.7h0M167.2 380.2h0M168.1 381.6h0M169 383h0M169.9 383.9h0M170.8 384.2h0M171.7 385h0M172.6 384.7h0M173.5 385.9h0M174.4 384h0M175.3 385.2h0M176.2 386.7h0M177.1 385.1h0M178 384.6h0M178.9 385.2h0M179.8 386h0M180.7 385.1h0M181.6 385.5h0M182.5 385.2h0M183.4 384.9h0M184.3 387h0M185.2 385.1h0M186.1 384.7h0M187 384.7h0M187.9 385.2h0M188.8 385.2h0M189.7 385.4h0M190.6 385h0M191.5 384h0M192.4 385.2h0M193.3 384.7h0M194.2 384.7h0M195.1 383.9h0M196 384.4h0M196.9 384.3h0M197.8 384.7h0M198.7 383.8h0M199.6 384.7h0M200.5 384.7h0M201.4 383.9h0M202.3 384.2h0M203.2 384h0M204.1 385h0M205 382.9h0M205.9 384.2h0M206.8 383.4h0M207.7 384.1h0M208.6 384.8h0M209.5 383.9h0M210.4 384.3h0M211.3 383.7h0M212.2 385.3h0M213.1 384.6h0M214 384.7h0M214.9 383.2h0M215.8 383.3h0M216.7 384.6h0M217.6 383.8h0M218.5 383.7h0M219.4 384h0M220.3 383h0M221.2 384.2h0M222.1 383.7h0M223 383.9h0M223.9 383.2h0M224.8 383.8h0M225.7 383.1h0M226.6 384h0M227.5 384.1h0M228.4 383.9h0M229.3 383.6h0M230.2 383.7h0M231.1 381.6h0M232 383.7h0M232.9 383h0M233.8 383.2h0M234.7 382.9h0M235.6 382.2h0M236.5 382.7h0M237.4 383.4h0M238.3 383.8h0M239.2 382.5h0M240.1 382.3h0M241 383.7h0M241.9 382.2h0M242.8 384h0M243.7 382.7h0M244.6 382.1h0M245.5 383.2h0M246.4 383.6h0M247.3 381.7h0M248.2 383.5h0M249.1 382.3h0M250 383.4h0M250.9 382.2h0M251.8 381.5h0M252.7 382.7h0M253.6 382.9h0M254.5 383.6h0M255.4 383.3h0M256.3 382.7h0M257.2 382.1h0M258.1 381.9h0M259 382.1h0M259.9 381.7h0M260.8 382h0M261.7 380.7h0M262.6 382.3h0M263.5 382.1h0M264.4 383.7h0M265.3 382.6h0M266.2 381.8h0M267.1 382.4h0M268 381.3h0M268.9 381.7h0M269.8 380.9h0M270.7 382.9h0M271.6 382.4h0M272.5 381.3h0M273.4 381.9h0M274.3 382.5h0M275.2 382.3h0M276.1 382.2h0M277 381.4h0M277.9 381.5h0M278.8 382h0M279.7 382.4h0M280.6 381.4h0M281.5 381.2h0M282.4 382.5h0M283.3 381.3h0M284.2 382.5h0M285.1 381.9h0M286 382.3h0M286.9 382.8h0M287.8 382.2h0M288.7 382.2h0M289.6 381.2h0M290.5 381.3h0M291.4 382.1h0M292.3 382.6h0M293.2 382.5h0M294.1 383.1h0M295 381.9h0M295.9 381.8h0M296.8 382.3h0M297.7 381.7h0M298.6 381.6h0M299.5 381h0M300.4 382.2h0M301.3 381h0M302.2 381.9h0M303.1 380.7h0M304 382.2h0M304.9 381h0M305.8 382.1h0M306.7 380.6h0M307.6 381.3h0M308.5 382.3h0M309.4 381.1h0M310.3 381.6h0M311.2 381.2h0M312.1 380.1h0M313 381.7h0M313.9 381.8h0M314.8 380.8h0M315.7 381.9h0M316.6 381h0M317.5 380.9h0M318.4 381.5h0M319.3 381.1h0M320.2 382.9h0M321.1 380.6h0M322 381.9h0" fill="none" stroke="#e8191c" stroke-width="2.9" stroke-linecap="round"/><path d="M54.7 420.9L55.6 418.8L56.5 418.9L57.4 420.4L58.3 419.6L59.2 420.2L60.1 420.7L61 419.6L61.9 419L62.8 417.8L63.7 419.8L64.6 419L65.5 419.8L66.4 419.7L67.3 418.6L68.2 420.7L69.1 420.2L70 420L70.9 418.6L71.8 419.1L72.7 419L73.6 419L74.5 418.5L75.4 419.6L76.3 419.4L77.2 419.5L78.1 418.9L79 420.1L79.9 419.3L80.8 417.3L81.7 418.7L82.6 419.1L83.5 419.8L84.4 418.9L85.3 419L86.2 418.7L87.1 419.6L88 418.8L88.9 418.7L89.8 418.6L90.7 419.5L91.6 418.7L92.5 417.9L93.4 419.5L94.3 418.6L95.2 419.4L96.1 419.4L97 419.9L97.9 419.8L98.8 418.7L99.7 419L100.6 418.2L101.5 420.3L102.4 419.5L103.3 420.1L104.2 419L105.1 417.8L106 420.3L106.9 419.3L107.8 419.4L108.7 419.4L109.6 419.8L110.5 419.8L111.4 418.4L112.3 420.3L113.2 419.2L114.1 419.3L115 420.9L115.9 420.4L116.8 419.5L117.7 418.5L118.6 420L119.5 420.3L120.4 420L121.3 419.2L122.2 419.6L123.1 419.3L124 420.4L124.9 420.9L125.8 421.1L126.7 420L127.6 420.7L128.5 421L129.4 420.4L130.3 420.7L131.2 422.4L132.1 421.1L133 421.7L133.9 420.9L134.8 421.4L135.7 420.3L136.6 421.7L137.5 422.8L138.4 423.6L139.3 423.3L140.2 423.2L141.1 423L142 422.8L142.9 423.4L143.8 424.2L144.7 423.5L145.6 424.9L146.5 423.8L147.4 423.4L148.3 424.1L149.2 423.8L150.1 424.1L151 426L151.9 425.1L152.8 424.3L153.7 421L154.6 414.9L155.5 406.3L156.4 399.8L157.3 392L158.2 386L159.1 382.9L160 381.3L160.9 384L161.8 388.4L162.7 393.8L163.6 398.3L164.5 403.2L165.4 407.4L166.3 410L167.2 411.7L168.1 414L169 414.5L169.9 415.7L170.8 416.7L171.7 416.3L172.6 416.1L173.5 417.6L174.4 416.3L175.3 415.7L176.2 416.7L177.1 417.6L178 416.4L178.9 417.1L179.8 415.9L180.7 415.8L181.6 415.6L182.5 415.9L183.4 417.3L184.3 415.1L185.2 417L186.1 415.1L187 415.5L187.9 416.2L188.8 416L189.7 415.7L190.6 414.3L191.5 415.6L192.4 414.6L193.3 417L194.2 415L195.1 415.2L196 414.2L196.9 414.6L197.8 414L198.7 415.5L199.6 414.6L200.5 415.2L201.4 414.3L202.3 414.3L203.2 415.6L204.1 413.9L205 413.3L205.9 414.8L206.8 413.7L207.7 414.2L208.6 415.1L209.5 413.8L210.4 415L211.3 413.8L212.2 415.3L213.1 415.2L214 413.9L214.9 414L215.8 413.6L216.7 414.2L217.6 414.9L218.5 413L219.4 414.6L220.3 413L221.2 413.3L222.1 412.6L223 415.3L223.9 413.9L224.8 414L225.7 413.3L226.6 414.5L227.5 412.2L228.4 413.7L229.3 415.2L230.2 413.3L231.1 413.6L232 414L232.9 412.9L233.8 413.5L234.7 414.1L235.6 413.6L236.5 413.7L237.4 413.1L238.3 413.6L239.2 413.4L240.1 414.3L241 413.8L241.9 413.1L242.8 411.5L243.7 413.7L244.6 413.7L245.5 412.5L246.4 411.7L247.3 412.3L248.2 413.7L249.1 412.3L250 412.7L250.9 413.2L251.8 413.8L252.7 412.9L253.6 412.9L254.5 412.5L255.4 414L256.3 413.6L257.2 412.8L258.1 411.9L259 412.3L259.9 413.2L260.8 412.3L261.7 413.4L262.6 413L263.5 413L264.4 413.2L265.3 413.1L266.2 412.1L267.1 412.5L268 414.3L268.9 411.8L269.8 412.3L270.7 413.4L271.6 412.5L272.5 412L273.4 411.7L274.3 412.9L275.2 413.3L276.1 413.5L277 412.6L277.9 413.2L278.8 411.8L279.7 412.6L280.6 412L281.5 412.6L282.4 413L283.3 413.2L284.2 411.7L285.1 413.3L286 412.1L286.9 411.7L287.8 412.3L288.7 411.3L289.6 412.4L290.5 412.5L291.4 412.2L292.3 412.7L293.2 412.1L294.1 412.3L295 411.3L295.9 412.3L296.8 411.7L297.7 411.9L298.6 412.2L299.5 412.4L300.4 411.1L301.3 411.1L302.2 412L303.1 412.5L304 412.4L304.9 412.8L305.8 413.1L306.7 412.5L307.6 412.1L308.5 411.4L309.4 411.5L310.3 411.8L311.2 412.3L312.1 412.3L313 412.1L313.9 412L314.8 412.6L315.7 412.3L316.6 412.3L317.5 412.3L318.4 411.7L319.3 411.4L320.2 412.4L321.1 412.4L322 411.9" fill="none" stroke="#000000" stroke-width="1.0" stroke-linejoin="round"/><path d="M54.7 420.9h0M55.6 418.8h0M56.5 418.9h0M57.4 420.4h0M58.3 419.6h0M59.2 420.2h0M60.1 420.7h0M61 419.6h0M61.9 419h0M62.8 417.8h0M63.7 419.8h0M64.6 419h0M65.5 419.8h0M66.4 419.7h0M67.3 418.6h0M68.2 420.7h0M69.1 420.2h0M70 420h0M70.9 418.6h0M71.8 419.1h0M72.7 419h0M73.6 419h0M74.5 418.5h0M75.4 419.6h0M76.3 419.4h0M77.2 419.5h0M78.1 418.9h0M79 420.1h0M79.9 419.3h0M80.8 417.3h0M81.7 418.7h0M82.6 419.1h0M83.5 419.8h0M84.4 418.9h0M85.3 419h0M86.2 418.7h0M87.1 419.6h0M88 418.8h0M88.9 418.7h0M89.8 418.6h0M90.7 419.5h0M91.6 418.7h0M92.5 417.9h0M93.4 419.5h0M94.3 418.6h0M95.2 419.4h0M96.1 419.4h0M97 419.9h0M97.9 419.8h0M98.8 418.7h0M99.7 419h0M100.6 418.2h0M101.5 420.3h0M102.4 419.5h0M103.3 420.1h0M104.2 419h0M105.1 417.8h0M106 420.3h0M106.9 419.3h0M107.8 419.4h0M108.7 419.4h0M109.6 419.8h0M110.5 419.8h0M111.4 418.4h0M112.3 420.3h0M113.2 419.2h0M114.1 419.3h0M115 420.9h0M115.9 420.4h0M116.8 419.5h0M117.7 418.5h0M118.6 420h0M119.5 420.3h0M120.4 420h0M121.3 419.2h0M122.2 419.6h0M123.1 419.3h0M124 420.4h0M124.9 420.9h0M125.8 421.1h0M126.7 420h0M127.6 420.7h0M128.5 421h0M129.4 420.4h0M130.3 420.7h0M131.2 422.4h0M132.1 421.1h0M133 421.7h0M133.9 420.9h0M134.8 421.4h0M135.7 420.3h0M136.6 421.7h0M137.5 422.8h0M138.4 423.6h0M139.3 423.3h0M140.2 423.2h0M141.1 423h0M142 422.8h0M142.9 423.4h0M143.8 424.2h0M144.7 423.5h0M145.6 424.9h0M146.5 423.8h0M147.4 423.4h0M148.3 424.1h0M149.2 423.8h0M150.1 424.1h0M151 426h0M151.9 425.1h0M152.8 424.3h0M153.7 421h0M154.6 414.9h0M155.5 406.3h0M156.4 399.8h0M157.3 392h0M158.2 386h0M159.1 382.9h0M160 381.3h0M160.9 384h0M161.8 388.4h0M162.7 393.8h0M163.6 398.3h0M164.5 403.2h0M165.4 407.4h0M166.3 410h0M167.2 411.7h0M168.1 414h0M169 414.5h0M169.9 415.7h0M170.8 416.7h0M171.7 416.3h0M172.6 416.1h0M173.5 417.6h0M174.4 416.3h0M175.3 415.7h0M176.2 416.7h0M177.1 417.6h0M178 416.4h0M178.9 417.1h0M179.8 415.9h0M180.7 415.8h0M181.6 415.6h0M182.5 415.9h0M183.4 417.3h0M184.3 415.1h0M185.2 417h0M186.1 415.1h0M187 415.5h0M187.9 416.2h0M188.8 416h0M189.7 415.7h0M190.6 414.3h0M191.5 415.6h0M192.4 414.6h0M193.3 417h0M194.2 415h0M195.1 415.2h0M196 414.2h0M196.9 414.6h0M197.8 414h0M198.7 415.5h0M199.6 414.6h0M200.5 415.2h0M201.4 414.3h0M202.3 414.3h0M203.2 415.6h0M204.1 413.9h0M205 413.3h0M205.9 414.8h0M206.8 413.7h0M207.7 414.2h0M208.6 415.1h0M209.5 413.8h0M210.4 415h0M211.3 413.8h0M212.2 415.3h0M213.1 415.2h0M214 413.9h0M214.9 414h0M215.8 413.6h0M216.7 414.2h0M217.6 414.9h0M218.5 413h0M219.4 414.6h0M220.3 413h0M221.2 413.3h0M222.1 412.6h0M223 415.3h0M223.9 413.9h0M224.8 414h0M225.7 413.3h0M226.6 414.5h0M227.5 412.2h0M228.4 413.7h0M229.3 415.2h0M230.2 413.3h0M231.1 413.6h0M232 414h0M232.9 412.9h0M233.8 413.5h0M234.7 414.1h0M235.6 413.6h0M236.5 413.7h0M237.4 413.1h0M238.3 413.6h0M239.2 413.4h0M240.1 414.3h0M241 413.8h0M241.9 413.1h0M242.8 411.5h0M243.7 413.7h0M244.6 413.7h0M245.5 412.5h0M246.4 411.7h0M247.3 412.3h0M248.2 413.7h0M249.1 412.3h0M250 412.7h0M250.9 413.2h0M251.8 413.8h0M252.7 412.9h0M253.6 412.9h0M254.5 412.5h0M255.4 414h0M256.3 413.6h0M257.2 412.8h0M258.1 411.9h0M259 412.3h0M259.9 413.2h0M260.8 412.3h0M261.7 413.4h0M262.6 413h0M263.5 413h0M264.4 413.2h0M265.3 413.1h0M266.2 412.1h0M267.1 412.5h0M268 414.3h0M268.9 411.8h0M269.8 412.3h0M270.7 413.4h0M271.6 412.5h0M272.5 412h0M273.4 411.7h0M274.3 412.9h0M275.2 413.3h0M276.1 413.5h0M277 412.6h0M277.9 413.2h0M278.8 411.8h0M279.7 412.6h0M280.6 412h0M281.5 412.6h0M282.4 413h0M283.3 413.2h0M284.2 411.7h0M285.1 413.3h0M286 412.1h0M286.9 411.7h0M287.8 412.3h0M288.7 411.3h0M289.6 412.4h0M290.5 412.5h0M291.4 412.2h0M292.3 412.7h0M293.2 412.1h0M294.1 412.3h0M295 411.3h0M295.9 412.3h0M296.8 411.7h0M297.7 411.9h0M298.6 412.2h0M299.5 412.4h0M300.4 411.1h0M301.3 411.1h0M302.2 412h0M303.1 412.5h0M304 412.4h0M304.9 412.8h0M305.8 413.1h0M306.7 412.5h0M307.6 412.1h0M308.5 411.4h0M309.4 411.5h0M310.3 411.8h0M311.2 412.3h0M312.1 412.3h0M313 412.1h0M313.9 412h0M314.8 412.6h0M315.7 412.3h0M316.6 412.3h0M317.5 412.3h0M318.4 411.7h0M319.3 411.4h0M320.2 412.4h0M321.1 412.4h0M322 411.9h0" fill="none" stroke="#000000" stroke-width="2.9" stroke-linecap="round"/><path d="M54.7 449.8L55.6 451.4L56.5 449.5L57.4 449.9L58.3 450.2L59.2 449.3L60.1 450.1L61 451.1L61.9 450.6L62.8 450.4L63.7 450.4L64.6 450.1L65.5 450.6L66.4 450L67.3 449.8L68.2 450.1L69.1 450.6L70 450.3L70.9 450.5L71.8 448.9L72.7 450.8L73.6 451.5L74.5 450.9L75.4 449.9L76.3 449.6L77.2 450.3L78.1 449.6L79 450.6L79.9 449.9L80.8 450.8L81.7 451L82.6 449L83.5 450.4L84.4 449.8L85.3 449.4L86.2 449.9L87.1 450.2L88 450.9L88.9 449.4L89.8 451L90.7 451.6L91.6 450.8L92.5 450.7L93.4 450.4L94.3 449.7L95.2 450.8L96.1 450.7L97 450.9L97.9 452.1L98.8 451L99.7 450.8L100.6 451.5L101.5 449.8L102.4 450L103.3 450.5L104.2 450.4L105.1 451.3L106 450.7L106.9 452L107.8 451.9L108.7 451.6L109.6 450.9L110.5 451.6L111.4 451.8L112.3 450.7L113.2 451.7L114.1 452L115 451.7L115.9 452.6L116.8 452.5L117.7 451.3L118.6 452L119.5 451.5L120.4 452.4L121.3 451.6L122.2 452.8L123.1 452.5L124 453L124.9 452.4L125.8 451.6L126.7 453.6L127.6 452.5L128.5 453.5L129.4 453L130.3 453.2L131.2 454L132.1 453.1L133 453.8L133.9 452.1L134.8 453.5L135.7 452.9L136.6 453L137.5 453.1L138.4 453.3L139.3 454.1L140.2 452L141.1 453L142 452.4L142.9 453.2L143.8 451.9L144.7 452L145.6 451L146.5 451.1L147.4 450.8L148.3 449.3L149.2 448.8L150.1 447L151 446.5L151.9 445L152.8 441.9L153.7 440.4L154.6 433.9L155.5 427.5L156.4 420.8L157.3 415.3L158.2 411.9L159.1 412L160 415L160.9 420.3L161.8 425.2L162.7 430L163.6 433.9L164.5 438.7L165.4 438.6L166.3 441.8L167.2 443.8L168.1 444L169 443.8L169.9 444.8L170.8 445.7L171.7 446.1L172.6 444.9L173.5 445.9L174.4 445.5L175.3 446L176.2 446.2L177.1 445.1L178 444.4L178.9 445.5L179.8 446.3L180.7 445.6L181.6 445.3L182.5 446.6L183.4 444.5L184.3 445.6L185.2 444.7L186.1 445L187 445L187.9 445.8L188.8 444.3L189.7 444.4L190.6 443.8L191.5 445L192.4 444.3L193.3 444.8L194.2 443.9L195.1 444.2L196 445L196.9 444.3L197.8 444.7L198.7 444.6L199.6 444L200.5 443.2L201.4 444.7L202.3 444.2L203.2 444.6L204.1 442.8L205 442.9L205.9 442.6L206.8 443.3L207.7 444.4L208.6 444L209.5 443.6L210.4 443.7L211.3 444L212.2 443.3L213.1 443.6L214 443.4L214.9 442L215.8 443L216.7 444L217.6 442.9L218.5 443L219.4 442.6L220.3 442.6L221.2 443.5L222.1 442.7L223 442.1L223.9 440.8L224.8 442.3L225.7 441.4L226.6 441.5L227.5 443L228.4 442.9L229.3 441.3L230.2 442.9L231.1 442.7L232 441.9L232.9 442.8L233.8 441.4L234.7 441.6L235.6 441.4L236.5 441.6L237.4 442.8L238.3 441.5L239.2 441.6L240.1 441.7L241 442.4L241.9 442.1L242.8 442.8L243.7 441.9L244.6 441.5L245.5 442L246.4 442.3L247.3 441.7L248.2 442.5L249.1 443.4L250 441.9L250.9 442.3L251.8 443.1L252.7 441.9L253.6 441.8L254.5 441.6L255.4 442.5L256.3 442.6L257.2 442.2L258.1 442.3L259 443.1L259.9 442.8L260.8 441.5L261.7 442.3L262.6 442.4L263.5 442.7L264.4 442.2L265.3 441.9L266.2 442L267.1 441.2L268 442.3L268.9 442L269.8 442.6L270.7 441.7L271.6 442.1L272.5 441.7L273.4 441.7L274.3 442.7L275.2 442L276.1 442.6L277 441.7L277.9 442.4L278.8 441.3L279.7 442.1L280.6 442L281.5 442.7L282.4 442.5L283.3 442.3L284.2 442.9L285.1 442.5L286 442.7L286.9 442.8L287.8 442.3L288.7 442.2L289.6 442.6L290.5 442.1L291.4 442.6L292.3 443.1L293.2 442.9L294.1 442.2L295 441.7L295.9 442.4L296.8 442.4L297.7 443.1L298.6 442.2L299.5 442.3L300.4 442.9L301.3 442.2L302.2 442.4L303.1 443.5L304 443.4L304.9 442.9L305.8 442.7L306.7 442L307.6 442.9L308.5 442.6L309.4 442.7L310.3 442.3L311.2 442.6L312.1 442.5L313 442.8L313.9 443.5L314.8 442.9L315.7 441.7L316.6 442.1L317.5 441.7L318.4 442.2L319.3 443.1L320.2 443L321.1 442.4L322 442.9" fill="none" stroke="#6e0a0a" stroke-width="1.0" stroke-linejoin="round"/><path d="M54.7 449.8h0M55.6 451.4h0M56.5 449.5h0M57.4 449.9h0M58.3 450.2h0M59.2 449.3h0M60.1 450.1h0M61 451.1h0M61.9 450.6h0M62.8 450.4h0M63.7 450.4h0M64.6 450.1h0M65.5 450.6h0M66.4 450h0M67.3 449.8h0M68.2 450.1h0M69.1 450.6h0M70 450.3h0M70.9 450.5h0M71.8 448.9h0M72.7 450.8h0M73.6 451.5h0M74.5 450.9h0M75.4 449.9h0M76.3 449.6h0M77.2 450.3h0M78.1 449.6h0M79 450.6h0M79.9 449.9h0M80.8 450.8h0M81.7 451h0M82.6 449h0M83.5 450.4h0M84.4 449.8h0M85.3 449.4h0M86.2 449.9h0M87.1 450.2h0M88 450.9h0M88.9 449.4h0M89.8 451h0M90.7 451.6h0M91.6 450.8h0M92.5 450.7h0M93.4 450.4h0M94.3 449.7h0M95.2 450.8h0M96.1 450.7h0M97 450.9h0M97.9 452.1h0M98.8 451h0M99.7 450.8h0M100.6 451.5h0M101.5 449.8h0M102.4 450h0M103.3 450.5h0M104.2 450.4h0M105.1 451.3h0M106 450.7h0M106.9 452h0M107.8 451.9h0M108.7 451.6h0M109.6 450.9h0M110.5 451.6h0M111.4 451.8h0M112.3 450.7h0M113.2 451.7h0M114.1 452h0M115 451.7h0M115.9 452.6h0M116.8 452.5h0M117.7 451.3h0M118.6 452h0M119.5 451.5h0M120.4 452.4h0M121.3 451.6h0M122.2 452.8h0M123.1 452.5h0M124 453h0M124.9 452.4h0M125.8 451.6h0M126.7 453.6h0M127.6 452.5h0M128.5 453.5h0M129.4 453h0M130.3 453.2h0M131.2 454h0M132.1 453.1h0M133 453.8h0M133.9 452.1h0M134.8 453.5h0M135.7 452.9h0M136.6 453h0M137.5 453.1h0M138.4 453.3h0M139.3 454.1h0M140.2 452h0M141.1 453h0M142 452.4h0M142.9 453.2h0M143.8 451.9h0M144.7 452h0M145.6 451h0M146.5 451.1h0M147.4 450.8h0M148.3 449.3h0M149.2 448.8h0M150.1 447h0M151 446.5h0M151.9 445h0M152.8 441.9h0M153.7 440.4h0M154.6 433.9h0M155.5 427.5h0M156.4 420.8h0M157.3 415.3h0M158.2 411.9h0M159.1 412h0M160 415h0M160.9 420.3h0M161.8 425.2h0M162.7 430h0M163.6 433.9h0M164.5 438.7h0M165.4 438.6h0M166.3 441.8h0M167.2 443.8h0M168.1 444h0M169 443.8h0M169.9 444.8h0M170.8 445.7h0M171.7 446.1h0M172.6 444.9h0M173.5 445.9h0M174.4 445.5h0M175.3 446h0M176.2 446.2h0M177.1 445.1h0M178 444.4h0M178.9 445.5h0M179.8 446.3h0M180.7 445.6h0M181.6 445.3h0M182.5 446.6h0M183.4 444.5h0M184.3 445.6h0M185.2 444.7h0M186.1 445h0M187 445h0M187.9 445.8h0M188.8 444.3h0M189.7 444.4h0M190.6 443.8h0M191.5 445h0M192.4 444.3h0M193.3 444.8h0M194.2 443.9h0M195.1 444.2h0M196 445h0M196.9 444.3h0M197.8 444.7h0M198.7 444.6h0M199.6 444h0M200.5 443.2h0M201.4 444.7h0M202.3 444.2h0M203.2 444.6h0M204.1 442.8h0M205 442.9h0M205.9 442.6h0M206.8 443.3h0M207.7 444.4h0M208.6 444h0M209.5 443.6h0M210.4 443.7h0M211.3 444h0M212.2 443.3h0M213.1 443.6h0M214 443.4h0M214.9 442h0M215.8 443h0M216.7 444h0M217.6 442.9h0M218.5 443h0M219.4 442.6h0M220.3 442.6h0M221.2 443.5h0M222.1 442.7h0M223 442.1h0M223.9 440.8h0M224.8 442.3h0M225.7 441.4h0M226.6 441.5h0M227.5 443h0M228.4 442.9h0M229.3 441.3h0M230.2 442.9h0M231.1 442.7h0M232 441.9h0M232.9 442.8h0M233.8 441.4h0M234.7 441.6h0M235.6 441.4h0M236.5 441.6h0M237.4 442.8h0M238.3 441.5h0M239.2 441.6h0M240.1 441.7h0M241 442.4h0M241.9 442.1h0M242.8 442.8h0M243.7 441.9h0M244.6 441.5h0M245.5 442h0M246.4 442.3h0M247.3 441.7h0M248.2 442.5h0M249.1 443.4h0M250 441.9h0M250.9 442.3h0M251.8 443.1h0M252.7 441.9h0M253.6 441.8h0M254.5 441.6h0M255.4 442.5h0M256.3 442.6h0M257.2 442.2h0M258.1 442.3h0M259 443.1h0M259.9 442.8h0M260.8 441.5h0M261.7 442.3h0M262.6 442.4h0M263.5 442.7h0M264.4 442.2h0M265.3 441.9h0M266.2 442h0M267.1 441.2h0M268 442.3h0M268.9 442h0M269.8 442.6h0M270.7 441.7h0M271.6 442.1h0M272.5 441.7h0M273.4 441.7h0M274.3 442.7h0M275.2 442h0M276.1 442.6h0M277 441.7h0M277.9 442.4h0M278.8 441.3h0M279.7 442.1h0M280.6 442h0M281.5 442.7h0M282.4 442.5h0M283.3 442.3h0M284.2 442.9h0M285.1 442.5h0M286 442.7h0M286.9 442.8h0M287.8 442.3h0M288.7 442.2h0M289.6 442.6h0M290.5 442.1h0M291.4 442.6h0M292.3 443.1h0M293.2 442.9h0M294.1 442.2h0M295 441.7h0M295.9 442.4h0M296.8 442.4h0M297.7 443.1h0M298.6 442.2h0M299.5 442.3h0M300.4 442.9h0M301.3 442.2h0M302.2 442.4h0M303.1 443.5h0M304 443.4h0M304.9 442.9h0M305.8 442.7h0M306.7 442h0M307.6 442.9h0M308.5 442.6h0M309.4 442.7h0M310.3 442.3h0M311.2 442.6h0M312.1 442.5h0M313 442.8h0M313.9 443.5h0M314.8 442.9h0M315.7 441.7h0M316.6 442.1h0M317.5 441.7h0M318.4 442.2h0M319.3 443.1h0M320.2 443h0M321.1 442.4h0M322 442.9h0" fill="none" stroke="#6e0a0a" stroke-width="2.9" stroke-linecap="round"/><path d="M54.7 482L55.6 481.7L56.5 481.7L57.4 482L58.3 483.1L59.2 481.8L60.1 483.1L61 483.1L61.9 482.4L62.8 482.5L63.7 482.2L64.6 482.5L65.5 482.9L66.4 482.6L67.3 483.1L68.2 483.2L69.1 482.8L70 482.8L70.9 482.6L71.8 482.8L72.7 482.1L73.6 482.9L74.5 482.8L75.4 482.3L76.3 483.8L77.2 482.3L78.1 482.3L79 482.9L79.9 481.8L80.8 482.4L81.7 482.1L82.6 482.3L83.5 482.8L84.4 483L85.3 483.4L86.2 483.3L87.1 483.5L88 483.2L88.9 482.7L89.8 483.5L90.7 482.7L91.6 482.7L92.5 483.8L93.4 483.4L94.3 483.1L95.2 483.4L96.1 483.5L97 482.4L97.9 483L98.8 482.5L99.7 483.2L100.6 482.8L101.5 483.8L102.4 483.4L103.3 482.8L104.2 483.2L105.1 482.6L106 483.2L106.9 483.5L107.8 483.4L108.7 482.3L109.6 483.1L110.5 483.5L111.4 483.4L112.3 483.9L113.2 482.7L114.1 483.6L115 483L115.9 483.5L116.8 483.6L117.7 483.7L118.6 483.1L119.5 483.5L120.4 482.8L121.3 482.7L122.2 483.7L123.1 483.4L124 482.7L124.9 483.1L125.8 483.5L126.7 484.3L127.6 484.1L128.5 484L129.4 482.7L130.3 483.6L131.2 483.9L132.1 483.8L133 483.9L133.9 483.6L134.8 484.6L135.7 484.5L136.6 483.7L137.5 483.3L138.4 484.8L139.3 483.6L140.2 484.5L141.1 484.7L142 482.9L142.9 483L143.8 482L144.7 481.8L145.6 481L146.5 480.9L147.4 479.2L148.3 477.7L149.2 476.8L150.1 474.3L151 472.3L151.9 470.8L152.8 465.5L153.7 461.3L154.6 455.6L155.5 446.2L156.4 438.2L157.3 438L158.2 438.8L159.1 442L160 446.2L160.9 450.4L161.8 454.7L162.7 459.3L163.6 465.1L164.5 468.2L165.4 470.4L166.3 470.9L167.2 473L168.1 473.4L169 475.2L169.9 475.1L170.8 475.5L171.7 475.7L172.6 475.7L173.5 475.5L174.4 476.8L175.3 476L176.2 476.2L177.1 476.8L178 476.6L178.9 477.2L179.8 477.6L180.7 477.2L181.6 477.2L182.5 477.1L183.4 477.5L184.3 476.1L185.2 477.1L186.1 476.5L187 476.3L187.9 476.8L188.8 476.6L189.7 477L190.6 477.2L191.5 475.4L192.4 476.5L193.3 477.5L194.2 476.8L195.1 477.1L196 476.3L196.9 475.5L197.8 475.6L198.7 476.4L199.6 476.5L200.5 475.6L201.4 475.7L202.3 475.9L203.2 474.8L204.1 475.4L205 476.3L205.9 476.4L206.8 475.2L207.7 476L208.6 474.7L209.5 474.4L210.4 473.6L211.3 475L212.2 474.2L213.1 475.4L214 474.3L214.9 474.1L215.8 472.9L216.7 474.4L217.6 473.3L218.5 473.3L219.4 472.1L220.3 473.6L221.2 473.5L222.1 472.5L223 472.7L223.9 472.8L224.8 472.9L225.7 472.4L226.6 473.1L227.5 472L228.4 471.8L229.3 471.8L230.2 470.7L231.1 471.5L232 472.3L232.9 471.9L233.8 471.4L234.7 471.9L235.6 470.8L236.5 471.6L237.4 472.1L238.3 472.2L239.2 471.5L240.1 472.3L241 472.8L241.9 471.7L242.8 472.4L243.7 471.3L244.6 471.1L245.5 472.5L246.4 472.2L247.3 472.4L248.2 472L249.1 472.3L250 472.9L250.9 473.4L251.8 472.5L252.7 471.9L253.6 473.4L254.5 473.1L255.4 473.3L256.3 473.1L257.2 474.2L258.1 473.2L259 473.5L259.9 472.4L260.8 473.1L261.7 473.1L262.6 473.5L263.5 473.8L264.4 473.3L265.3 474.6L266.2 473.3L267.1 473.6L268 474L268.9 473.4L269.8 474.3L270.7 474.4L271.6 474L272.5 475.1L273.4 474.3L274.3 474.4L275.2 473.8L276.1 473.5L277 474.1L277.9 474.2L278.8 474.2L279.7 474.9L280.6 473.3L281.5 474L282.4 473.7L283.3 475.3L284.2 474.4L285.1 474.4L286 474.2L286.9 475.2L287.8 474.6L288.7 475L289.6 473.9L290.5 475.5L291.4 475.1L292.3 475.3L293.2 475.6L294.1 474.9L295 475L295.9 475.5L296.8 475.4L297.7 475L298.6 475.2L299.5 475L300.4 475.6L301.3 475.8L302.2 475.3L303.1 476.3L304 474.6L304.9 475.3L305.8 476.3L306.7 475.2L307.6 474.7L308.5 476.2L309.4 475.8L310.3 474.9L311.2 476L312.1 475.1L313 474.9L313.9 475.6L314.8 475.4L315.7 475.1L316.6 475.5L317.5 475.2L318.4 475.7L319.3 475.7L320.2 476.1L321.1 475.5L322 475.1" fill="none" stroke="#e52ee0" stroke-width="1.0" stroke-linejoin="round"/><path d="M54.7 482h0M55.6 481.7h0M56.5 481.7h0M57.4 482h0M58.3 483.1h0M59.2 481.8h0M60.1 483.1h0M61 483.1h0M61.9 482.4h0M62.8 482.5h0M63.7 482.2h0M64.6 482.5h0M65.5 482.9h0M66.4 482.6h0M67.3 483.1h0M68.2 483.2h0M69.1 482.8h0M70 482.8h0M70.9 482.6h0M71.8 482.8h0M72.7 482.1h0M73.6 482.9h0M74.5 482.8h0M75.4 482.3h0M76.3 483.8h0M77.2 482.3h0M78.1 482.3h0M79 482.9h0M79.9 481.8h0M80.8 482.4h0M81.7 482.1h0M82.6 482.3h0M83.5 482.8h0M84.4 483h0M85.3 483.4h0M86.2 483.3h0M87.1 483.5h0M88 483.2h0M88.9 482.7h0M89.8 483.5h0M90.7 482.7h0M91.6 482.7h0M92.5 483.8h0M93.4 483.4h0M94.3 483.1h0M95.2 483.4h0M96.1 483.5h0M97 482.4h0M97.9 483h0M98.8 482.5h0M99.7 483.2h0M100.6 482.8h0M101.5 483.8h0M102.4 483.4h0M103.3 482.8h0M104.2 483.2h0M105.1 482.6h0M106 483.2h0M106.9 483.5h0M107.8 483.4h0M108.7 482.3h0M109.6 483.1h0M110.5 483.5h0M111.4 483.4h0M112.3 483.9h0M113.2 482.7h0M114.1 483.6h0M115 483h0M115.9 483.5h0M116.8 483.6h0M117.7 483.7h0M118.6 483.1h0M119.5 483.5h0M120.4 482.8h0M121.3 482.7h0M122.2 483.7h0M123.1 483.4h0M124 482.7h0M124.9 483.1h0M125.8 483.5h0M126.7 484.3h0M127.6 484.1h0M128.5 484h0M129.4 482.7h0M130.3 483.6h0M131.2 483.9h0M132.1 483.8h0M133 483.9h0M133.9 483.6h0M134.8 484.6h0M135.7 484.5h0M136.6 483.7h0M137.5 483.3h0M138.4 484.8h0M139.3 483.6h0M140.2 484.5h0M141.1 484.7h0M142 482.9h0M142.9 483h0M143.8 482h0M144.7 481.8h0M145.6 481h0M146.5 480.9h0M147.4 479.2h0M148.3 477.7h0M149.2 476.8h0M150.1 474.3h0M151 472.3h0M151.9 470.8h0M152.8 465.5h0M153.7 461.3h0M154.6 455.6h0M155.5 446.2h0M156.4 438.2h0M157.3 438h0M158.2 438.8h0M159.1 442h0M160 446.2h0M160.9 450.4h0M161.8 454.7h0M162.7 459.3h0M163.6 465.1h0M164.5 468.2h0M165.4 470.4h0M166.3 470.9h0M167.2 473h0M168.1 473.4h0M169 475.2h0M169.9 475.1h0M170.8 475.5h0M171.7 475.7h0M172.6 475.7h0M173.5 475.5h0M174.4 476.8h0M175.3 476h0M176.2 476.2h0M177.1 476.8h0M178 476.6h0M178.9 477.2h0M179.8 477.6h0M180.7 477.2h0M181.6 477.2h0M182.5 477.1h0M183.4 477.5h0M184.3 476.1h0M185.2 477.1h0M186.1 476.5h0M187 476.3h0M187.9 476.8h0M188.8 476.6h0M189.7 477h0M190.6 477.2h0M191.5 475.4h0M192.4 476.5h0M193.3 477.5h0M194.2 476.8h0M195.1 477.1h0M196 476.3h0M196.9 475.5h0M197.8 475.6h0M198.7 476.4h0M199.6 476.5h0M200.5 475.6h0M201.4 475.7h0M202.3 475.9h0M203.2 474.8h0M204.1 475.4h0M205 476.3h0M205.9 476.4h0M206.8 475.2h0M207.7 476h0M208.6 474.7h0M209.5 474.4h0M210.4 473.6h0M211.3 475h0M212.2 474.2h0M213.1 475.4h0M214 474.3h0M214.9 474.1h0M215.8 472.9h0M216.7 474.4h0M217.6 473.3h0M218.5 473.3h0M219.4 472.1h0M220.3 473.6h0M221.2 473.5h0M222.1 472.5h0M223 472.7h0M223.9 472.8h0M224.8 472.9h0M225.7 472.4h0M226.6 473.1h0M227.5 472h0M228.4 471.8h0M229.3 471.8h0M230.2 470.7h0M231.1 471.5h0M232 472.3h0M232.9 471.9h0M233.8 471.4h0M234.7 471.9h0M235.6 470.8h0M236.5 471.6h0M237.4 472.1h0M238.3 472.2h0M239.2 471.5h0M240.1 472.3h0M241 472.8h0M241.9 471.7h0M242.8 472.4h0M243.7 471.3h0M244.6 471.1h0M245.5 472.5h0M246.4 472.2h0M247.3 472.4h0M248.2 472h0M249.1 472.3h0M250 472.9h0M250.9 473.4h0M251.8 472.5h0M252.7 471.9h0M253.6 473.4h0M254.5 473.1h0M255.4 473.3h0M256.3 473.1h0M257.2 474.2h0M258.1 473.2h0M259 473.5h0M259.9 472.4h0M260.8 473.1h0M261.7 473.1h0M262.6 473.5h0M263.5 473.8h0M264.4 473.3h0M265.3 474.6h0M266.2 473.3h0M267.1 473.6h0M268 474h0M268.9 473.4h0M269.8 474.3h0M270.7 474.4h0M271.6 474h0M272.5 475.1h0M273.4 474.3h0M274.3 474.4h0M275.2 473.8h0M276.1 473.5h0M277 474.1h0M277.9 474.2h0M278.8 474.2h0M279.7 474.9h0M280.6 473.3h0M281.5 474h0M282.4 473.7h0M283.3 475.3h0M284.2 474.4h0M285.1 474.4h0M286 474.2h0M286.9 475.2h0M287.8 474.6h0M288.7 475h0M289.6 473.9h0M290.5 475.5h0M291.4 475.1h0M292.3 475.3h0M293.2 475.6h0M294.1 474.9h0M295 475h0M295.9 475.5h0M296.8 475.4h0M297.7 475h0M298.6 475.2h0M299.5 475h0M300.4 475.6h0M301.3 475.8h0M302.2 475.3h0M303.1 476.3h0M304 474.6h0M304.9 475.3h0M305.8 476.3h0M306.7 475.2h0M307.6 474.7h0M308.5 476.2h0M309.4 475.8h0M310.3 474.9h0M311.2 476h0M312.1 475.1h0M313 474.9h0M313.9 475.6h0M314.8 475.4h0M315.7 475.1h0M316.6 475.5h0M317.5 475.2h0M318.4 475.7h0M319.3 475.7h0M320.2 476.1h0M321.1 475.5h0M322 475.1h0" fill="none" stroke="#e52ee0" stroke-width="2.9" stroke-linecap="round"/><path d="M54.7 511.8L55.6 512.4L56.5 513.3L57.4 513L58.3 512.3L59.2 513.1L60.1 512L61 513.2L61.9 512.5L62.8 513.1L63.7 513L64.6 512.6L65.5 512.9L66.4 512.3L67.3 512.8L68.2 513.4L69.1 514.9L70 513.2L70.9 513L71.8 512.4L72.7 513.5L73.6 512.2L74.5 512.6L75.4 513.2L76.3 512.5L77.2 513.9L78.1 513.7L79 512.9L79.9 512.9L80.8 512.5L81.7 512.5L82.6 513.5L83.5 513.6L84.4 513.5L85.3 513.5L86.2 513.1L87.1 513.6L88 512.7L88.9 513.4L89.8 514.2L90.7 514.1L91.6 513.3L92.5 513.4L93.4 514.3L94.3 514.5L95.2 512.9L96.1 513.4L97 513.8L97.9 514.3L98.8 513.3L99.7 514.1L100.6 513.6L101.5 515L102.4 514.1L103.3 513.8L104.2 513.8L105.1 514.5L106 514.3L106.9 513.5L107.8 514.2L108.7 513.4L109.6 513.8L110.5 513.5L111.4 513.6L112.3 513.9L113.2 513.8L114.1 514.6L115 514.8L115.9 514.3L116.8 513.9L117.7 514.9L118.6 513.5L119.5 513.6L120.4 514.9L121.3 514.9L122.2 515.1L123.1 514.6L124 514.1L124.9 514.5L125.8 515L126.7 514.4L127.6 514.4L128.5 514.1L129.4 514.2L130.3 515.3L131.2 515.1L132.1 514.3L133 514.3L133.9 514.6L134.8 515.2L135.7 514L136.6 513.5L137.5 511.3L138.4 510.5L139.3 510.2L140.2 509.1L141.1 506.8L142 505.6L142.9 505.1L143.8 503.2L144.7 501.9L145.6 501.1L146.5 499.7L147.4 498.9L148.3 497.4L149.2 495.5L150.1 494.6L151 493.4L151.9 491.4L152.8 490L153.7 488.9L154.6 483.4L155.5 479L156.4 473.4L157.3 470.4L158.2 471.2L159.1 473.1L160 476.3L160.9 479L161.8 482.5L162.7 485.7L163.6 490.8L164.5 494.4L165.4 496.4L166.3 498.3L167.2 499.6L168.1 501.1L169 502.2L169.9 504L170.8 502.4L171.7 504.1L172.6 504L173.5 503.7L174.4 504.1L175.3 504.1L176.2 504.5L177.1 505.2L178 504L178.9 505.5L179.8 504.7L180.7 505.7L181.6 505.2L182.5 505.6L183.4 505.3L184.3 505.5L185.2 505L186.1 504.5L187 505.2L187.9 505.2L188.8 505.9L189.7 503.8L190.6 504.7L191.5 505.3L192.4 504.1L193.3 504.5L194.2 505.7L195.1 505.3L196 504.1L196.9 505.2L197.8 505L198.7 504.8L199.6 504.5L200.5 504.4L201.4 503.7L202.3 503.8L203.2 504.3L204.1 503.9L205 504.6L205.9 503.4L206.8 502.2L207.7 503L208.6 503.1L209.5 503L210.4 502.6L211.3 501.9L212.2 502.9L213.1 501.5L214 502L214.9 501.3L215.8 500.6L216.7 501.6L217.6 499.4L218.5 500L219.4 500.4L220.3 499.8L221.2 500.1L222.1 499.5L223 499.1L223.9 500.2L224.8 498.8L225.7 498.6L226.6 498L227.5 498L228.4 498.5L229.3 498.4L230.2 498L231.1 497.5L232 498.1L232.9 496.9L233.8 497.5L234.7 497.6L235.6 497.3L236.5 497.8L237.4 497.4L238.3 497.3L239.2 498.7L240.1 498.2L241 498.4L241.9 497.9L242.8 498.4L243.7 498.3L244.6 498.6L245.5 499.2L246.4 498L247.3 498.3L248.2 498.2L249.1 496.5L250 497.6L250.9 498.4L251.8 498.8L252.7 498.2L253.6 499.2L254.5 499.3L255.4 498.5L256.3 499.5L257.2 499.8L258.1 499.2L259 498.6L259.9 499.9L260.8 499.1L261.7 499.1L262.6 499.4L263.5 499.2L264.4 500L265.3 500L266.2 500.3L267.1 500L268 499.4L268.9 499.8L269.8 500.4L270.7 499.8L271.6 501.5L272.5 500L273.4 499.9L274.3 500.8L275.2 500.6L276.1 500.3L277 500.3L277.9 500.7L278.8 500.9L279.7 500.9L280.6 500.5L281.5 500.9L282.4 501.1L283.3 501.2L284.2 499.3L285.1 500.4L286 500.6L286.9 500.9L287.8 501.2L288.7 501.6L289.6 501.5L290.5 501.2L291.4 501.3L292.3 502.2L293.2 501.1L294.1 501.6L295 502.3L295.9 501.7L296.8 500.6L297.7 501.9L298.6 501.5L299.5 501.7L300.4 502.4L301.3 502.1L302.2 501.8L303.1 502.5L304 502.3L304.9 502.2L305.8 502.3L306.7 502.4L307.6 502.1L308.5 502.1L309.4 502.4L310.3 502L311.2 501.9L312.1 503.2L313 502.5L313.9 502.7L314.8 502.7L315.7 502.8L316.6 502.9L317.5 503L318.4 502.6L319.3 503.5L320.2 502.7L321.1 503.7L322 502.2" fill="none" stroke="#6a1ee0" stroke-width="1.0" stroke-linejoin="round"/><path d="M54.7 511.8h0M55.6 512.4h0M56.5 513.3h0M57.4 513h0M58.3 512.3h0M59.2 513.1h0M60.1 512h0M61 513.2h0M61.9 512.5h0M62.8 513.1h0M63.7 513h0M64.6 512.6h0M65.5 512.9h0M66.4 512.3h0M67.3 512.8h0M68.2 513.4h0M69.1 514.9h0M70 513.2h0M70.9 513h0M71.8 512.4h0M72.7 513.5h0M73.6 512.2h0M74.5 512.6h0M75.4 513.2h0M76.3 512.5h0M77.2 513.9h0M78.1 513.7h0M79 512.9h0M79.9 512.9h0M80.8 512.5h0M81.7 512.5h0M82.6 513.5h0M83.5 513.6h0M84.4 513.5h0M85.3 513.5h0M86.2 513.1h0M87.1 513.6h0M88 512.7h0M88.9 513.4h0M89.8 514.2h0M90.7 514.1h0M91.6 513.3h0M92.5 513.4h0M93.4 514.3h0M94.3 514.5h0M95.2 512.9h0M96.1 513.4h0M97 513.8h0M97.9 514.3h0M98.8 513.3h0M99.7 514.1h0M100.6 513.6h0M101.5 515h0M102.4 514.1h0M103.3 513.8h0M104.2 513.8h0M105.1 514.5h0M106 514.3h0M106.9 513.5h0M107.8 514.2h0M108.7 513.4h0M109.6 513.8h0M110.5 513.5h0M111.4 513.6h0M112.3 513.9h0M113.2 513.8h0M114.1 514.6h0M115 514.8h0M115.9 514.3h0M116.8 513.9h0M117.7 514.9h0M118.6 513.5h0M119.5 513.6h0M120.4 514.9h0M121.3 514.9h0M122.2 515.1h0M123.1 514.6h0M124 514.1h0M124.9 514.5h0M125.8 515h0M126.7 514.4h0M127.6 514.4h0M128.5 514.1h0M129.4 514.2h0M130.3 515.3h0M131.2 515.1h0M132.1 514.3h0M133 514.3h0M133.9 514.6h0M134.8 515.2h0M135.7 514h0M136.6 513.5h0M137.5 511.3h0M138.4 510.5h0M139.3 510.2h0M140.2 509.1h0M141.1 506.8h0M142 505.6h0M142.9 505.1h0M143.8 503.2h0M144.7 501.9h0M145.6 501.1h0M146.5 499.7h0M147.4 498.9h0M148.3 497.4h0M149.2 495.5h0M150.1 494.6h0M151 493.4h0M151.9 491.4h0M152.8 490h0M153.7 488.9h0M154.6 483.4h0M155.5 479h0M156.4 473.4h0M157.3 470.4h0M158.2 471.2h0M159.1 473.1h0M160 476.3h0M160.9 479h0M161.8 482.5h0M162.7 485.7h0M163.6 490.8h0M164.5 494.4h0M165.4 496.4h0M166.3 498.3h0M167.2 499.6h0M168.1 501.1h0M169 502.2h0M169.9 504h0M170.8 502.4h0M171.7 504.1h0M172.6 504h0M173.5 503.7h0M174.4 504.1h0M175.3 504.1h0M176.2 504.5h0M177.1 505.2h0M178 504h0M178.9 505.5h0M179.8 504.7h0M180.7 505.7h0M181.6 505.2h0M182.5 505.6h0M183.4 505.3h0M184.3 505.5h0M185.2 505h0M186.1 504.5h0M187 505.2h0M187.9 505.2h0M188.8 505.9h0M189.7 503.8h0M190.6 504.7h0M191.5 505.3h0M192.4 504.1h0M193.3 504.5h0M194.2 505.7h0M195.1 505.3h0M196 504.1h0M196.9 505.2h0M197.8 505h0M198.7 504.8h0M199.6 504.5h0M200.5 504.4h0M201.4 503.7h0M202.3 503.8h0M203.2 504.3h0M204.1 503.9h0M205 504.6h0M205.9 503.4h0M206.8 502.2h0M207.7 503h0M208.6 503.1h0M209.5 503h0M210.4 502.6h0M211.3 501.9h0M212.2 502.9h0M213.1 501.5h0M214 502h0M214.9 501.3h0M215.8 500.6h0M216.7 501.6h0M217.6 499.4h0M218.5 500h0M219.4 500.4h0M220.3 499.8h0M221.2 500.1h0M222.1 499.5h0M223 499.1h0M223.9 500.2h0M224.8 498.8h0M225.7 498.6h0M226.6 498h0M227.5 498h0M228.4 498.5h0M229.3 498.4h0M230.2 498h0M231.1 497.5h0M232 498.1h0M232.9 496.9h0M233.8 497.5h0M234.7 497.6h0M235.6 497.3h0M236.5 497.8h0M237.4 497.4h0M238.3 497.3h0M239.2 498.7h0M240.1 498.2h0M241 498.4h0M241.9 497.9h0M242.8 498.4h0M243.7 498.3h0M244.6 498.6h0M245.5 499.2h0M246.4 498h0M247.3 498.3h0M248.2 498.2h0M249.1 496.5h0M250 497.6h0M250.9 498.4h0M251.8 498.8h0M252.7 498.2h0M253.6 499.2h0M254.5 499.3h0M255.4 498.5h0M256.3 499.5h0M257.2 499.8h0M258.1 499.2h0M259 498.6h0M259.9 499.9h0M260.8 499.1h0M261.7 499.1h0M262.6 499.4h0M263.5 499.2h0M264.4 500h0M265.3 500h0M266.2 500.3h0M267.1 500h0M268 499.4h0M268.9 499.8h0M269.8 500.4h0M270.7 499.8h0M271.6 501.5h0M272.5 500h0M273.4 499.9h0M274.3 500.8h0M275.2 500.6h0M276.1 500.3h0M277 500.3h0M277.9 500.7h0M278.8 500.9h0M279.7 500.9h0M280.6 500.5h0M281.5 500.9h0M282.4 501.1h0M283.3 501.2h0M284.2 499.3h0M285.1 500.4h0M286 500.6h0M286.9 500.9h0M287.8 501.2h0M288.7 501.6h0M289.6 501.5h0M290.5 501.2h0M291.4 501.3h0M292.3 502.2h0M293.2 501.1h0M294.1 501.6h0M295 502.3h0M295.9 501.7h0M296.8 500.6h0M297.7 501.9h0M298.6 501.5h0M299.5 501.7h0M300.4 502.4h0M301.3 502.1h0M302.2 501.8h0M303.1 502.5h0M304 502.3h0M304.9 502.2h0M305.8 502.3h0M306.7 502.4h0M307.6 502.1h0M308.5 502.1h0M309.4 502.4h0M310.3 502h0M311.2 501.9h0M312.1 503.2h0M313 502.5h0M313.9 502.7h0M314.8 502.7h0M315.7 502.8h0M316.6 502.9h0M317.5 503h0M318.4 502.6h0M319.3 503.5h0M320.2 502.7h0M321.1 503.7h0M322 502.2h0" fill="none" stroke="#6a1ee0" stroke-width="2.9" stroke-linecap="round"/><path d="M54.7 560.6L55.6 561.2L56.5 560.9L57.4 560.7L58.3 561L59.2 560.6L60.1 560.9L61 560.2L61.9 560.8L62.8 560.7L63.7 561.1L64.6 561.2L65.5 560.6L66.4 561.4L67.3 560.7L68.2 560.3L69.1 560.2L70 561.4L70.9 560.9L71.8 560.7L72.7 560.7L73.6 560.6L74.5 561.3L75.4 560.9L76.3 561.4L77.2 560.8L78.1 560.2L79 561.2L79.9 560.8L80.8 560.8L81.7 561.4L82.6 560.8L83.5 561.2L84.4 560.9L85.3 560.7L86.2 561.1L87.1 560.7L88 561.3L88.9 561.2L89.8 560.9L90.7 561.1L91.6 561.1L92.5 560.8L93.4 561.2L94.3 560.8L95.2 561.1L96.1 560.6L97 560.9L97.9 561L98.8 560.7L99.7 560.8L100.6 560.7L101.5 561.1L102.4 560.7L103.3 561L104.2 561.4L105.1 561L106 560.4L106.9 560.9L107.8 561.2L108.7 560.8L109.6 561.2L110.5 561.1L111.4 561L112.3 560.8L113.2 560.7L114.1 560.8L115 560.6L115.9 560.1L116.8 559.2L117.7 558.1L118.6 557.2L119.5 556L120.4 553.6L121.3 551.8L122.2 549.5L123.1 547.3L124 544.7L124.9 542.3L125.8 539.8L126.7 537.6L127.6 534.6L128.5 531.2L129.4 528.9L130.3 526.2L131.2 525.1L132.1 523.1L133 521.7L133.9 520.6L134.8 519.4L135.7 518.7L136.6 518.9L137.5 518.5L138.4 518.9L139.3 519.4L140.2 519.2L141.1 520.6L142 520.8L142.9 521.5L143.8 521.5L144.7 522.5L145.6 522.9L146.5 523.2L147.4 524.7L148.3 524.8L149.2 525.2L150.1 526L151 526.7L151.9 527.2L152.8 527.3L153.7 527.6L154.6 527.2L155.5 525.1L156.4 523.8L157.3 522.1L158.2 521.6L159.1 522.2L160 523.1L160.9 524.5L161.8 527.1L162.7 530L163.6 532L164.5 534.3L165.4 536L166.3 536.3L167.2 538L168.1 538.8L169 539.7L169.9 540L170.8 540.8L171.7 541.6L172.6 542.4L173.5 542.9L174.4 543.4L175.3 544.2L176.2 544.3L177.1 543.8L178 543.8L178.9 544.4L179.8 543.5L180.7 543.8L181.6 543.5L182.5 542.4L183.4 542.1L184.3 541.8L185.2 541L186.1 540.6L187 540.4L187.9 540.4L188.8 539.7L189.7 539.5L190.6 539.1L191.5 538.5L192.4 539L193.3 537.5L194.2 537.7L195.1 537.7L196 536.8L196.9 537.1L197.8 536.9L198.7 535.9L199.6 535.9L200.5 535.2L201.4 535.3L202.3 534.8L203.2 534.5L204.1 534.5L205 533.8L205.9 533.7L206.8 533.2L207.7 532.3L208.6 532.3L209.5 532L210.4 531L211.3 531.5L212.2 530.7L213.1 530.3L214 529.5L214.9 529.4L215.8 528.9L216.7 528.2L217.6 527.8L218.5 526.6L219.4 527L220.3 525.7L221.2 524.8L222.1 524.6L223 524L223.9 523.9L224.8 523L225.7 522.8L226.6 522L227.5 522.6L228.4 521.8L229.3 521.8L230.2 520.6L231.1 520.7L232 519.9L232.9 520.1L233.8 519.9L234.7 519L235.6 519.1L236.5 519.1L237.4 519.1L238.3 519.6L239.2 519.8L240.1 520.1L241 521.1L241.9 521.7L242.8 521.8L243.7 522.6L244.6 523.4L245.5 523.9L246.4 524.3L247.3 525.3L248.2 525.8L249.1 526.3L250 526.6L250.9 527.8L251.8 528.3L252.7 528.2L253.6 528.9L254.5 529.9L255.4 529.9L256.3 530.8L257.2 531.3L258.1 531.7L259 532.4L259.9 532.5L260.8 533.3L261.7 533.4L262.6 535.2L263.5 535.5L264.4 536L265.3 536.2L266.2 537L267.1 537.6L268 537.9L268.9 538.3L269.8 538.1L270.7 538.7L271.6 538.6L272.5 538.6L273.4 538.7L274.3 539.3L275.2 539.6L276.1 539L277 540L277.9 540L278.8 539.5L279.7 539.5L280.6 539.7L281.5 540.1L282.4 539.8L283.3 539.6L284.2 540.1L285.1 539.5L286 540.2L286.9 540.6L287.8 540.4L288.7 540.6L289.6 540.6L290.5 540.8L291.4 540.7L292.3 540.5L293.2 540.7L294.1 540.9L295 541.4L295.9 541.6L296.8 541.3L297.7 541L298.6 541.1L299.5 541.4L300.4 541.9L301.3 541.7L302.2 541.7L303.1 541.6L304 542.1L304.9 542.1L305.8 542L306.7 542.2L307.6 542.7L308.5 542.3L309.4 542.9L310.3 542.9L311.2 542.6L312.1 543L313 542.7L313.9 542.6L314.8 542.9L315.7 542.8L316.6 543.3L317.5 543.2L318.4 543.5L319.3 543.7L320.2 542.6L321.1 543.7L322 543.2" fill="none" stroke="#136c13" stroke-width="1.0" stroke-linejoin="round"/><path d="M54.7 560.6h0M55.6 561.2h0M56.5 560.9h0M57.4 560.7h0M58.3 561h0M59.2 560.6h0M60.1 560.9h0M61 560.2h0M61.9 560.8h0M62.8 560.7h0M63.7 561.1h0M64.6 561.2h0M65.5 560.6h0M66.4 561.4h0M67.3 560.7h0M68.2 560.3h0M69.1 560.2h0M70 561.4h0M70.9 560.9h0M71.8 560.7h0M72.7 560.7h0M73.6 560.6h0M74.5 561.3h0M75.4 560.9h0M76.3 561.4h0M77.2 560.8h0M78.1 560.2h0M79 561.2h0M79.9 560.8h0M80.8 560.8h0M81.7 561.4h0M82.6 560.8h0M83.5 561.2h0M84.4 560.9h0M85.3 560.7h0M86.2 561.1h0M87.1 560.7h0M88 561.3h0M88.9 561.2h0M89.8 560.9h0M90.7 561.1h0M91.6 561.1h0M92.5 560.8h0M93.4 561.2h0M94.3 560.8h0M95.2 561.1h0M96.1 560.6h0M97 560.9h0M97.9 561h0M98.8 560.7h0M99.7 560.8h0M100.6 560.7h0M101.5 561.1h0M102.4 560.7h0M103.3 561h0M104.2 561.4h0M105.1 561h0M106 560.4h0M106.9 560.9h0M107.8 561.2h0M108.7 560.8h0M109.6 561.2h0M110.5 561.1h0M111.4 561h0M112.3 560.8h0M113.2 560.7h0M114.1 560.8h0M115 560.6h0M115.9 560.1h0M116.8 559.2h0M117.7 558.1h0M118.6 557.2h0M119.5 556h0M120.4 553.6h0M121.3 551.8h0M122.2 549.5h0M123.1 547.3h0M124 544.7h0M124.9 542.3h0M125.8 539.8h0M126.7 537.6h0M127.6 534.6h0M128.5 531.2h0M129.4 528.9h0M130.3 526.2h0M131.2 525.1h0M132.1 523.1h0M133 521.7h0M133.9 520.6h0M134.8 519.4h0M135.7 518.7h0M136.6 518.9h0M137.5 518.5h0M138.4 518.9h0M139.3 519.4h0M140.2 519.2h0M141.1 520.6h0M142 520.8h0M142.9 521.5h0M143.8 521.5h0M144.7 522.5h0M145.6 522.9h0M146.5 523.2h0M147.4 524.7h0M148.3 524.8h0M149.2 525.2h0M150.1 526h0M151 526.7h0M151.9 527.2h0M152.8 527.3h0M153.7 527.6h0M154.6 527.2h0M155.5 525.1h0M156.4 523.8h0M157.3 522.1h0M158.2 521.6h0M159.1 522.2h0M160 523.1h0M160.9 524.5h0M161.8 527.1h0M162.7 530h0M163.6 532h0M164.5 534.3h0M165.4 536h0M166.3 536.3h0M167.2 538h0M168.1 538.8h0M169 539.7h0M169.9 540h0M170.8 540.8h0M171.7 541.6h0M172.6 542.4h0M173.5 542.9h0M174.4 543.4h0M175.3 544.2h0M176.2 544.3h0M177.1 543.8h0M178 543.8h0M178.9 544.4h0M179.8 543.5h0M180.7 543.8h0M181.6 543.5h0M182.5 542.4h0M183.4 542.1h0M184.3 541.8h0M185.2 541h0M186.1 540.6h0M187 540.4h0M187.9 540.4h0M188.8 539.7h0M189.7 539.5h0M190.6 539.1h0M191.5 538.5h0M192.4 539h0M193.3 537.5h0M194.2 537.7h0M195.1 537.7h0M196 536.8h0M196.9 537.1h0M197.8 536.9h0M198.7 535.9h0M199.6 535.9h0M200.5 535.2h0M201.4 535.3h0M202.3 534.8h0M203.2 534.5h0M204.1 534.5h0M205 533.8h0M205.9 533.7h0M206.8 533.2h0M207.7 532.3h0M208.6 532.3h0M209.5 532h0M210.4 531h0M211.3 531.5h0M212.2 530.7h0M213.1 530.3h0M214 529.5h0M214.9 529.4h0M215.8 528.9h0M216.7 528.2h0M217.6 527.8h0M218.5 526.6h0M219.4 527h0M220.3 525.7h0M221.2 524.8h0M222.1 524.6h0M223 524h0M223.9 523.9h0M224.8 523h0M225.7 522.8h0M226.6 522h0M227.5 522.6h0M228.4 521.8h0M229.3 521.8h0M230.2 520.6h0M231.1 520.7h0M232 519.9h0M232.9 520.1h0M233.8 519.9h0M234.7 519h0M235.6 519.1h0M236.5 519.1h0M237.4 519.1h0M238.3 519.6h0M239.2 519.8h0M240.1 520.1h0M241 521.1h0M241.9 521.7h0M242.8 521.8h0M243.7 522.6h0M244.6 523.4h0M245.5 523.9h0M246.4 524.3h0M247.3 525.3h0M248.2 525.8h0M249.1 526.3h0M250 526.6h0M250.9 527.8h0M251.8 528.3h0M252.7 528.2h0M253.6 528.9h0M254.5 529.9h0M255.4 529.9h0M256.3 530.8h0M257.2 531.3h0M258.1 531.7h0M259 532.4h0M259.9 532.5h0M260.8 533.3h0M261.7 533.4h0M262.6 535.2h0M263.5 535.5h0M264.4 536h0M265.3 536.2h0M266.2 537h0M267.1 537.6h0M268 537.9h0M268.9 538.3h0M269.8 538.1h0M270.7 538.7h0M271.6 538.6h0M272.5 538.6h0M273.4 538.7h0M274.3 539.3h0M275.2 539.6h0M276.1 539h0M277 540h0M277.9 540h0M278.8 539.5h0M279.7 539.5h0M280.6 539.7h0M281.5 540.1h0M282.4 539.8h0M283.3 539.6h0M284.2 540.1h0M285.1 539.5h0M286 540.2h0M286.9 540.6h0M287.8 540.4h0M288.7 540.6h0M289.6 540.6h0M290.5 540.8h0M291.4 540.7h0M292.3 540.5h0M293.2 540.7h0M294.1 540.9h0M295 541.4h0M295.9 541.6h0M296.8 541.3h0M297.7 541h0M298.6 541.1h0M299.5 541.4h0M300.4 541.9h0M301.3 541.7h0M302.2 541.7h0M303.1 541.6h0M304 542.1h0M304.9 542.1h0M305.8 542h0M306.7 542.2h0M307.6 542.7h0M308.5 542.3h0M309.4 542.9h0M310.3 542.9h0M311.2 542.6h0M312.1 543h0M313 542.7h0M313.9 542.6h0M314.8 542.9h0M315.7 542.8h0M316.6 543.3h0M317.5 543.2h0M318.4 543.5h0M319.3 543.7h0M320.2 542.6h0M321.1 543.7h0M322 543.2h0" fill="none" stroke="#136c13" stroke-width="2.9" stroke-linecap="round"/></g><g fill="#000"><rect x="157.7" y="325.5" width="2.4" height="2.4"/><rect x="157.7" y="329.7" width="2.4" height="2.4"/><rect x="157.7" y="333.9" width="2.4" height="2.4"/><rect x="157.7" y="338.1" width="2.4" height="2.4"/><rect x="157.7" y="342.3" width="2.4" height="2.4"/><rect x="157.7" y="346.5" width="2.4" height="2.4"/><rect x="157.7" y="350.7" width="2.4" height="2.4"/><rect x="157.7" y="354.9" width="2.4" height="2.4"/><rect x="157.7" y="359.1" width="2.4" height="2.4"/><rect x="157.7" y="363.3" width="2.4" height="2.4"/><rect x="157.7" y="367.5" width="2.4" height="2.4"/><rect x="157.7" y="371.7" width="2.4" height="2.4"/><rect x="157.7" y="375.9" width="2.4" height="2.4"/><rect x="157.7" y="380.1" width="2.4" height="2.4"/><rect x="157.7" y="384.3" width="2.4" height="2.4"/><rect x="157.7" y="388.5" width="2.4" height="2.4"/><rect x="157.7" y="392.7" width="2.4" height="2.4"/><rect x="157.7" y="396.9" width="2.4" height="2.4"/><rect x="157.7" y="401.1" width="2.4" height="2.4"/><rect x="157.7" y="405.3" width="2.4" height="2.4"/><rect x="157.7" y="409.5" width="2.4" height="2.4"/><rect x="157.7" y="413.7" width="2.4" height="2.4"/><rect x="157.7" y="417.9" width="2.4" height="2.4"/><rect x="157.7" y="422.1" width="2.4" height="2.4"/><rect x="157.7" y="426.3" width="2.4" height="2.4"/><rect x="157.7" y="430.5" width="2.4" height="2.4"/><rect x="157.7" y="434.7" width="2.4" height="2.4"/><rect x="157.7" y="438.9" width="2.4" height="2.4"/><rect x="157.7" y="443.1" width="2.4" height="2.4"/><rect x="157.7" y="447.3" width="2.4" height="2.4"/><rect x="157.7" y="451.5" width="2.4" height="2.4"/><rect x="157.7" y="455.7" width="2.4" height="2.4"/><rect x="157.7" y="459.9" width="2.4" height="2.4"/><rect x="157.7" y="464.1" width="2.4" height="2.4"/><rect x="157.7" y="468.3" width="2.4" height="2.4"/><rect x="157.7" y="472.5" width="2.4" height="2.4"/><rect x="157.7" y="476.7" width="2.4" height="2.4"/><rect x="157.7" y="480.9" width="2.4" height="2.4"/><rect x="157.7" y="485.1" width="2.4" height="2.4"/><rect x="157.7" y="489.3" width="2.4" height="2.4"/><rect x="157.7" y="493.5" width="2.4" height="2.4"/><rect x="157.7" y="497.7" width="2.4" height="2.4"/><rect x="157.7" y="501.9" width="2.4" height="2.4"/><rect x="157.7" y="506.1" width="2.4" height="2.4"/><rect x="157.7" y="510.3" width="2.4" height="2.4"/><rect x="157.7" y="514.5" width="2.4" height="2.4"/><rect x="157.7" y="518.7" width="2.4" height="2.4"/><rect x="157.7" y="522.9" width="2.4" height="2.4"/><rect x="157.7" y="527.1" width="2.4" height="2.4"/><rect x="157.7" y="531.3" width="2.4" height="2.4"/><rect x="157.7" y="535.5" width="2.4" height="2.4"/><rect x="157.7" y="539.7" width="2.4" height="2.4"/><rect x="157.7" y="543.9" width="2.4" height="2.4"/><rect x="157.7" y="548.1" width="2.4" height="2.4"/><rect x="157.7" y="552.3" width="2.4" height="2.4"/><rect x="157.7" y="556.5" width="2.4" height="2.4"/><rect x="157.7" y="560.7" width="2.4" height="2.4"/></g><path d="M276 351.5H299.6" stroke="#7a1a8c" stroke-width="1.0"/><circle cx="288.5" cy="351.5" r="2.2" fill="#7a1a8c"/><text x="305" y="355.4" font-size="11.3" fill="#222" textLength="12.6" lengthAdjust="spacingAndGlyphs">Z9</text><path d="M277.5 371.5H301" stroke="#e8191c" stroke-width="1.0"/><circle cx="290.2" cy="371.5" r="2.2" fill="#e8191c"/><text x="306" y="375.4" font-size="11.3" fill="#222" textLength="12.6" lengthAdjust="spacingAndGlyphs">Z7</text><path d="M277 400.5H300.5" stroke="#000000" stroke-width="1.0"/><circle cx="289.5" cy="400.5" r="2.2" fill="#000000"/><text x="306" y="404.4" font-size="11.3" fill="#222" textLength="12.6" lengthAdjust="spacingAndGlyphs">Z5</text><path d="M275.5 428.5H300" stroke="#6e0a0a" stroke-width="1.0"/><circle cx="287.8" cy="428.5" r="2.2" fill="#6e0a0a"/><text x="305" y="432.4" font-size="11.3" fill="#222" textLength="12.6" lengthAdjust="spacingAndGlyphs">Z3</text><path d="M276.7 463.5H300.8" stroke="#e52ee0" stroke-width="1.0"/><circle cx="289" cy="463.5" r="2.2" fill="#e52ee0"/><text x="304.3" y="467.4" font-size="11.3" fill="#222" textLength="12.6" lengthAdjust="spacingAndGlyphs">Z1</text><path d="M273.7 489.5H298.4" stroke="#6a1ee0" stroke-width="1.0"/><circle cx="286.2" cy="489.5" r="2.2" fill="#6a1ee0"/><text x="301.5" y="493.4" font-size="11.3" fill="#222" textLength="12.6" lengthAdjust="spacingAndGlyphs">Z0</text><path d="M244.2 554.5H269" stroke="#136c13" stroke-width="1.0"/><circle cx="256.7" cy="554.5" r="2.2" fill="#136c13"/><text x="272.5" y="558.4" font-size="11.3" fill="#222">CrN (ref)</text><text x="213.6" y="340.9" font-size="12.6" text-anchor="start" font-weight="normal" fill="#1a1a1a" stroke="#1a1a1a" stroke-width="0.3" textLength="103.7" lengthAdjust="spacing">Nitrogen K-edge</text><text x="139" y="589.1" font-size="12.4" text-anchor="start" font-weight="normal" fill="#1a1a1a" stroke="#1a1a1a" stroke-width="0.3" textLength="123.8" lengthAdjust="spacing">Photon Energy (eV)</text><text transform="translate(46.6 432.3) rotate(-90)" x="0" y="0" font-size="14.2" text-anchor="middle" font-weight="normal" fill="#111" textLength="112.5" lengthAdjust="spacingAndGlyphs">Total Electron Yield</text><text x="0" y="0" font-size="34" text-anchor="start" font-weight="normal" fill="#000" transform="translate(3.6 316.9) scale(0.92 1)">c</text><rect x="406" y="321.5" width="267.4" height="239.8" fill="none" stroke="#3c3c3c" stroke-width="1"/><text x="406" y="574.3" font-size="11.2" text-anchor="middle" fill="#1a1a1a">520</text><text x="439.4" y="574.3" font-size="11.2" text-anchor="middle" fill="#1a1a1a">525</text><text x="472.9" y="574.3" font-size="11.2" text-anchor="middle" fill="#1a1a1a">530</text><text x="506.3" y="574.3" font-size="11.2" text-anchor="middle" fill="#1a1a1a">535</text><text x="539.7" y="574.3" font-size="11.2" text-anchor="middle" fill="#1a1a1a">540</text><text x="573.1" y="574.3" font-size="11.2" text-anchor="middle" fill="#1a1a1a">545</text><text x="606.5" y="574.3" font-size="11.2" text-anchor="middle" fill="#1a1a1a">550</text><text x="640" y="574.3" font-size="11.2" text-anchor="middle" fill="#1a1a1a">555</text><text x="673.4" y="574.3" font-size="11.2" text-anchor="middle" fill="#1a1a1a">560</text><path d="M406 561.3v2.6M439.4 561.3v2.6M472.9 561.3v2.6M506.3 561.3v2.6M539.7 561.3v2.6M573.1 561.3v2.6M606.5 561.3v2.6M640 561.3v2.6M673.4 561.3v2.6M422.7 561.3v1.6M456.1 561.3v1.6M489.6 561.3v1.6M523 561.3v1.6M556.4 561.3v1.6M589.8 561.3v1.6M623.3 561.3v1.6M656.7 561.3v1.6" stroke="#3c3c3c" stroke-width="1" fill="none"/><g clip-path="url(#cd)"><path d="M405.9 363.4L408.1 362.7L410.3 363.4L412.5 364.3L414.7 362.1L416.9 363.4L419.1 363.2L421.3 362L423.5 363.8L425.7 363.3L427.9 362.9L430.1 362.8L432.3 365.5L434.5 363L436.7 362L438.9 362.7L441.1 363.1L443.3 363.2L445.5 363.5L447.7 362.9L449.9 364.1L452.1 363.5L454.3 363.1L456.5 363.6L458.7 364.1L460.9 365.2L463.1 365.1L465.3 364.8L467.5 365.3L469.7 365.7L471.9 367.3L474.1 366.1L476.3 367.8L478.5 369L480.7 368.9L482.9 370.7L485.1 372L487.3 373L489.5 375.1L491.7 376.3L493.9 376.5L496.1 374.9L498.3 373.9L500.5 373.9L502.7 369.4L504.9 366.8L507.1 363L509.3 358L511.5 354.3L513.7 350L515.9 346.4L518.1 342.9L520.3 338.3L522.5 335.2L524.7 332.2L526.9 330.1L529.1 329.4L531.3 329.1L533.5 331.2L535.7 332.7L537.9 333.5L540.1 333.9L542.3 333L544.5 335.4L546.7 334.5L548.9 335.5L551.1 337.2L553.3 335.4L555.5 336.9L557.7 336.6L559.9 336.4L562.1 336L564.3 336.9L566.5 336.4L568.7 337.5L570.9 337.7L573.1 335.9L575.3 336.6L577.5 336.7L579.7 336.2L581.9 336.2L584.1 337.1L586.3 336.9L588.5 336L590.7 336.8L592.9 337.6L595.1 336.4L597.3 336.7L599.5 338.5L601.7 338.3L603.9 336.4L606.1 336.6L608.3 337.9L610.5 336.9L612.7 337.7L614.9 337.7L617.1 338.5L619.3 336.4L621.5 336.7L623.7 337.5L625.9 339.1L628.1 338.4L630.3 337.3L632.5 338.9L634.7 339.1L636.9 338.4L639.1 338.4L641.3 338.9L643.5 339.4L645.7 338.7L647.9 339L650.1 338.6L652.3 338.3L654.5 338L656.7 338.8L658.9 338.4L661.1 338.4L663.3 339.3L665.5 338.9L667.7 339.2L669.9 337.5L672.1 339" fill="none" stroke="#7a1a8c" stroke-width="0.8" stroke-linejoin="round"/><path d="M405.9 363.4h0M408.1 362.7h0M410.3 363.4h0M412.5 364.3h0M414.7 362.1h0M416.9 363.4h0M419.1 363.2h0M421.3 362h0M423.5 363.8h0M425.7 363.3h0M427.9 362.9h0M430.1 362.8h0M432.3 365.5h0M434.5 363h0M436.7 362h0M438.9 362.7h0M441.1 363.1h0M443.3 363.2h0M445.5 363.5h0M447.7 362.9h0M449.9 364.1h0M452.1 363.5h0M454.3 363.1h0M456.5 363.6h0M458.7 364.1h0M460.9 365.2h0M463.1 365.1h0M465.3 364.8h0M467.5 365.3h0M469.7 365.7h0M471.9 367.3h0M474.1 366.1h0M476.3 367.8h0M478.5 369h0M480.7 368.9h0M482.9 370.7h0M485.1 372h0M487.3 373h0M489.5 375.1h0M491.7 376.3h0M493.9 376.5h0M496.1 374.9h0M498.3 373.9h0M500.5 373.9h0M502.7 369.4h0M504.9 366.8h0M507.1 363h0M509.3 358h0M511.5 354.3h0M513.7 350h0M515.9 346.4h0M518.1 342.9h0M520.3 338.3h0M522.5 335.2h0M524.7 332.2h0M526.9 330.1h0M529.1 329.4h0M531.3 329.1h0M533.5 331.2h0M535.7 332.7h0M537.9 333.5h0M540.1 333.9h0M542.3 333h0M544.5 335.4h0M546.7 334.5h0M548.9 335.5h0M551.1 337.2h0M553.3 335.4h0M555.5 336.9h0M557.7 336.6h0M559.9 336.4h0M562.1 336h0M564.3 336.9h0M566.5 336.4h0M568.7 337.5h0M570.9 337.7h0M573.1 335.9h0M575.3 336.6h0M577.5 336.7h0M579.7 336.2h0M581.9 336.2h0M584.1 337.1h0M586.3 336.9h0M588.5 336h0M590.7 336.8h0M592.9 337.6h0M595.1 336.4h0M597.3 336.7h0M599.5 338.5h0M601.7 338.3h0M603.9 336.4h0M606.1 336.6h0M608.3 337.9h0M610.5 336.9h0M612.7 337.7h0M614.9 337.7h0M617.1 338.5h0M619.3 336.4h0M621.5 336.7h0M623.7 337.5h0M625.9 339.1h0M628.1 338.4h0M630.3 337.3h0M632.5 338.9h0M634.7 339.1h0M636.9 338.4h0M639.1 338.4h0M641.3 338.9h0M643.5 339.4h0M645.7 338.7h0M647.9 339h0M650.1 338.6h0M652.3 338.3h0M654.5 338h0M656.7 338.8h0M658.9 338.4h0M661.1 338.4h0M663.3 339.3h0M665.5 338.9h0M667.7 339.2h0M669.9 337.5h0M672.1 339h0" fill="none" stroke="#7a1a8c" stroke-width="3.3" stroke-linecap="round"/><path d="M405.9 405.3L408.1 404.9L410.3 404.7L412.5 406L414.7 405.7L416.9 404.5L419.1 404.1L421.3 404.8L423.5 404.4L425.7 405.8L427.9 403.6L430.1 403.3L432.3 404.4L434.5 404.6L436.7 404.7L438.9 405.2L441.1 406.2L443.3 404.5L445.5 404.5L447.7 403.8L449.9 405.4L452.1 406L454.3 405.4L456.5 406.6L458.7 406L460.9 407.3L463.1 406.7L465.3 406L467.5 406.6L469.7 406.2L471.9 406.3L474.1 408.1L476.3 409L478.5 410.2L480.7 409.3L482.9 409.7L485.1 409.7L487.3 411.7L489.5 411.8L491.7 411.8L493.9 413.4L496.1 414L498.3 412.7L500.5 413.8L502.7 410.7L504.9 407.4L507.1 403.9L509.3 401.4L511.5 397L513.7 392.9L515.9 386.2L518.1 381.8L520.3 378.7L522.5 373.7L524.7 371.1L526.9 368.3L529.1 369.1L531.3 367.8L533.5 367.5L535.7 367.6L537.9 367.5L540.1 368.2L542.3 370L544.5 370L546.7 371.9L548.9 371.2L551.1 371.5L553.3 373.6L555.5 373.6L557.7 375.1L559.9 375.1L562.1 374L564.3 376L566.5 374.8L568.7 376.6L570.9 374.8L573.1 374.6L575.3 376.2L577.5 376.3L579.7 376.1L581.9 375.2L584.1 376.7L586.3 375.1L588.5 375.8L590.7 375.6L592.9 375.9L595.1 376.8L597.3 375.8L599.5 376.7L601.7 376.8L603.9 375.2L606.1 375.6L608.3 376.2L610.5 376.1L612.7 376.7L614.9 375.2L617.1 377.1L619.3 377.2L621.5 376.6L623.7 375.7L625.9 376.7L628.1 376.4L630.3 377.2L632.5 376.7L634.7 377.3L636.9 376.5L639.1 377.8L641.3 375.2L643.5 376L645.7 377.1L647.9 375.6L650.1 377.2L652.3 375.7L654.5 376.6L656.7 375.8L658.9 376.1L661.1 376.4L663.3 376.2L665.5 375.9L667.7 377.6L669.9 376L672.1 375.2" fill="none" stroke="#e8191c" stroke-width="0.8" stroke-linejoin="round"/><path d="M405.9 405.3h0M408.1 404.9h0M410.3 404.7h0M412.5 406h0M414.7 405.7h0M416.9 404.5h0M419.1 404.1h0M421.3 404.8h0M423.5 404.4h0M425.7 405.8h0M427.9 403.6h0M430.1 403.3h0M432.3 404.4h0M434.5 404.6h0M436.7 404.7h0M438.9 405.2h0M441.1 406.2h0M443.3 404.5h0M445.5 404.5h0M447.7 403.8h0M449.9 405.4h0M452.1 406h0M454.3 405.4h0M456.5 406.6h0M458.7 406h0M460.9 407.3h0M463.1 406.7h0M465.3 406h0M467.5 406.6h0M469.7 406.2h0M471.9 406.3h0M474.1 408.1h0M476.3 409h0M478.5 410.2h0M480.7 409.3h0M482.9 409.7h0M485.1 409.7h0M487.3 411.7h0M489.5 411.8h0M491.7 411.8h0M493.9 413.4h0M496.1 414h0M498.3 412.7h0M500.5 413.8h0M502.7 410.7h0M504.9 407.4h0M507.1 403.9h0M509.3 401.4h0M511.5 397h0M513.7 392.9h0M515.9 386.2h0M518.1 381.8h0M520.3 378.7h0M522.5 373.7h0M524.7 371.1h0M526.9 368.3h0M529.1 369.1h0M531.3 367.8h0M533.5 367.5h0M535.7 367.6h0M537.9 367.5h0M540.1 368.2h0M542.3 370h0M544.5 370h0M546.7 371.9h0M548.9 371.2h0M551.1 371.5h0M553.3 373.6h0M555.5 373.6h0M557.7 375.1h0M559.9 375.1h0M562.1 374h0M564.3 376h0M566.5 374.8h0M568.7 376.6h0M570.9 374.8h0M573.1 374.6h0M575.3 376.2h0M577.5 376.3h0M579.7 376.1h0M581.9 375.2h0M584.1 376.7h0M586.3 375.1h0M588.5 375.8h0M590.7 375.6h0M592.9 375.9h0M595.1 376.8h0M597.3 375.8h0M599.5 376.7h0M601.7 376.8h0M603.9 375.2h0M606.1 375.6h0M608.3 376.2h0M610.5 376.1h0M612.7 376.7h0M614.9 375.2h0M617.1 377.1h0M619.3 377.2h0M621.5 376.6h0M623.7 375.7h0M625.9 376.7h0M628.1 376.4h0M630.3 377.2h0M632.5 376.7h0M634.7 377.3h0M636.9 376.5h0M639.1 377.8h0M641.3 375.2h0M643.5 376h0M645.7 377.1h0M647.9 375.6h0M650.1 377.2h0M652.3 375.7h0M654.5 376.6h0M656.7 375.8h0M658.9 376.1h0M661.1 376.4h0M663.3 376.2h0M665.5 375.9h0M667.7 377.6h0M669.9 376h0M672.1 375.2h0" fill="none" stroke="#e8191c" stroke-width="3.3" stroke-linecap="round"/><path d="M405.9 448.5L407.9 448L409.9 448L411.9 448.2L413.9 444.8L415.9 446.6L417.9 446.3L419.9 444.8L421.9 444.8L423.9 440.9L425.9 443.4L427.9 445.8L429.9 441.7L431.9 443L433.9 443.8L435.9 444.1L437.9 445.3L439.9 441.6L441.9 443.6L443.9 444.6L445.9 442.3L447.9 443.8L449.9 446L451.9 445.5L453.9 444.8L455.9 441.5L457.9 444.4L459.9 445.2L461.9 444.6L463.9 445.1L465.9 448.7L467.9 445.3L469.9 444.7L471.9 446.4L473.9 446.3L475.9 447L477.9 448L479.9 449.9L481.9 450.1L483.9 449.3L485.9 451.1L487.9 452.2L489.9 451.3L491.9 452.9L493.9 452.1L495.9 449.5L497.9 450.2L499.9 451.1L501.9 449.1L503.9 444L505.9 431.7L507.9 427.9L509.9 425.9L511.9 427.3L513.9 426.5L515.9 426.3L517.9 424.9L519.9 424L521.9 420.1L523.9 416.2L525.9 411.9L527.9 408.9L529.9 409.1L531.9 405.6L533.9 406.3L535.9 408.3L537.9 408.2L539.9 406L541.9 404.8L543.9 402.5L545.9 403.4L547.9 403.2L549.9 400.7L551.9 402.9L553.9 402.9L555.9 402.9L557.9 401.2L559.9 403.1L561.9 400.9L563.9 404.3L565.9 402.9L567.9 401.6L569.9 404.4L571.9 404.3L573.9 402.5L575.9 405.7L577.9 402.3L579.9 404L581.9 405.3L583.9 401.9L585.9 406L587.9 405.3L589.9 405.9L591.9 405.3L593.9 407.3L595.9 406.2L597.9 406.7L599.9 407.6L601.9 407L603.9 410.2L605.9 407.2L607.9 408.1L609.9 408.7L611.9 409.3L613.9 410.3L615.9 410.5L617.9 409.4L619.9 409.5L621.9 410.1L623.9 411.1L625.9 411L627.9 409.8L629.9 408.1L631.9 412.8L633.9 411.5L635.9 410.8L637.9 410.9L639.9 409.9L641.9 409.4L643.9 410.1L645.9 410.2L647.9 409.7L649.9 408.8L651.9 410L653.9 410.9L655.9 409.7L657.9 410.2L659.9 407.8L661.9 409.8L663.9 409.8L665.9 408.5L667.9 407.8L669.9 410L671.9 408.5" fill="none" stroke="#000000" stroke-width="0.8" stroke-linejoin="round"/><path d="M405.9 448.5h0M407.9 448h0M409.9 448h0M411.9 448.2h0M413.9 444.8h0M415.9 446.6h0M417.9 446.3h0M419.9 444.8h0M421.9 444.8h0M423.9 440.9h0M425.9 443.4h0M427.9 445.8h0M429.9 441.7h0M431.9 443h0M433.9 443.8h0M435.9 444.1h0M437.9 445.3h0M439.9 441.6h0M441.9 443.6h0M443.9 444.6h0M445.9 442.3h0M447.9 443.8h0M449.9 446h0M451.9 445.5h0M453.9 444.8h0M455.9 441.5h0M457.9 444.4h0M459.9 445.2h0M461.9 444.6h0M463.9 445.1h0M465.9 448.7h0M467.9 445.3h0M469.9 444.7h0M471.9 446.4h0M473.9 446.3h0M475.9 447h0M477.9 448h0M479.9 449.9h0M481.9 450.1h0M483.9 449.3h0M485.9 451.1h0M487.9 452.2h0M489.9 451.3h0M491.9 452.9h0M493.9 452.1h0M495.9 449.5h0M497.9 450.2h0M499.9 451.1h0M501.9 449.1h0M503.9 444h0M505.9 431.7h0M507.9 427.9h0M509.9 425.9h0M511.9 427.3h0M513.9 426.5h0M515.9 426.3h0M517.9 424.9h0M519.9 424h0M521.9 420.1h0M523.9 416.2h0M525.9 411.9h0M527.9 408.9h0M529.9 409.1h0M531.9 405.6h0M533.9 406.3h0M535.9 408.3h0M537.9 408.2h0M539.9 406h0M541.9 404.8h0M543.9 402.5h0M545.9 403.4h0M547.9 403.2h0M549.9 400.7h0M551.9 402.9h0M553.9 402.9h0M555.9 402.9h0M557.9 401.2h0M559.9 403.1h0M561.9 400.9h0M563.9 404.3h0M565.9 402.9h0M567.9 401.6h0M569.9 404.4h0M571.9 404.3h0M573.9 402.5h0M575.9 405.7h0M577.9 402.3h0M579.9 404h0M581.9 405.3h0M583.9 401.9h0M585.9 406h0M587.9 405.3h0M589.9 405.9h0M591.9 405.3h0M593.9 407.3h0M595.9 406.2h0M597.9 406.7h0M599.9 407.6h0M601.9 407h0M603.9 410.2h0M605.9 407.2h0M607.9 408.1h0M609.9 408.7h0M611.9 409.3h0M613.9 410.3h0M615.9 410.5h0M617.9 409.4h0M619.9 409.5h0M621.9 410.1h0M623.9 411.1h0M625.9 411h0M627.9 409.8h0M629.9 408.1h0M631.9 412.8h0M633.9 411.5h0M635.9 410.8h0M637.9 410.9h0M639.9 409.9h0M641.9 409.4h0M643.9 410.1h0M645.9 410.2h0M647.9 409.7h0M649.9 408.8h0M651.9 410h0M653.9 410.9h0M655.9 409.7h0M657.9 410.2h0M659.9 407.8h0M661.9 409.8h0M663.9 409.8h0M665.9 408.5h0M667.9 407.8h0M669.9 410h0M671.9 408.5h0" fill="none" stroke="#000000" stroke-width="3.3" stroke-linecap="round"/><path d="M405.9 483.4L408.5 481.3L411.1 483L413.7 480.8L416.3 478.2L418.9 480.8L421.5 480L424.1 481.8L426.7 479.4L429.3 479.4L431.9 481.8L434.5 482.3L437.1 481.5L439.7 482.1L442.3 480.9L444.9 481.5L447.5 481.8L450.1 480.8L452.7 480.1L455.3 480.3L457.9 484.8L460.5 480L463.1 479.5L465.7 479.3L468.3 479.9L470.9 480.5L473.5 478.3L476.1 477.8L478.7 484L481.3 481.8L483.9 486.9L486.5 487.3L489.1 489.4L491.7 490.2L494.3 487.2L496.9 484.7L499.5 476.3L502.1 469.1L504.7 463L507.3 451.6L509.9 453.2L512.5 452.1L515.1 452.2L517.7 446.7L520.3 441.7L522.9 435.1L525.5 431.5L528.1 425L530.7 426.4L533.3 429.2L535.9 426.6L538.5 427.6L541.1 424.8L543.7 431.7L546.3 426.9L548.9 431.9L551.5 430.7L554.1 428L556.7 433.2L559.3 430.1L561.9 430.1L564.5 430.3L567.1 428.4L569.7 426.8L572.3 428.8L574.9 425.9L577.5 427.2L580.1 425.1L582.7 422.9L585.3 425.8L587.9 426.8L590.5 429L593.1 433.2L595.7 424.8L598.3 431.1L600.9 424.1L603.5 428.1L606.1 430.1L608.7 424.5L611.3 425.8L613.9 432.6L616.5 432.5L619.1 431.9L621.7 429.6L624.3 439.9L626.9 432L629.5 429.6L632.1 438.7L634.7 435L637.3 431.6L639.9 437.4L642.5 433.8L645.1 435.8L647.7 434.4L650.3 429.8L652.9 437.5L655.5 434.6L658.1 430.3L660.7 431.4L663.3 438.3L665.9 433.3L668.5 435.1L671.1 437.7" fill="none" stroke="#6e0a0a" stroke-width="0.8" stroke-linejoin="round"/><path d="M405.9 483.4h0M408.5 481.3h0M411.1 483h0M413.7 480.8h0M416.3 478.2h0M418.9 480.8h0M421.5 480h0M424.1 481.8h0M426.7 479.4h0M429.3 479.4h0M431.9 481.8h0M434.5 482.3h0M437.1 481.5h0M439.7 482.1h0M442.3 480.9h0M444.9 481.5h0M447.5 481.8h0M450.1 480.8h0M452.7 480.1h0M455.3 480.3h0M457.9 484.8h0M460.5 480h0M463.1 479.5h0M465.7 479.3h0M468.3 479.9h0M470.9 480.5h0M473.5 478.3h0M476.1 477.8h0M478.7 484h0M481.3 481.8h0M483.9 486.9h0M486.5 487.3h0M489.1 489.4h0M491.7 490.2h0M494.3 487.2h0M496.9 484.7h0M499.5 476.3h0M502.1 469.1h0M504.7 463h0M507.3 451.6h0M509.9 453.2h0M512.5 452.1h0M515.1 452.2h0M517.7 446.7h0M520.3 441.7h0M522.9 435.1h0M525.5 431.5h0M528.1 425h0M530.7 426.4h0M533.3 429.2h0M535.9 426.6h0M538.5 427.6h0M541.1 424.8h0M543.7 431.7h0M546.3 426.9h0M548.9 431.9h0M551.5 430.7h0M554.1 428h0M556.7 433.2h0M559.3 430.1h0M561.9 430.1h0M564.5 430.3h0M567.1 428.4h0M569.7 426.8h0M572.3 428.8h0M574.9 425.9h0M577.5 427.2h0M580.1 425.1h0M582.7 422.9h0M585.3 425.8h0M587.9 426.8h0M590.5 429h0M593.1 433.2h0M595.7 424.8h0M598.3 431.1h0M600.9 424.1h0M603.5 428.1h0M606.1 430.1h0M608.7 424.5h0M611.3 425.8h0M613.9 432.6h0M616.5 432.5h0M619.1 431.9h0M621.7 429.6h0M624.3 439.9h0M626.9 432h0M629.5 429.6h0M632.1 438.7h0M634.7 435h0M637.3 431.6h0M639.9 437.4h0M642.5 433.8h0M645.1 435.8h0M647.7 434.4h0M650.3 429.8h0M652.9 437.5h0M655.5 434.6h0M658.1 430.3h0M660.7 431.4h0M663.3 438.3h0M665.9 433.3h0M668.5 435.1h0M671.1 437.7h0" fill="none" stroke="#6e0a0a" stroke-width="3.3" stroke-linecap="round"/><path d="M405.9 505.5L408.2 502.8L410.5 505.9L412.8 506.2L415.1 506L417.4 507L419.7 505.1L422 505.6L424.3 506.8L426.6 503.9L428.9 506.9L431.2 506.9L433.5 505.5L435.8 507.1L438.1 505.6L440.4 503.1L442.7 506.2L445 505.1L447.3 505.3L449.6 505.1L451.9 507.1L454.2 506.1L456.5 504.4L458.8 506.4L461.1 507.1L463.4 505.2L465.7 505.9L468 506.3L470.3 506.2L472.6 508L474.9 509.5L477.2 511.4L479.5 511L481.8 511.5L484.1 512.5L486.4 513.6L488.7 512.1L491 514.5L493.3 512.1L495.6 507.6L497.9 502.1L500.2 494.4L502.5 487.7L504.8 479.4L507.1 480.9L509.4 480.8L511.7 482.3L514 484.2L516.3 486.6L518.6 487.6L520.9 489.1L523.2 483.5L525.5 477.8L527.8 475L530.1 480.3L532.4 476.6L534.7 481.9L537 485.3L539.3 483.9L541.6 487.7L543.9 487.7L546.2 485.4L548.5 486.1L550.8 481.8L553.1 478.1L555.4 478.4L557.7 474.9L560 471.5L562.3 469.5L564.6 473.4L566.9 468.1L569.2 467.9L571.5 466L573.8 466.4L576.1 465.2L578.4 464.5L580.7 463L583 462.7L585.3 464.1L587.6 466.2L589.9 469.6L592.2 469L594.5 471.1L596.8 470L599.1 470L601.4 468.9L603.7 471.6L606 469.1L608.3 472.6L610.6 476.2L612.9 474.9L615.2 476.8L617.5 475.2L619.8 474.4L622.1 476.4L624.4 477.2L626.7 480.2L629 481.9L631.3 478.5L633.6 479.6L635.9 480.5L638.2 480.8L640.5 480L642.8 482.5L645.1 483.5L647.4 484.1L649.7 482.3L652 484.5L654.3 482.6L656.6 487.1L658.9 484.7L661.2 486.4L663.5 486.7L665.8 487L668.1 486.8L670.4 486.3L672.7 492" fill="none" stroke="#e52ee0" stroke-width="0.8" stroke-linejoin="round"/><path d="M405.9 505.5h0M408.2 502.8h0M410.5 505.9h0M412.8 506.2h0M415.1 506h0M417.4 507h0M419.7 505.1h0M422 505.6h0M424.3 506.8h0M426.6 503.9h0M428.9 506.9h0M431.2 506.9h0M433.5 505.5h0M435.8 507.1h0M438.1 505.6h0M440.4 503.1h0M442.7 506.2h0M445 505.1h0M447.3 505.3h0M449.6 505.1h0M451.9 507.1h0M454.2 506.1h0M456.5 504.4h0M458.8 506.4h0M461.1 507.1h0M463.4 505.2h0M465.7 505.9h0M468 506.3h0M470.3 506.2h0M472.6 508h0M474.9 509.5h0M477.2 511.4h0M479.5 511h0M481.8 511.5h0M484.1 512.5h0M486.4 513.6h0M488.7 512.1h0M491 514.5h0M493.3 512.1h0M495.6 507.6h0M497.9 502.1h0M500.2 494.4h0M502.5 487.7h0M504.8 479.4h0M507.1 480.9h0M509.4 480.8h0M511.7 482.3h0M514 484.2h0M516.3 486.6h0M518.6 487.6h0M520.9 489.1h0M523.2 483.5h0M525.5 477.8h0M527.8 475h0M530.1 480.3h0M532.4 476.6h0M534.7 481.9h0M537 485.3h0M539.3 483.9h0M541.6 487.7h0M543.9 487.7h0M546.2 485.4h0M548.5 486.1h0M550.8 481.8h0M553.1 478.1h0M555.4 478.4h0M557.7 474.9h0M560 471.5h0M562.3 469.5h0M564.6 473.4h0M566.9 468.1h0M569.2 467.9h0M571.5 466h0M573.8 466.4h0M576.1 465.2h0M578.4 464.5h0M580.7 463h0M583 462.7h0M585.3 464.1h0M587.6 466.2h0M589.9 469.6h0M592.2 469h0M594.5 471.1h0M596.8 470h0M599.1 470h0M601.4 468.9h0M603.7 471.6h0M606 469.1h0M608.3 472.6h0M610.6 476.2h0M612.9 474.9h0M615.2 476.8h0M617.5 475.2h0M619.8 474.4h0M622.1 476.4h0M624.4 477.2h0M626.7 480.2h0M629 481.9h0M631.3 478.5h0M633.6 479.6h0M635.9 480.5h0M638.2 480.8h0M640.5 480h0M642.8 482.5h0M645.1 483.5h0M647.4 484.1h0M649.7 482.3h0M652 484.5h0M654.3 482.6h0M656.6 487.1h0M658.9 484.7h0M661.2 486.4h0M663.5 486.7h0M665.8 487h0M668.1 486.8h0M670.4 486.3h0M672.7 492h0" fill="none" stroke="#e52ee0" stroke-width="3.3" stroke-linecap="round"/><path d="M405.9 540.6L408.2 540.3L410.5 542.5L412.8 539.5L415.1 540.2L417.4 539.3L419.7 540.8L422 539.8L424.3 539.5L426.6 538.7L428.9 539.4L431.2 540.6L433.5 536.2L435.8 538.9L438.1 538.5L440.4 538.7L442.7 536.5L445 540.5L447.3 538.5L449.6 539.6L451.9 539.5L454.2 538.1L456.5 540.2L458.8 538.6L461.1 540.3L463.4 541.7L465.7 542.6L468 543.2L470.3 543.5L472.6 547.5L474.9 546.3L477.2 545.3L479.5 547.9L481.8 549.4L484.1 551.8L486.4 553.1L488.7 554.1L491 557.1L493.3 550.2L495.6 543.4L497.9 537.1L500.2 529.5L502.5 527.3L504.8 522.4L507.1 521.9L509.4 516L511.7 523.1L514 526.4L516.3 529.8L518.6 528.7L520.9 527.9L523.2 533.3L525.5 532.7L527.8 532.1L530.1 535.4L532.4 540.2L534.7 543.6L537 545.8L539.3 545L541.6 550.9L543.9 542.7L546.2 540.9L548.5 534.8L550.8 536.2L553.1 532.6L555.4 531.4L557.7 528.2L560 525.7L562.3 523L564.6 516.3L566.9 518.7L569.2 516.2L571.5 511.8L573.8 510.7L576.1 510.3L578.4 512.3L580.7 510.5L583 510L585.3 509.3L587.6 507.9L589.9 509.7L592.2 511.1L594.5 511.2L596.8 512.6L599.1 514.7L601.4 515.3L603.7 516.3L606 518.3L608.3 518.7L610.6 519.4L612.9 521.4L615.2 517.9L617.5 524.7L619.8 520.4L622.1 525.6L624.4 524.7L626.7 527.9L629 526.5L631.3 525.2L633.6 530.9L635.9 530L638.2 531L640.5 532.1L642.8 535.4L645.1 536.1L647.4 535.9L649.7 533.1L652 536.6L654.3 538.7L656.6 543L658.9 541.2L661.2 541.3L663.5 544.5L665.8 543.1L668.1 544.2L670.4 545.4L672.7 543.7" fill="none" stroke="#6a1ee0" stroke-width="0.8" stroke-linejoin="round"/><path d="M405.9 540.6h0M408.2 540.3h0M410.5 542.5h0M412.8 539.5h0M415.1 540.2h0M417.4 539.3h0M419.7 540.8h0M422 539.8h0M424.3 539.5h0M426.6 538.7h0M428.9 539.4h0M431.2 540.6h0M433.5 536.2h0M435.8 538.9h0M438.1 538.5h0M440.4 538.7h0M442.7 536.5h0M445 540.5h0M447.3 538.5h0M449.6 539.6h0M451.9 539.5h0M454.2 538.1h0M456.5 540.2h0M458.8 538.6h0M461.1 540.3h0M463.4 541.7h0M465.7 542.6h0M468 543.2h0M470.3 543.5h0M472.6 547.5h0M474.9 546.3h0M477.2 545.3h0M479.5 547.9h0M481.8 549.4h0M484.1 551.8h0M486.4 553.1h0M488.7 554.1h0M491 557.1h0M493.3 550.2h0M495.6 543.4h0M497.9 537.1h0M500.2 529.5h0M502.5 527.3h0M504.8 522.4h0M507.1 521.9h0M509.4 516h0M511.7 523.1h0M514 526.4h0M516.3 529.8h0M518.6 528.7h0M520.9 527.9h0M523.2 533.3h0M525.5 532.7h0M527.8 532.1h0M530.1 535.4h0M532.4 540.2h0M534.7 543.6h0M537 545.8h0M539.3 545h0M541.6 550.9h0M543.9 542.7h0M546.2 540.9h0M548.5 534.8h0M550.8 536.2h0M553.1 532.6h0M555.4 531.4h0M557.7 528.2h0M560 525.7h0M562.3 523h0M564.6 516.3h0M566.9 518.7h0M569.2 516.2h0M571.5 511.8h0M573.8 510.7h0M576.1 510.3h0M578.4 512.3h0M580.7 510.5h0M583 510h0M585.3 509.3h0M587.6 507.9h0M589.9 509.7h0M592.2 511.1h0M594.5 511.2h0M596.8 512.6h0M599.1 514.7h0M601.4 515.3h0M603.7 516.3h0M606 518.3h0M608.3 518.7h0M610.6 519.4h0M612.9 521.4h0M615.2 517.9h0M617.5 524.7h0M619.8 520.4h0M622.1 525.6h0M624.4 524.7h0M626.7 527.9h0M629 526.5h0M631.3 525.2h0M633.6 530.9h0M635.9 530h0M638.2 531h0M640.5 532.1h0M642.8 535.4h0M645.1 536.1h0M647.4 535.9h0M649.7 533.1h0M652 536.6h0M654.3 538.7h0M656.6 543h0M658.9 541.2h0M661.2 541.3h0M663.5 544.5h0M665.8 543.1h0M668.1 544.2h0M670.4 545.4h0M672.7 543.7h0" fill="none" stroke="#6a1ee0" stroke-width="3.3" stroke-linecap="round"/></g><g fill="#000"><rect x="501.7" y="374" width="2.4" height="2.4"/><rect x="501.7" y="378.2" width="2.4" height="2.4"/><rect x="501.7" y="382.4" width="2.4" height="2.4"/><rect x="501.7" y="386.6" width="2.4" height="2.4"/><rect x="501.7" y="390.8" width="2.4" height="2.4"/><rect x="501.7" y="395" width="2.4" height="2.4"/><rect x="501.7" y="399.2" width="2.4" height="2.4"/><rect x="501.7" y="403.4" width="2.4" height="2.4"/><rect x="501.7" y="407.6" width="2.4" height="2.4"/><rect x="501.7" y="411.8" width="2.4" height="2.4"/><rect x="501.7" y="416" width="2.4" height="2.4"/><rect x="501.7" y="420.2" width="2.4" height="2.4"/><rect x="501.7" y="424.4" width="2.4" height="2.4"/><rect x="501.7" y="428.6" width="2.4" height="2.4"/><rect x="501.7" y="432.8" width="2.4" height="2.4"/><rect x="501.7" y="437" width="2.4" height="2.4"/><rect x="501.7" y="441.2" width="2.4" height="2.4"/><rect x="501.7" y="445.4" width="2.4" height="2.4"/><rect x="501.7" y="449.6" width="2.4" height="2.4"/><rect x="501.7" y="453.8" width="2.4" height="2.4"/><rect x="501.7" y="458" width="2.4" height="2.4"/><rect x="501.7" y="462.2" width="2.4" height="2.4"/><rect x="501.7" y="466.4" width="2.4" height="2.4"/><rect x="501.7" y="470.6" width="2.4" height="2.4"/><rect x="501.7" y="474.8" width="2.4" height="2.4"/><rect x="501.7" y="479" width="2.4" height="2.4"/><rect x="501.7" y="483.2" width="2.4" height="2.4"/><rect x="501.7" y="487.4" width="2.4" height="2.4"/><rect x="501.7" y="491.6" width="2.4" height="2.4"/><rect x="501.7" y="495.8" width="2.4" height="2.4"/><rect x="501.7" y="500" width="2.4" height="2.4"/><rect x="501.7" y="504.2" width="2.4" height="2.4"/><rect x="501.7" y="508.4" width="2.4" height="2.4"/><rect x="501.7" y="512.6" width="2.4" height="2.4"/><rect x="501.7" y="516.8" width="2.4" height="2.4"/><rect x="501.7" y="521" width="2.4" height="2.4"/><rect x="501.7" y="525.2" width="2.4" height="2.4"/><rect x="501.7" y="529.4" width="2.4" height="2.4"/><rect x="501.7" y="533.6" width="2.4" height="2.4"/><rect x="501.7" y="537.8" width="2.4" height="2.4"/><rect x="501.7" y="542" width="2.4" height="2.4"/><rect x="501.7" y="546.2" width="2.4" height="2.4"/><rect x="501.7" y="550.4" width="2.4" height="2.4"/><rect x="501.7" y="554.6" width="2.4" height="2.4"/><rect x="501.7" y="558.8" width="2.4" height="2.4"/></g><path d="M632.6 329.5H653.8" stroke="#7a1a8c" stroke-width="1.0"/><circle cx="643.2" cy="329.5" r="2.6" fill="#7a1a8c"/><text x="657.4" y="333.4" font-size="11.3" fill="#222" textLength="11.8" lengthAdjust="spacingAndGlyphs">Z9</text><path d="M627.9 361.5H652.6" stroke="#e8191c" stroke-width="1.0"/><circle cx="639.7" cy="361.5" r="2.6" fill="#e8191c"/><text x="655" y="365.4" font-size="11.3" fill="#222" textLength="11.8" lengthAdjust="spacingAndGlyphs">Z7</text><path d="M626.7 393.5H652.6" stroke="#000000" stroke-width="1.0"/><circle cx="639" cy="393.5" r="2.6" fill="#000000"/><text x="654.5" y="397.4" font-size="11.3" fill="#222" textLength="11.8" lengthAdjust="spacingAndGlyphs">Z5</text><path d="M604.3 450.5H629" stroke="#6e0a0a" stroke-width="1.0"/><circle cx="617.3" cy="450.5" r="2.6" fill="#6e0a0a"/><text x="633.8" y="454.4" font-size="11.3" fill="#222" textLength="11.8" lengthAdjust="spacingAndGlyphs">Z3</text><path d="M606.7 497.5H631.4" stroke="#e52ee0" stroke-width="1.0"/><circle cx="619.6" cy="497.5" r="2.6" fill="#e52ee0"/><text x="635" y="501.4" font-size="11.3" fill="#222" textLength="11.8" lengthAdjust="spacingAndGlyphs">Z1</text><path d="M606.7 550.5H631.4" stroke="#6a1ee0" stroke-width="1.0"/><circle cx="619.2" cy="550.5" r="2.6" fill="#6a1ee0"/><text x="633.8" y="554.4" font-size="11.3" fill="#222" textLength="11.8" lengthAdjust="spacingAndGlyphs">Z0</text><text x="415.3" y="338.6" font-size="14" text-anchor="start" font-weight="normal" fill="#111" textLength="99" lengthAdjust="spacingAndGlyphs">Oxygen K-edge</text><text x="496.7" y="588.4" font-size="14.2" text-anchor="start" font-weight="normal" fill="#111" textLength="124.6" lengthAdjust="spacingAndGlyphs">Photon Energy (eV)</text><text transform="translate(391.4 429.9) rotate(-90)" x="0" y="0" font-size="14.4" text-anchor="middle" font-weight="normal" fill="#111" textLength="129.6" lengthAdjust="spacingAndGlyphs">Total Electron Yield</text><text x="362.2" y="321.1" font-size="33" text-anchor="start" font-weight="normal" fill="#000">d</text><rect x="54.6" y="5.5" width="267.9" height="248.8" fill="none" stroke="#3c3c3c" stroke-width="1"/><rect x="405.5" y="6" width="264" height="259.5" fill="none" stroke="#3c3c3c" stroke-width="1"/><rect x="54.7" y="325" width="267.5" height="240.4" fill="none" stroke="#3c3c3c" stroke-width="1"/><rect x="406" y="321.5" width="267.4" height="239.8" fill="none" stroke="#3c3c3c" stroke-width="1"/></svg></body></html>
